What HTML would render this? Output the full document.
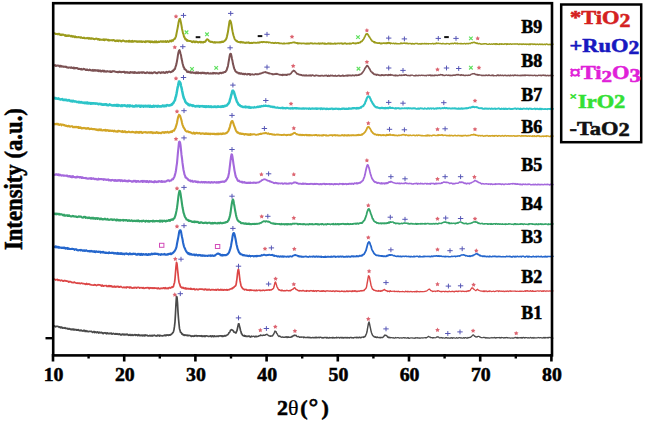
<!DOCTYPE html>
<html><head><meta charset="utf-8"><style>
html,body{margin:0;padding:0;background:#fff;}
body{width:645px;height:424px;overflow:hidden;position:relative;}
svg{position:absolute;left:0;top:0;display:block;}
.t{font-family:"Liberation Serif",serif;font-weight:bold;stroke:currentColor;stroke-width:0.55px;}
</style></head><body>
<svg width="645" height="424" viewBox="0 0 645 424">
<rect width="645" height="424" fill="#fff"/>
<path d="M54.5 33.19 L55.0 33.53 L55.5 33.97 L56.0 33.98 L56.5 34.10 L57.0 33.86 L57.5 34.35 L58.0 34.14 L58.5 33.73 L59.0 34.23 L59.5 33.86 L60.0 34.92 L60.5 35.02 L61.0 34.43 L61.5 34.48 L62.0 35.07 L62.5 34.53 L63.0 34.58 L63.5 34.67 L64.0 34.92 L64.5 35.31 L65.0 35.76 L65.5 35.01 L66.0 35.90 L66.5 35.54 L67.0 35.99 L67.5 35.98 L68.0 35.33 L68.5 35.94 L69.0 35.44 L69.5 35.38 L70.0 35.88 L70.5 36.37 L71.0 36.21 L71.5 35.87 L72.0 36.66 L72.5 36.81 L73.0 36.13 L73.5 36.43 L74.0 36.71 L74.5 37.07 L75.0 36.28 L75.5 36.82 L76.0 37.34 L76.5 37.01 L77.0 37.19 L77.5 37.32 L78.0 37.09 L78.5 36.92 L79.0 37.31 L79.5 37.30 L80.0 37.16 L80.5 37.78 L81.0 37.30 L81.5 37.50 L82.0 37.86 L82.5 37.98 L83.0 38.12 L83.5 37.92 L84.0 37.54 L84.5 38.25 L85.0 38.37 L85.5 38.22 L86.0 38.33 L86.5 38.11 L87.0 38.14 L87.5 38.29 L88.0 37.87 L88.5 38.50 L89.0 38.76 L89.5 38.04 L90.0 38.74 L90.5 38.74 L91.0 38.15 L91.5 38.13 L92.0 38.78 L92.5 38.42 L93.0 38.57 L93.5 38.96 L94.0 39.04 L94.5 39.20 L95.0 39.05 L95.5 38.84 L96.0 38.53 L96.5 38.69 L97.0 38.83 L97.5 39.24 L98.0 39.50 L98.5 38.98 L99.0 39.23 L99.5 39.87 L100.0 39.33 L100.5 39.72 L101.0 39.65 L101.5 39.74 L102.0 39.58 L102.5 39.70 L103.0 39.91 L103.5 39.36 L104.0 40.10 L104.5 40.22 L105.0 39.36 L105.5 39.56 L106.0 39.66 L106.5 39.52 L107.0 39.61 L107.5 40.20 L108.0 39.67 L108.5 39.64 L109.0 40.65 L109.5 40.08 L110.0 40.27 L110.5 40.23 L111.0 40.13 L111.5 40.28 L112.0 40.03 L112.5 40.49 L113.0 40.16 L113.5 40.07 L114.0 40.17 L114.5 40.43 L115.0 41.03 L115.5 40.70 L116.0 41.15 L116.5 40.54 L117.0 40.42 L117.5 40.94 L118.0 40.40 L118.5 41.31 L119.0 40.67 L119.5 40.57 L120.0 40.60 L120.5 40.66 L121.0 41.38 L121.5 41.47 L122.0 41.02 L122.5 40.68 L123.0 40.46 L123.5 40.56 L124.0 40.83 L124.5 41.23 L125.0 41.24 L125.5 41.51 L126.0 41.50 L126.5 41.00 L127.0 41.38 L127.5 41.15 L128.0 41.48 L128.5 40.90 L129.0 41.79 L129.5 40.77 L130.0 41.44 L130.5 41.17 L131.0 41.68 L131.5 40.97 L132.0 41.81 L132.5 40.86 L133.0 41.68 L133.5 41.66 L134.0 41.46 L134.5 41.11 L135.0 41.36 L135.5 41.44 L136.0 41.20 L136.5 41.16 L137.0 41.92 L137.5 41.61 L138.0 41.32 L138.5 41.72 L139.0 41.75 L139.5 41.21 L140.0 41.72 L140.5 41.73 L141.0 41.22 L141.5 41.44 L142.0 42.07 L142.5 41.77 L143.0 41.39 L143.5 41.59 L144.0 41.67 L144.5 41.95 L145.0 42.13 L145.5 41.28 L146.0 41.25 L146.5 41.69 L147.0 41.23 L147.5 41.39 L148.0 41.34 L148.5 41.33 L149.0 41.93 L149.5 41.35 L150.0 41.87 L150.5 42.32 L151.0 41.41 L151.5 42.10 L152.0 41.91 L152.5 41.45 L153.0 42.31 L153.5 42.08 L154.0 41.69 L154.5 42.25 L155.0 41.39 L155.5 42.19 L156.0 42.20 L156.5 41.40 L157.0 42.28 L157.5 42.13 L158.0 42.27 L158.5 41.57 L159.0 42.07 L159.5 42.11 L160.0 41.63 L160.5 41.27 L161.0 41.24 L161.5 41.77 L162.0 41.81 L162.5 41.33 L163.0 41.87 L163.5 41.22 L164.0 41.67 L164.5 41.68 L165.0 41.32 L165.5 41.13 L166.0 42.04 L166.5 41.95 L167.0 41.62 L167.5 40.97 L168.0 41.47 L168.5 41.90 L169.0 41.62 L169.5 41.46 L170.0 40.67 L170.5 41.18 L171.0 40.70 L171.5 41.40 L172.0 40.18 L172.5 40.23 L173.0 40.73 L173.5 39.59 L174.0 39.38 L174.5 38.83 L175.0 38.70 L175.5 37.45 L176.0 36.29 L176.5 33.62 L177.0 31.17 L177.5 28.66 L178.0 26.03 L178.5 22.78 L179.0 20.63 L179.5 19.18 L180.0 18.87 L180.5 20.68 L181.0 22.88 L181.5 25.61 L182.0 28.70 L182.5 30.90 L183.0 33.38 L183.5 34.36 L184.0 36.80 L184.5 37.13 L185.0 38.66 L185.5 39.46 L186.0 39.10 L186.5 40.05 L187.0 40.84 L187.5 40.03 L188.0 40.77 L188.5 40.86 L189.0 40.95 L189.5 40.87 L190.0 40.96 L190.5 41.15 L191.0 41.18 L191.5 41.34 L192.0 42.07 L192.5 42.19 L193.0 41.48 L193.5 41.28 L194.0 41.58 L194.5 42.27 L195.0 41.56 L195.5 42.13 L196.0 41.53 L196.5 41.85 L197.0 41.67 L197.5 42.19 L198.0 41.94 L198.5 42.40 L199.0 42.13 L199.5 42.02 L200.0 41.76 L200.5 42.42 L201.0 41.78 L201.5 42.15 L202.0 42.54 L202.5 42.37 L203.0 42.00 L203.5 42.43 L204.0 41.82 L204.5 41.96 L205.0 41.75 L205.5 41.50 L206.0 40.60 L206.5 39.96 L207.0 39.21 L207.5 39.48 L208.0 39.69 L208.5 39.99 L209.0 40.97 L209.5 41.36 L210.0 41.44 L210.5 41.88 L211.0 41.72 L211.5 41.90 L212.0 41.86 L212.5 41.90 L213.0 42.36 L213.5 42.55 L214.0 42.56 L214.5 42.08 L215.0 42.66 L215.5 42.17 L216.0 42.45 L216.5 42.37 L217.0 42.26 L217.5 42.41 L218.0 42.55 L218.5 42.37 L219.0 42.19 L219.5 42.44 L220.0 42.30 L220.5 41.95 L221.0 42.37 L221.5 41.83 L222.0 41.44 L222.5 42.07 L223.0 41.92 L223.5 41.42 L224.0 41.37 L224.5 41.04 L225.0 40.16 L225.5 40.15 L226.0 39.20 L226.5 38.31 L227.0 36.30 L227.5 33.96 L228.0 31.60 L228.5 28.17 L229.0 25.00 L229.5 21.41 L230.0 20.47 L230.5 21.11 L231.0 22.39 L231.5 24.99 L232.0 28.24 L232.5 31.17 L233.0 33.60 L233.5 35.55 L234.0 37.02 L234.5 38.56 L235.0 39.71 L235.5 40.02 L236.0 40.44 L236.5 41.29 L237.0 40.94 L237.5 41.48 L238.0 41.89 L238.5 42.00 L239.0 42.10 L239.5 42.15 L240.0 42.06 L240.5 42.56 L241.0 41.86 L241.5 42.26 L242.0 42.34 L242.5 42.61 L243.0 42.31 L243.5 42.28 L244.0 42.52 L244.5 42.71 L245.0 42.65 L245.5 42.96 L246.0 42.66 L246.5 42.47 L247.0 42.84 L247.5 42.66 L248.0 42.39 L248.5 42.70 L249.0 42.49 L249.5 42.92 L250.0 43.15 L250.5 43.02" stroke="#9b9b1c" stroke-width="2.00" fill="none" stroke-linejoin="round" stroke-linecap="round"/><path d="M249.5 42.92 L250.0 43.15 L250.5 43.02 L251.0 43.21 L251.5 42.56 L252.0 43.12 L252.5 43.06 L253.0 42.64 L253.5 42.83 L254.0 42.58 L254.5 42.68 L255.0 42.84 L255.5 42.72 L256.0 42.70 L256.5 42.94 L257.0 42.88 L257.5 42.40 L258.0 42.73 L258.5 42.85 L259.0 42.21 L259.5 42.73 L260.0 42.09 L260.5 42.36 L261.0 42.25 L261.5 41.90 L262.0 41.88 L262.5 42.29 L263.0 41.91 L263.5 42.06 L264.0 41.74 L264.5 42.08 L265.0 42.33 L265.5 42.20 L266.0 41.91 L266.5 42.42 L267.0 41.98 L267.5 41.98 L268.0 42.16 L268.5 42.67 L269.0 42.26 L269.5 42.25 L270.0 42.51 L270.5 42.65 L271.0 42.81 L271.5 42.83 L272.0 42.85 L272.5 42.70 L273.0 42.77 L273.5 43.24 L274.0 42.89 L274.5 43.14 L275.0 42.86 L275.5 42.61 L276.0 42.94 L276.5 43.07 L277.0 42.99 L277.5 42.86 L278.0 42.84 L278.5 42.77 L279.0 43.31 L279.5 43.18 L280.0 43.42 L280.5 43.47 L281.0 43.39 L281.5 43.43 L282.0 43.53 L282.5 43.54 L283.0 43.48 L283.5 43.54 L284.0 43.11 L284.5 43.63 L285.0 43.55 L285.5 43.49 L286.0 43.52 L286.5 43.43 L287.0 43.29 L287.5 43.24 L288.0 43.56 L288.5 43.03 L289.0 43.30 L289.5 43.49 L290.0 42.92 L290.5 42.77 L291.0 42.83 L291.5 42.86 L292.0 42.82 L292.5 42.52 L293.0 42.46 L293.5 42.35 L294.0 42.61 L294.5 42.39 L295.0 42.62 L295.5 42.56 L296.0 43.01 L296.5 43.08 L297.0 42.84 L297.5 43.52 L298.0 43.00 L298.5 43.54 L299.0 43.10 L299.5 43.34 L300.0 43.39 L300.5 43.40 L301.0 43.23 L301.5 43.60 L302.0 43.48 L302.5 43.44 L303.0 43.39 L303.5 43.24 L304.0 43.34 L304.5 43.61 L305.0 43.60 L305.5 43.83 L306.0 43.63 L306.5 43.84 L307.0 43.32 L307.5 43.28 L308.0 43.86 L308.5 43.41 L309.0 43.54 L309.5 43.77 L310.0 43.18 L310.5 43.18 L311.0 43.47 L311.5 43.26 L312.0 43.15 L312.5 43.67 L313.0 43.55 L313.5 43.48 L314.0 43.63 L314.5 43.36 L315.0 43.44 L315.5 43.40 L316.0 43.65 L316.5 43.50 L317.0 43.60 L317.5 43.58 L318.0 43.60 L318.5 43.18 L319.0 43.78 L319.5 43.88 L320.0 43.21 L320.5 43.75 L321.0 43.62 L321.5 43.76 L322.0 43.18 L322.5 43.20 L323.0 43.61 L323.5 43.62 L324.0 43.27 L324.5 43.81 L325.0 43.27 L325.5 43.90 L326.0 43.83 L326.5 43.77 L327.0 43.88 L327.5 43.43 L328.0 43.69 L328.5 43.22 L329.0 43.81 L329.5 43.36 L330.0 43.25 L330.5 43.82 L331.0 43.26 L331.5 43.73 L332.0 43.98 L332.5 43.64 L333.0 43.65 L333.5 43.82 L334.0 43.80 L334.5 43.61 L335.0 43.25 L335.5 43.99 L336.0 43.79 L336.5 43.59 L337.0 43.74 L337.5 43.40 L338.0 43.39 L338.5 43.23 L339.0 43.51 L339.5 43.65 L340.0 43.27 L340.5 43.34 L341.0 43.50 L341.5 43.19 L342.0 43.83 L342.5 43.31 L343.0 43.90 L343.5 43.63 L344.0 43.42 L344.5 43.22 L345.0 43.66 L345.5 43.20 L346.0 43.41 L346.5 43.94 L347.0 43.80 L347.5 43.70 L348.0 43.59 L348.5 43.61 L349.0 43.70 L349.5 43.79 L350.0 43.16 L350.5 43.78 L351.0 43.84 L351.5 43.51 L352.0 43.29 L352.5 43.05 L353.0 43.26 L353.5 42.99 L354.0 43.48 L354.5 43.39 L355.0 43.46 L355.5 43.54 L356.0 43.05 L356.5 43.35 L357.0 43.29 L357.5 43.08 L358.0 42.61 L358.5 43.16 L359.0 42.79 L359.5 42.58 L360.0 42.71 L360.5 41.89 L361.0 41.53 L361.5 41.66 L362.0 41.24 L362.5 40.52 L363.0 39.87 L363.5 39.25 L364.0 38.40 L364.5 37.28 L365.0 36.36 L365.5 35.25 L366.0 34.22 L366.5 34.28 L367.0 33.63 L367.5 34.00 L368.0 34.84 L368.5 35.39 L369.0 36.62 L369.5 36.99 L370.0 37.97 L370.5 38.51 L371.0 39.74 L371.5 39.98 L372.0 40.81 L372.5 41.30 L373.0 41.46 L373.5 41.52 L374.0 42.47 L374.5 41.95 L375.0 42.76 L375.5 42.37 L376.0 42.71 L376.5 42.82 L377.0 42.88 L377.5 43.08 L378.0 43.21 L378.5 43.26 L379.0 42.81 L379.5 43.09 L380.0 42.98 L380.5 43.62 L381.0 43.30 L381.5 43.67 L382.0 43.06 L382.5 43.44 L383.0 43.30 L383.5 43.14 L384.0 43.00 L384.5 43.30 L385.0 43.49 L385.5 43.13 L386.0 43.10 L386.5 43.40 L387.0 42.81 L387.5 42.86 L388.0 43.28 L388.5 42.65 L389.0 42.66 L389.5 43.20 L390.0 43.11 L390.5 43.51" stroke="#9b9b1c" stroke-width="1.70" fill="none" stroke-linejoin="round" stroke-linecap="round"/><path d="M389.5 43.20 L390.0 43.11 L390.5 43.51 L391.0 43.30 L391.5 43.12 L392.0 43.48 L392.5 43.35 L393.0 43.54 L393.5 43.23 L394.0 43.15 L394.5 43.85 L395.0 43.81 L395.5 43.28 L396.0 43.25 L396.5 43.84 L397.0 43.75 L397.5 43.54 L398.0 43.86 L398.5 43.83 L399.0 43.82 L399.5 43.88 L400.0 43.77 L400.5 43.08 L401.0 43.55 L401.5 43.05 L402.0 43.63 L402.5 43.50 L403.0 43.26 L403.5 43.08 L404.0 43.27 L404.5 42.97 L405.0 43.33 L405.5 43.60 L406.0 42.93 L406.5 43.27 L407.0 43.67 L407.5 43.22 L408.0 43.41 L408.5 43.82 L409.0 43.66 L409.5 43.44 L410.0 43.57 L410.5 43.56 L411.0 43.69 L411.5 44.09 L412.0 43.51 L412.5 43.57 L413.0 44.04 L413.5 43.72 L414.0 43.85 L414.5 44.03 L415.0 43.42 L415.5 43.49 L416.0 43.46 L416.5 43.50 L417.0 43.41 L417.5 43.55 L418.0 44.10 L418.5 44.08 L419.0 43.92 L419.5 43.78 L420.0 43.97 L420.5 44.14 L421.0 43.60 L421.5 43.96 L422.0 43.48 L422.5 43.68 L423.0 43.80 L423.5 43.88 L424.0 43.55 L424.5 43.71 L425.0 43.51 L425.5 43.67 L426.0 44.02 L426.5 43.57 L427.0 43.65 L427.5 43.86 L428.0 43.53 L428.5 44.08 L429.0 43.64 L429.5 43.61 L430.0 43.62 L430.5 43.73 L431.0 43.71 L431.5 43.67 L432.0 43.66 L432.5 43.47 L433.0 43.34 L433.5 43.95 L434.0 43.89 L434.5 43.77 L435.0 43.51 L435.5 43.84 L436.0 43.11 L436.5 42.99 L437.0 43.64 L437.5 43.30 L438.0 43.29 L438.5 43.28 L439.0 43.47 L439.5 43.46 L440.0 43.58 L440.5 43.45 L441.0 43.72 L441.5 43.67 L442.0 43.85 L442.5 43.84 L443.0 43.36 L443.5 43.65 L444.0 43.85 L444.5 43.91 L445.0 43.71 L445.5 43.84 L446.0 44.09 L446.5 43.56 L447.0 43.61 L447.5 43.64 L448.0 43.51 L448.5 43.87 L449.0 43.86 L449.5 44.17 L450.0 43.79 L450.5 43.54 L451.0 43.41 L451.5 43.78 L452.0 43.38 L452.5 43.33 L453.0 43.54 L453.5 43.76 L454.0 43.29 L454.5 43.21 L455.0 42.99 L455.5 43.68 L456.0 43.54 L456.5 43.33 L457.0 43.00 L457.5 43.74 L458.0 43.51 L458.5 43.65 L459.0 43.66 L459.5 43.63 L460.0 43.55 L460.5 43.87 L461.0 43.37 L461.5 43.54 L462.0 43.80 L462.5 43.73 L463.0 43.78 L463.5 43.84 L464.0 43.48 L464.5 43.53 L465.0 43.40 L465.5 43.92 L466.0 43.89 L466.5 43.38 L467.0 43.49 L467.5 43.57 L468.0 43.90 L468.5 43.80 L469.0 43.28 L469.5 43.41 L470.0 43.41 L470.5 43.45 L471.0 42.83 L471.5 42.70 L472.0 43.01 L472.5 42.82 L473.0 42.42 L473.5 42.33 L474.0 42.51 L474.5 42.24 L475.0 42.80 L475.5 43.05 L476.0 42.72 L476.5 43.38 L477.0 43.48 L477.5 42.96 L478.0 43.63 L478.5 43.73 L479.0 43.67 L479.5 43.44 L480.0 43.70 L480.5 44.12 L481.0 43.89 L481.5 44.20 L482.0 44.12 L482.5 43.96 L483.0 44.16 L483.5 43.90 L484.0 43.65 L484.5 43.99 L485.0 43.72 L485.5 43.81 L486.0 43.64 L486.5 44.00 L487.0 44.21 L487.5 44.40 L488.0 44.21 L488.5 44.18 L489.0 44.22 L489.5 43.81 L490.0 44.12 L490.5 44.36 L491.0 44.16 L491.5 43.95 L492.0 44.23 L492.5 44.35 L493.0 43.99 L493.5 43.83 L494.0 43.93 L494.5 44.24 L495.0 43.83 L495.5 43.84 L496.0 44.44 L496.5 43.71 L497.0 43.76 L497.5 44.32 L498.0 44.21 L498.5 44.39 L499.0 44.43 L499.5 43.83 L500.0 44.28 L500.5 43.91 L501.0 44.24 L501.5 43.74 L502.0 44.32 L502.5 43.87 L503.0 44.23 L503.5 44.08 L504.0 44.24 L504.5 44.04 L505.0 43.74 L505.5 43.96 L506.0 43.93 L506.5 44.52 L507.0 43.76 L507.5 44.35 L508.0 43.84 L508.5 44.00 L509.0 44.30 L509.5 44.19 L510.0 43.77 L510.5 43.97 L511.0 43.98 L511.5 44.26 L512.0 44.16 L512.5 44.12 L513.0 43.76 L513.5 44.11 L514.0 44.13 L514.5 43.87 L515.0 44.21 L515.5 43.88 L516.0 44.07 L516.5 43.87 L517.0 44.06 L517.5 43.84 L518.0 44.23 L518.5 44.25 L519.0 44.53 L519.5 44.03 L520.0 43.87 L520.5 44.11 L521.0 44.37 L521.5 43.98 L522.0 44.55 L522.5 44.00 L523.0 44.31 L523.5 43.88 L524.0 44.26 L524.5 44.41 L525.0 44.20 L525.5 44.03 L526.0 44.26 L526.5 44.60 L527.0 44.02 L527.5 44.40 L528.0 44.24 L528.5 44.60 L529.0 44.04 L529.5 44.50 L530.0 43.84 L530.5 44.58 L531.0 43.87 L531.5 44.10 L532.0 44.02 L532.5 44.06 L533.0 44.55 L533.5 44.02 L534.0 44.32 L534.5 44.34 L535.0 43.91 L535.5 44.48 L536.0 44.64 L536.5 44.29 L537.0 44.04 L537.5 44.12 L538.0 44.35 L538.5 44.66 L539.0 44.49 L539.5 44.13 L540.0 44.01 L540.5 44.49 L541.0 44.30 L541.5 44.17 L542.0 44.57 L542.5 44.17 L543.0 44.54 L543.5 44.54 L544.0 44.57 L544.5 44.14 L545.0 44.34 L545.5 44.66 L546.0 44.18 L546.5 44.03 L547.0 44.00 L547.5 44.47 L548.0 44.36 L548.5 44.55 L549.0 44.72 L549.5 44.44 L550.0 44.32 L550.5 44.69 L551.0 44.54 L551.5 44.04 L552.0 44.22 L552.5 44.49 L553.0 44.18" stroke="#9b9b1c" stroke-width="1.44" fill="none" stroke-linejoin="round" stroke-linecap="round"/>
<path d="M54.5 65.39 L55.0 64.96 L55.5 65.90 L56.0 65.94 L56.5 65.52 L57.0 65.82 L57.5 65.41 L58.0 65.50 L58.5 65.66 L59.0 66.18 L59.5 65.73 L60.0 66.65 L60.5 65.74 L61.0 65.95 L61.5 65.92 L62.0 66.74 L62.5 66.38 L63.0 66.57 L63.5 66.49 L64.0 66.91 L64.5 66.73 L65.0 66.59 L65.5 66.90 L66.0 66.84 L66.5 66.70 L67.0 67.56 L67.5 67.47 L68.0 67.53 L68.5 67.84 L69.0 67.37 L69.5 67.43 L70.0 67.54 L70.5 67.59 L71.0 67.95 L71.5 67.29 L72.0 67.86 L72.5 68.01 L73.0 67.87 L73.5 67.58 L74.0 68.39 L74.5 67.69 L75.0 68.37 L75.5 67.98 L76.0 67.91 L76.5 68.14 L77.0 68.07 L77.5 68.23 L78.0 68.88 L78.5 68.99 L79.0 68.65 L79.5 69.02 L80.0 68.89 L80.5 68.97 L81.0 69.45 L81.5 68.88 L82.0 69.56 L82.5 69.42 L83.0 69.46 L83.5 68.78 L84.0 68.92 L84.5 68.92 L85.0 69.32 L85.5 70.03 L86.0 70.01 L86.5 70.02 L87.0 69.28 L87.5 69.98 L88.0 70.10 L88.5 70.19 L89.0 70.23 L89.5 69.56 L90.0 69.65 L90.5 70.37 L91.0 70.36 L91.5 70.58 L92.0 70.13 L92.5 70.66 L93.0 69.88 L93.5 70.83 L94.0 70.79 L94.5 70.23 L95.0 69.98 L95.5 70.55 L96.0 70.75 L96.5 70.42 L97.0 70.14 L97.5 70.42 L98.0 71.06 L98.5 70.29 L99.0 71.26 L99.5 70.55 L100.0 70.53 L100.5 70.47 L101.0 71.46 L101.5 71.41 L102.0 70.81 L102.5 70.60 L103.0 71.25 L103.5 71.54 L104.0 70.61 L104.5 71.33 L105.0 71.61 L105.5 71.21 L106.0 71.36 L106.5 71.65 L107.0 71.06 L107.5 71.13 L108.0 71.59 L108.5 71.50 L109.0 71.52 L109.5 71.32 L110.0 72.02 L110.5 71.33 L111.0 71.79 L111.5 72.06 L112.0 71.54 L112.5 71.19 L113.0 71.40 L113.5 71.26 L114.0 71.37 L114.5 71.37 L115.0 71.64 L115.5 71.70 L116.0 71.81 L116.5 72.07 L117.0 72.11 L117.5 72.14 L118.0 71.81 L118.5 72.16 L119.0 72.06 L119.5 71.62 L120.0 72.10 L120.5 71.87 L121.0 72.29 L121.5 72.37 L122.0 71.85 L122.5 72.08 L123.0 72.12 L123.5 71.97 L124.0 71.71 L124.5 71.74 L125.0 72.79 L125.5 72.53 L126.0 72.22 L126.5 72.48 L127.0 72.06 L127.5 72.57 L128.0 72.85 L128.5 72.67 L129.0 72.34 L129.5 72.93 L130.0 72.88 L130.5 71.94 L131.0 72.34 L131.5 72.40 L132.0 72.22 L132.5 72.61 L133.0 72.10 L133.5 72.78 L134.0 72.91 L134.5 72.04 L135.0 72.75 L135.5 72.29 L136.0 72.71 L136.5 72.78 L137.0 73.10 L137.5 72.92 L138.0 72.42 L138.5 72.86 L139.0 72.23 L139.5 72.86 L140.0 72.54 L140.5 72.38 L141.0 72.36 L141.5 72.34 L142.0 72.98 L142.5 72.22 L143.0 72.38 L143.5 72.34 L144.0 72.30 L144.5 72.94 L145.0 72.79 L145.5 72.87 L146.0 73.14 L146.5 72.64 L147.0 72.19 L147.5 72.36 L148.0 72.73 L148.5 72.95 L149.0 73.17 L149.5 72.72 L150.0 72.41 L150.5 72.81 L151.0 73.19 L151.5 72.53 L152.0 73.18 L152.5 73.15 L153.0 72.79 L153.5 72.68 L154.0 72.29 L154.5 72.27 L155.0 72.19 L155.5 72.81 L156.0 72.92 L156.5 73.22 L157.0 72.78 L157.5 73.21 L158.0 72.55 L158.5 72.24 L159.0 72.15 L159.5 72.39 L160.0 72.65 L160.5 73.14 L161.0 72.37 L161.5 72.28 L162.0 72.80 L162.5 72.42 L163.0 72.58 L163.5 72.12 L164.0 72.86 L164.5 72.91 L165.0 72.70 L165.5 72.87 L166.0 72.17 L166.5 71.80 L167.0 72.06 L167.5 72.66 L168.0 72.14 L168.5 71.78 L169.0 71.66 L169.5 71.59 L170.0 71.81 L170.5 72.25 L171.0 72.09 L171.5 71.82 L172.0 71.65 L172.5 70.82 L173.0 71.20 L173.5 70.23 L174.0 70.08 L174.5 68.88 L175.0 68.90 L175.5 66.81 L176.0 65.66 L176.5 63.61 L177.0 61.00 L177.5 58.07 L178.0 54.60 L178.5 52.27 L179.0 50.65 L179.5 50.09 L180.0 51.60 L180.5 53.51 L181.0 55.19 L181.5 58.53 L182.0 60.42 L182.5 63.29 L183.0 64.89 L183.5 66.99 L184.0 67.36 L184.5 69.34 L185.0 69.10 L185.5 69.70 L186.0 70.08 L186.5 70.56 L187.0 71.78 L187.5 71.83 L188.0 72.10 L188.5 71.45 L189.0 72.13 L189.5 72.36 L190.0 72.39 L190.5 71.97 L191.0 72.82 L191.5 72.62 L192.0 72.64 L192.5 72.26 L193.0 72.43 L193.5 72.88 L194.0 72.65 L194.5 72.66 L195.0 73.18 L195.5 72.66 L196.0 73.18 L196.5 72.31 L197.0 72.87 L197.5 73.10 L198.0 72.35 L198.5 73.13 L199.0 72.70 L199.5 73.09 L200.0 73.07 L200.5 72.70 L201.0 73.37 L201.5 72.82 L202.0 72.75 L202.5 73.01 L203.0 72.72 L203.5 72.77 L204.0 73.31 L204.5 72.79 L205.0 73.16 L205.5 73.44 L206.0 73.11 L206.5 73.41 L207.0 73.43 L207.5 72.90 L208.0 72.84 L208.5 73.42 L209.0 73.49 L209.5 73.48 L210.0 73.38 L210.5 73.23 L211.0 73.60 L211.5 73.43 L212.0 73.46 L212.5 73.59 L213.0 72.91 L213.5 73.46 L214.0 73.34 L214.5 72.89 L215.0 73.09 L215.5 73.46 L216.0 73.31 L216.5 73.33 L217.0 73.10 L217.5 73.32 L218.0 73.56 L218.5 73.63 L219.0 73.27 L219.5 73.39 L220.0 72.84 L220.5 72.85 L221.0 73.14 L221.5 73.30 L222.0 72.67 L222.5 72.61 L223.0 72.80 L223.5 72.52 L224.0 72.23 L224.5 72.05 L225.0 71.99 L225.5 71.90 L226.0 70.86 L226.5 70.58 L227.0 68.87 L227.5 67.44 L228.0 65.70 L228.5 62.56 L229.0 59.80 L229.5 56.58 L230.0 54.19 L230.5 53.76 L231.0 53.90 L231.5 56.24 L232.0 58.92 L232.5 61.07 L233.0 64.06 L233.5 65.80 L234.0 67.94 L234.5 69.20 L235.0 70.10 L235.5 71.34 L236.0 71.79 L236.5 71.94 L237.0 72.48 L237.5 72.52 L238.0 72.72 L238.5 73.41 L239.0 73.59 L239.5 73.05 L240.0 73.77 L240.5 73.70 L241.0 73.22 L241.5 73.37 L242.0 73.70 L242.5 74.12 L243.0 74.17 L243.5 73.72 L244.0 73.92 L244.5 74.35 L245.0 73.82 L245.5 73.77 L246.0 74.05 L246.5 74.29 L247.0 74.48 L247.5 74.51 L248.0 73.84 L248.5 74.00 L249.0 73.98 L249.5 74.38 L250.0 74.24 L250.5 74.67" stroke="#7c5254" stroke-width="2.00" fill="none" stroke-linejoin="round" stroke-linecap="round"/><path d="M249.5 74.38 L250.0 74.24 L250.5 74.67 L251.0 74.43 L251.5 74.44 L252.0 74.50 L252.5 74.11 L253.0 74.67 L253.5 74.64 L254.0 74.60 L254.5 74.56 L255.0 74.06 L255.5 73.94 L256.0 74.17 L256.5 74.42 L257.0 73.96 L257.5 74.44 L258.0 74.36 L258.5 74.16 L259.0 73.89 L259.5 73.51 L260.0 73.91 L260.5 73.26 L261.0 73.35 L261.5 73.39 L262.0 73.11 L262.5 72.60 L263.0 72.93 L263.5 72.32 L264.0 72.27 L264.5 72.21 L265.0 72.39 L265.5 71.90 L266.0 72.45 L266.5 72.44 L267.0 72.83 L267.5 72.64 L268.0 72.97 L268.5 73.46 L269.0 72.90 L269.5 73.65 L270.0 73.54 L270.5 73.55 L271.0 73.66 L271.5 73.73 L272.0 74.32 L272.5 73.88 L273.0 74.54 L273.5 74.20 L274.0 73.99 L274.5 74.31 L275.0 74.04 L275.5 74.18 L276.0 73.56 L276.5 74.08 L277.0 73.70 L277.5 73.99 L278.0 74.33 L278.5 74.37 L279.0 74.44 L279.5 74.74 L280.0 74.93 L280.5 74.70 L281.0 74.81 L281.5 75.05 L282.0 74.62 L282.5 75.25 L283.0 74.48 L283.5 74.76 L284.0 75.13 L284.5 74.66 L285.0 74.73 L285.5 74.60 L286.0 75.23 L286.5 75.14 L287.0 74.48 L287.5 74.81 L288.0 74.46 L288.5 74.28 L289.0 74.35 L289.5 74.58 L290.0 74.23 L290.5 73.73 L291.0 73.55 L291.5 72.61 L292.0 72.17 L292.5 71.27 L293.0 71.21 L293.5 70.49 L294.0 70.79 L294.5 70.83 L295.0 71.43 L295.5 72.17 L296.0 72.52 L296.5 73.28 L297.0 73.91 L297.5 73.71 L298.0 74.09 L298.5 74.16 L299.0 74.70 L299.5 74.51 L300.0 74.93 L300.5 74.72 L301.0 75.07 L301.5 74.92 L302.0 75.33 L302.5 75.42 L303.0 75.56 L303.5 75.20 L304.0 75.56 L304.5 75.56 L305.0 75.16 L305.5 75.70 L306.0 75.70 L306.5 75.07 L307.0 75.56 L307.5 75.53 L308.0 75.49 L308.5 75.58 L309.0 75.24 L309.5 75.70 L310.0 75.62 L310.5 75.20 L311.0 75.84 L311.5 75.67 L312.0 75.13 L312.5 75.13 L313.0 75.25 L313.5 75.65 L314.0 75.71 L314.5 75.88 L315.0 75.86 L315.5 75.32 L316.0 75.32 L316.5 75.24 L317.0 75.50 L317.5 75.53 L318.0 75.51 L318.5 75.87 L319.0 75.71 L319.5 75.87 L320.0 75.93 L320.5 75.86 L321.0 75.66 L321.5 75.59 L322.0 75.70 L322.5 75.64 L323.0 75.82 L323.5 75.97 L324.0 75.84 L324.5 75.51 L325.0 75.76 L325.5 75.68 L326.0 75.43 L326.5 75.42 L327.0 75.70 L327.5 76.10 L328.0 75.92 L328.5 75.41 L329.0 76.10 L329.5 75.96 L330.0 75.87 L330.5 75.39 L331.0 75.63 L331.5 75.64 L332.0 75.76 L332.5 75.47 L333.0 75.87 L333.5 75.85 L334.0 75.87 L334.5 75.75 L335.0 75.80 L335.5 75.44 L336.0 76.01 L336.5 76.04 L337.0 76.02 L337.5 75.95 L338.0 75.53 L338.5 75.56 L339.0 75.37 L339.5 75.95 L340.0 76.00 L340.5 76.06 L341.0 75.79 L341.5 75.94 L342.0 75.97 L342.5 75.39 L343.0 75.34 L343.5 75.98 L344.0 76.05 L344.5 75.84 L345.0 75.75 L345.5 75.57 L346.0 75.93 L346.5 75.46 L347.0 75.27 L347.5 75.86 L348.0 75.25 L348.5 75.77 L349.0 75.70 L349.5 75.26 L350.0 75.51 L350.5 75.36 L351.0 75.77 L351.5 75.73 L352.0 75.35 L352.5 75.19 L353.0 75.32 L353.5 75.38 L354.0 75.48 L354.5 75.73 L355.0 75.19 L355.5 75.02 L356.0 75.36 L356.5 75.15 L357.0 75.35 L357.5 75.22 L358.0 75.05 L358.5 75.18 L359.0 74.57 L359.5 74.91 L360.0 74.26 L360.5 74.28 L361.0 74.06 L361.5 73.71 L362.0 72.93 L362.5 72.67 L363.0 71.88 L363.5 71.12 L364.0 70.37 L364.5 69.40 L365.0 68.23 L365.5 67.62 L366.0 66.96 L366.5 66.38 L367.0 65.56 L367.5 65.75 L368.0 66.32 L368.5 67.13 L369.0 67.99 L369.5 68.76 L370.0 69.53 L370.5 70.75 L371.0 71.46 L371.5 72.01 L372.0 72.15 L372.5 73.07 L373.0 72.91 L373.5 73.99 L374.0 74.09 L374.5 74.51 L375.0 74.30 L375.5 74.69 L376.0 74.45 L376.5 75.10 L377.0 74.59 L377.5 74.53 L378.0 74.81 L378.5 75.17 L379.0 75.11 L379.5 75.36 L380.0 75.30 L380.5 75.41 L381.0 75.56 L381.5 74.88 L382.0 74.93 L382.5 75.09 L383.0 74.98 L383.5 75.33 L384.0 75.47 L384.5 75.03 L385.0 75.28 L385.5 75.07 L386.0 74.86 L386.5 75.02 L387.0 74.98 L387.5 75.27 L388.0 75.43 L388.5 74.64 L389.0 74.92 L389.5 74.85 L390.0 74.97 L390.5 74.60" stroke="#7c5254" stroke-width="1.70" fill="none" stroke-linejoin="round" stroke-linecap="round"/><path d="M389.5 74.85 L390.0 74.97 L390.5 74.60 L391.0 75.29 L391.5 74.80 L392.0 75.11 L392.5 75.03 L393.0 75.22 L393.5 75.53 L394.0 75.36 L394.5 75.18 L395.0 75.70 L395.5 75.10 L396.0 75.75 L396.5 75.53 L397.0 75.20 L397.5 75.79 L398.0 75.69 L398.5 75.40 L399.0 75.63 L399.5 75.03 L400.0 75.15 L400.5 75.27 L401.0 75.60 L401.5 75.08 L402.0 75.51 L402.5 75.11 L403.0 75.15 L403.5 75.16 L404.0 74.62 L404.5 75.26 L405.0 75.04 L405.5 74.72 L406.0 74.80 L406.5 75.38 L407.0 75.25 L407.5 75.60 L408.0 75.59 L408.5 75.38 L409.0 75.31 L409.5 75.61 L410.0 75.80 L410.5 75.28 L411.0 75.46 L411.5 75.15 L412.0 75.10 L412.5 75.11 L413.0 75.37 L413.5 75.57 L414.0 75.77 L414.5 75.68 L415.0 75.85 L415.5 75.29 L416.0 75.77 L416.5 75.34 L417.0 75.38 L417.5 75.52 L418.0 75.88 L418.5 75.46 L419.0 75.13 L419.5 75.38 L420.0 75.54 L420.5 75.63 L421.0 75.20 L421.5 75.31 L422.0 75.21 L422.5 75.49 L423.0 75.39 L423.5 75.33 L424.0 75.48 L424.5 75.67 L425.0 75.56 L425.5 75.66 L426.0 75.39 L426.5 75.81 L427.0 75.16 L427.5 75.12 L428.0 75.14 L428.5 75.44 L429.0 75.31 L429.5 75.21 L430.0 75.05 L430.5 75.67 L431.0 75.09 L431.5 75.54 L432.0 75.80 L432.5 75.22 L433.0 75.48 L433.5 75.70 L434.0 75.33 L434.5 75.69 L435.0 74.96 L435.5 75.35 L436.0 75.48 L436.5 75.20 L437.0 75.42 L437.5 75.48 L438.0 75.30 L438.5 74.96 L439.0 75.07 L439.5 75.18 L440.0 74.97 L440.5 74.52 L441.0 74.67 L441.5 75.03 L442.0 74.68 L442.5 74.77 L443.0 75.47 L443.5 75.14 L444.0 75.57 L444.5 75.49 L445.0 75.48 L445.5 75.21 L446.0 75.09 L446.5 74.97 L447.0 75.11 L447.5 75.34 L448.0 75.44 L448.5 75.08 L449.0 75.33 L449.5 75.26 L450.0 75.66 L450.5 75.19 L451.0 75.62 L451.5 75.45 L452.0 75.67 L452.5 75.13 L453.0 75.10 L453.5 75.24 L454.0 75.02 L454.5 75.24 L455.0 75.47 L455.5 75.08 L456.0 74.74 L456.5 74.57 L457.0 74.98 L457.5 74.80 L458.0 74.43 L458.5 74.73 L459.0 75.10 L459.5 75.00 L460.0 74.81 L460.5 75.36 L461.0 75.42 L461.5 74.71 L462.0 74.91 L462.5 75.25 L463.0 75.06 L463.5 74.99 L464.0 75.48 L464.5 75.57 L465.0 75.25 L465.5 75.63 L466.0 75.32 L466.5 75.36 L467.0 75.25 L467.5 75.46 L468.0 75.51 L468.5 75.15 L469.0 75.07 L469.5 75.24 L470.0 75.18 L470.5 74.90 L471.0 74.34 L471.5 74.14 L472.0 74.14 L472.5 73.70 L473.0 73.81 L473.5 73.75 L474.0 73.58 L474.5 73.68 L475.0 74.21 L475.5 74.57 L476.0 74.20 L476.5 74.76 L477.0 74.65 L477.5 74.45 L478.0 75.29 L478.5 74.72 L479.0 75.09 L479.5 74.77 L480.0 75.03 L480.5 75.12 L481.0 75.17 L481.5 75.30 L482.0 75.67 L482.5 75.40 L483.0 75.29 L483.5 75.60 L484.0 75.31 L484.5 75.51 L485.0 75.31 L485.5 75.56 L486.0 75.04 L486.5 75.11 L487.0 75.53 L487.5 75.57 L488.0 75.27 L488.5 75.01 L489.0 75.47 L489.5 75.07 L490.0 75.30 L490.5 75.63 L491.0 75.63 L491.5 75.65 L492.0 75.08 L492.5 75.58 L493.0 75.02 L493.5 75.78 L494.0 75.59 L494.5 75.61 L495.0 75.68 L495.5 75.65 L496.0 75.61 L496.5 75.74 L497.0 75.05 L497.5 75.06 L498.0 75.56 L498.5 75.09 L499.0 75.64 L499.5 75.33 L500.0 75.60 L500.5 75.08 L501.0 75.44 L501.5 75.57 L502.0 75.59 L502.5 75.14 L503.0 75.19 L503.5 75.68 L504.0 75.63 L504.5 75.40 L505.0 75.01 L505.5 75.57 L506.0 75.60 L506.5 75.51 L507.0 75.77 L507.5 75.50 L508.0 75.65 L508.5 75.19 L509.0 75.22 L509.5 75.78 L510.0 75.79 L510.5 75.08 L511.0 75.49 L511.5 75.54 L512.0 75.48 L512.5 75.30 L513.0 75.27 L513.5 75.73 L514.0 75.10 L514.5 75.06 L515.0 75.59 L515.5 75.00 L516.0 75.29 L516.5 75.43 L517.0 75.53 L517.5 75.19 L518.0 75.49 L518.5 75.51 L519.0 75.64 L519.5 75.36 L520.0 75.73 L520.5 75.34 L521.0 75.71 L521.5 75.30 L522.0 75.56 L522.5 75.21 L523.0 75.48 L523.5 75.58 L524.0 75.03 L524.5 75.60 L525.0 75.04 L525.5 75.61 L526.0 75.09 L526.5 75.17 L527.0 75.23 L527.5 75.18 L528.0 75.46 L528.5 75.25 L529.0 75.63 L529.5 75.27 L530.0 75.59 L530.5 75.23 L531.0 75.40 L531.5 75.45 L532.0 75.26 L532.5 75.61 L533.0 75.49 L533.5 75.43 L534.0 75.52 L534.5 75.18 L535.0 75.26 L535.5 75.70 L536.0 75.56 L536.5 75.38 L537.0 75.81 L537.5 75.77 L538.0 75.58 L538.5 75.12 L539.0 75.33 L539.5 75.34 L540.0 75.48 L540.5 75.27 L541.0 75.41 L541.5 75.75 L542.0 75.13 L542.5 75.11 L543.0 75.47 L543.5 75.06 L544.0 75.34 L544.5 75.25 L545.0 75.67 L545.5 75.21 L546.0 75.48 L546.5 75.76 L547.0 75.61 L547.5 75.38 L548.0 75.23 L548.5 75.83 L549.0 75.69 L549.5 75.63 L550.0 75.29 L550.5 75.28 L551.0 75.79 L551.5 75.76 L552.0 75.76 L552.5 75.34 L553.0 75.68" stroke="#7c5254" stroke-width="1.44" fill="none" stroke-linejoin="round" stroke-linecap="round"/>
<path d="M54.5 97.84 L55.0 98.35 L55.5 97.95 L56.0 98.64 L56.5 98.62 L57.0 98.46 L57.5 98.80 L58.0 98.84 L58.5 98.35 L59.0 98.97 L59.5 99.15 L60.0 99.13 L60.5 99.61 L61.0 99.54 L61.5 99.23 L62.0 99.15 L62.5 99.12 L63.0 99.95 L63.5 99.90 L64.0 99.89 L64.5 99.79 L65.0 99.93 L65.5 99.71 L66.0 100.12 L66.5 99.78 L67.0 100.38 L67.5 100.47 L68.0 100.59 L68.5 100.20 L69.0 100.10 L69.5 100.44 L70.0 100.91 L70.5 100.78 L71.0 101.12 L71.5 100.84 L72.0 100.88 L72.5 101.51 L73.0 100.77 L73.5 100.88 L74.0 101.37 L74.5 101.49 L75.0 101.34 L75.5 101.54 L76.0 101.48 L76.5 101.80 L77.0 102.11 L77.5 102.10 L78.0 101.97 L78.5 101.84 L79.0 102.43 L79.5 101.95 L80.0 102.21 L80.5 102.54 L81.0 102.40 L81.5 102.14 L82.0 102.58 L82.5 102.49 L83.0 102.89 L83.5 102.63 L84.0 102.59 L84.5 103.14 L85.0 102.70 L85.5 102.62 L86.0 103.27 L86.5 103.33 L87.0 102.54 L87.5 102.49 L88.0 103.40 L88.5 103.49 L89.0 102.99 L89.5 102.90 L90.0 103.43 L90.5 103.76 L91.0 103.01 L91.5 103.32 L92.0 103.61 L92.5 103.17 L93.0 103.43 L93.5 103.18 L94.0 103.60 L94.5 103.37 L95.0 103.26 L95.5 103.64 L96.0 103.42 L96.5 103.44 L97.0 103.52 L97.5 103.85 L98.0 103.79 L98.5 104.28 L99.0 103.98 L99.5 103.84 L100.0 103.82 L100.5 103.98 L101.0 104.51 L101.5 103.96 L102.0 104.29 L102.5 104.70 L103.0 104.77 L103.5 104.40 L104.0 104.86 L104.5 104.67 L105.0 104.26 L105.5 104.14 L106.0 104.27 L106.5 104.98 L107.0 104.58 L107.5 105.11 L108.0 105.29 L108.5 105.27 L109.0 104.81 L109.5 104.33 L110.0 104.66 L110.5 104.63 L111.0 105.13 L111.5 105.22 L112.0 105.50 L112.5 105.29 L113.0 105.60 L113.5 105.28 L114.0 105.13 L114.5 105.55 L115.0 104.96 L115.5 105.55 L116.0 105.52 L116.5 105.70 L117.0 104.84 L117.5 105.01 L118.0 105.87 L118.5 105.01 L119.0 105.37 L119.5 105.56 L120.0 105.46 L120.5 105.92 L121.0 106.03 L121.5 105.37 L122.0 105.17 L122.5 106.05 L123.0 105.56 L123.5 105.36 L124.0 105.26 L124.5 105.14 L125.0 105.79 L125.5 105.48 L126.0 105.80 L126.5 106.22 L127.0 105.76 L127.5 106.29 L128.0 105.34 L128.5 106.12 L129.0 106.13 L129.5 106.37 L130.0 105.37 L130.5 105.91 L131.0 105.98 L131.5 106.04 L132.0 105.91 L132.5 105.71 L133.0 106.42 L133.5 106.40 L134.0 106.22 L134.5 106.52 L135.0 106.09 L135.5 105.58 L136.0 106.26 L136.5 105.63 L137.0 106.35 L137.5 106.25 L138.0 105.77 L138.5 105.72 L139.0 105.64 L139.5 105.77 L140.0 106.66 L140.5 105.84 L141.0 106.57 L141.5 105.75 L142.0 105.99 L142.5 106.14 L143.0 106.02 L143.5 106.69 L144.0 105.90 L144.5 106.18 L145.0 105.88 L145.5 105.77 L146.0 106.42 L146.5 106.03 L147.0 106.20 L147.5 106.43 L148.0 105.77 L148.5 105.73 L149.0 106.43 L149.5 106.77 L150.0 105.69 L150.5 106.17 L151.0 106.77 L151.5 106.59 L152.0 106.76 L152.5 106.25 L153.0 106.73 L153.5 105.72 L154.0 106.17 L154.5 106.58 L155.0 106.07 L155.5 106.12 L156.0 106.12 L156.5 106.04 L157.0 106.51 L157.5 106.67 L158.0 105.84 L158.5 105.93 L159.0 106.45 L159.5 106.37 L160.0 106.43 L160.5 106.26 L161.0 106.50 L161.5 106.40 L162.0 106.15 L162.5 105.74 L163.0 105.49 L163.5 106.31 L164.0 106.27 L164.5 106.27 L165.0 105.54 L165.5 106.02 L166.0 106.18 L166.5 105.33 L167.0 105.06 L167.5 105.16 L168.0 105.13 L168.5 105.55 L169.0 105.60 L169.5 105.48 L170.0 105.20 L170.5 105.37 L171.0 105.18 L171.5 104.37 L172.0 104.63 L172.5 104.05 L173.0 103.07 L173.5 102.85 L174.0 101.62 L174.5 100.87 L175.0 100.05 L175.5 97.58 L176.0 96.23 L176.5 93.85 L177.0 91.12 L177.5 88.13 L178.0 85.93 L178.5 83.38 L179.0 81.58 L179.5 81.53 L180.0 82.48 L180.5 83.26 L181.0 86.03 L181.5 87.54 L182.0 90.33 L182.5 92.49 L183.0 95.12 L183.5 97.03 L184.0 98.48 L184.5 99.37 L185.0 100.55 L185.5 102.05 L186.0 102.46 L186.5 103.22 L187.0 103.81 L187.5 103.62 L188.0 104.15 L188.5 105.04 L189.0 104.57 L189.5 105.32 L190.0 104.72 L190.5 104.70 L191.0 105.36 L191.5 105.22 L192.0 105.66 L192.5 105.93 L193.0 105.21 L193.5 105.78 L194.0 105.71 L194.5 106.35 L195.0 106.34 L195.5 106.43 L196.0 106.32 L196.5 105.93 L197.0 106.26 L197.5 106.22 L198.0 106.06 L198.5 106.00 L199.0 106.43 L199.5 106.73 L200.0 106.11 L200.5 106.22 L201.0 106.09 L201.5 106.28 L202.0 106.31 L202.5 106.10 L203.0 106.56 L203.5 106.33 L204.0 106.72 L204.5 106.28 L205.0 106.69 L205.5 106.90 L206.0 106.26 L206.5 106.44 L207.0 106.93 L207.5 106.48 L208.0 106.43 L208.5 106.30 L209.0 106.85 L209.5 106.46 L210.0 106.91 L210.5 106.66 L211.0 106.37 L211.5 107.03 L212.0 106.96 L212.5 106.85 L213.0 106.74 L213.5 106.86 L214.0 107.02 L214.5 106.43 L215.0 106.46 L215.5 106.88 L216.0 106.61 L216.5 107.06 L217.0 106.93 L217.5 106.68 L218.0 106.38 L218.5 106.74 L219.0 106.72 L219.5 106.68 L220.0 106.82 L220.5 106.56 L221.0 106.87 L221.5 106.60 L222.0 106.22 L222.5 106.70 L223.0 106.13 L223.5 106.65 L224.0 106.60 L224.5 105.92 L225.0 105.82 L225.5 106.08 L226.0 105.71 L226.5 105.41 L227.0 105.40 L227.5 104.65 L228.0 103.93 L228.5 103.53 L229.0 102.83 L229.5 101.67 L230.0 99.49 L230.5 98.24 L231.0 95.94 L231.5 94.45 L232.0 92.20 L232.5 90.76 L233.0 90.63 L233.5 91.30 L234.0 92.17 L234.5 94.19 L235.0 95.55 L235.5 97.60 L236.0 98.79 L236.5 100.43 L237.0 101.80 L237.5 102.48 L238.0 103.39 L238.5 104.52 L239.0 104.71 L239.5 105.10 L240.0 105.65 L240.5 105.98 L241.0 106.33 L241.5 106.27 L242.0 106.64 L242.5 106.79 L243.0 106.93 L243.5 107.01 L244.0 106.91 L244.5 106.98 L245.0 106.80 L245.5 106.63 L246.0 107.33 L246.5 106.97 L247.0 106.95 L247.5 107.16 L248.0 107.35 L248.5 107.44 L249.0 106.90 L249.5 107.46 L250.0 107.60 L250.5 107.65" stroke="#2cc4c8" stroke-width="2.50" fill="none" stroke-linejoin="round" stroke-linecap="round"/><path d="M249.5 107.46 L250.0 107.60 L250.5 107.65 L251.0 107.63 L251.5 107.34 L252.0 107.60 L252.5 107.36 L253.0 107.56 L253.5 107.67 L254.0 107.16 L254.5 106.94 L255.0 107.42 L255.5 107.54 L256.0 107.48 L256.5 107.09 L257.0 107.02 L257.5 106.71 L258.0 107.22 L258.5 106.69 L259.0 106.49 L259.5 106.38 L260.0 106.95 L260.5 106.43 L261.0 106.63 L261.5 105.94 L262.0 106.15 L262.5 106.25 L263.0 106.17 L263.5 105.61 L264.0 105.77 L264.5 105.98 L265.0 106.03 L265.5 105.37 L266.0 105.78 L266.5 106.06 L267.0 105.91 L267.5 106.11 L268.0 105.81 L268.5 106.07 L269.0 105.79 L269.5 106.53 L270.0 106.46 L270.5 106.26 L271.0 106.98 L271.5 106.51 L272.0 106.47 L272.5 107.13 L273.0 106.71 L273.5 107.26 L274.0 106.93 L274.5 106.92 L275.0 107.56 L275.5 107.53 L276.0 107.63 L276.5 107.73 L277.0 107.79 L277.5 107.41 L278.0 107.65 L278.5 107.83 L279.0 108.09 L279.5 107.94 L280.0 107.85 L280.5 108.14 L281.0 108.19 L281.5 107.74 L282.0 107.71 L282.5 107.59 L283.0 108.30 L283.5 107.79 L284.0 108.10 L284.5 108.08 L285.0 108.20 L285.5 108.44 L286.0 108.23 L286.5 107.86 L287.0 108.08 L287.5 107.89 L288.0 108.06 L288.5 108.36 L289.0 108.30 L289.5 108.30 L290.0 108.50 L290.5 108.62 L291.0 108.03 L291.5 108.40 L292.0 108.37 L292.5 107.88 L293.0 108.66 L293.5 108.20 L294.0 108.43 L294.5 108.08 L295.0 108.25 L295.5 108.01 L296.0 108.70 L296.5 107.97 L297.0 108.01 L297.5 108.54 L298.0 108.43 L298.5 108.23 L299.0 108.74 L299.5 108.55 L300.0 108.36 L300.5 108.58 L301.0 108.77 L301.5 108.72 L302.0 108.32 L302.5 108.66 L303.0 108.23 L303.5 108.37 L304.0 108.86 L304.5 108.66 L305.0 108.40 L305.5 108.52 L306.0 108.45 L306.5 108.67 L307.0 108.53 L307.5 108.48 L308.0 108.46 L308.5 108.84 L309.0 108.79 L309.5 108.34 L310.0 108.48 L310.5 108.89 L311.0 108.76 L311.5 108.66 L312.0 108.69 L312.5 108.36 L313.0 108.66 L313.5 108.81 L314.0 108.57 L314.5 108.55 L315.0 108.57 L315.5 108.72 L316.0 108.42 L316.5 108.91 L317.0 108.31 L317.5 108.88 L318.0 108.69 L318.5 108.48 L319.0 108.49 L319.5 108.51 L320.0 108.43 L320.5 109.10 L321.0 108.53 L321.5 108.39 L322.0 108.85 L322.5 109.11 L323.0 108.57 L323.5 108.53 L324.0 108.82 L324.5 108.62 L325.0 108.73 L325.5 108.83 L326.0 109.17 L326.5 108.68 L327.0 108.68 L327.5 108.96 L328.0 108.86 L328.5 109.11 L329.0 108.76 L329.5 108.93 L330.0 108.83 L330.5 108.90 L331.0 108.81 L331.5 108.55 L332.0 108.51 L332.5 108.73 L333.0 109.21 L333.5 108.81 L334.0 108.80 L334.5 108.76 L335.0 109.02 L335.5 108.68 L336.0 108.70 L336.5 108.65 L337.0 108.84 L337.5 108.76 L338.0 108.86 L338.5 109.12 L339.0 108.64 L339.5 108.86 L340.0 109.15 L340.5 108.95 L341.0 109.02 L341.5 108.99 L342.0 108.49 L342.5 108.84 L343.0 108.60 L343.5 108.60 L344.0 108.41 L344.5 108.93 L345.0 109.04 L345.5 108.98 L346.0 108.63 L346.5 109.01 L347.0 108.91 L347.5 108.75 L348.0 108.89 L348.5 108.86 L349.0 108.23 L349.5 108.71 L350.0 108.72 L350.5 108.47 L351.0 108.81 L351.5 108.74 L352.0 108.21 L352.5 108.42 L353.0 108.10 L353.5 108.37 L354.0 108.13 L354.5 108.02 L355.0 108.22 L355.5 108.53 L356.0 108.05 L356.5 108.65 L357.0 107.98 L357.5 108.44 L358.0 107.93 L358.5 108.34 L359.0 107.97 L359.5 108.14 L360.0 107.71 L360.5 107.43 L361.0 107.74 L361.5 106.82 L362.0 106.63 L362.5 106.28 L363.0 106.16 L363.5 105.75 L364.0 104.65 L364.5 104.08 L365.0 103.32 L365.5 101.52 L366.0 100.91 L366.5 99.14 L367.0 97.84 L367.5 97.20 L368.0 96.46 L368.5 96.30 L369.0 96.76 L369.5 96.87 L370.0 98.20 L370.5 98.84 L371.0 100.55 L371.5 101.23 L372.0 102.02 L372.5 103.19 L373.0 103.92 L373.5 104.36 L374.0 105.52 L374.5 105.77 L375.0 106.53 L375.5 106.82 L376.0 107.16 L376.5 107.50 L377.0 107.16 L377.5 107.53 L378.0 107.67 L378.5 107.81 L379.0 108.00 L379.5 108.09 L380.0 108.06 L380.5 108.08 L381.0 108.08 L381.5 107.79 L382.0 107.93 L382.5 107.84 L383.0 108.24 L383.5 108.26 L384.0 107.97 L384.5 108.10 L385.0 108.48 L385.5 107.90 L386.0 108.18 L386.5 108.14 L387.0 108.06 L387.5 107.87 L388.0 108.36 L388.5 108.00 L389.0 107.91 L389.5 107.54 L390.0 107.50 L390.5 107.87" stroke="#2cc4c8" stroke-width="2.12" fill="none" stroke-linejoin="round" stroke-linecap="round"/><path d="M389.5 107.54 L390.0 107.50 L390.5 107.87 L391.0 107.74 L391.5 108.12 L392.0 108.19 L392.5 107.73 L393.0 108.04 L393.5 108.04 L394.0 108.35 L394.5 108.33 L395.0 108.60 L395.5 107.97 L396.0 108.35 L396.5 108.56 L397.0 108.12 L397.5 108.03 L398.0 108.35 L398.5 108.17 L399.0 108.01 L399.5 108.63 L400.0 108.51 L400.5 108.41 L401.0 108.53 L401.5 108.37 L402.0 108.07 L402.5 108.28 L403.0 108.36 L403.5 108.34 L404.0 108.27 L404.5 108.22 L405.0 108.39 L405.5 108.41 L406.0 108.21 L406.5 108.10 L407.0 108.37 L407.5 108.64 L408.0 107.99 L408.5 108.30 L409.0 108.10 L409.5 108.10 L410.0 108.50 L410.5 108.22 L411.0 108.17 L411.5 108.57 L412.0 108.56 L412.5 108.52 L413.0 108.15 L413.5 108.25 L414.0 108.58 L414.5 108.20 L415.0 108.24 L415.5 108.43 L416.0 108.91 L416.5 108.77 L417.0 108.87 L417.5 108.79 L418.0 108.25 L418.5 108.74 L419.0 108.70 L419.5 108.91 L420.0 108.22 L420.5 108.31 L421.0 108.27 L421.5 108.51 L422.0 108.44 L422.5 108.38 L423.0 108.79 L423.5 108.91 L424.0 108.91 L424.5 108.23 L425.0 108.30 L425.5 108.52 L426.0 108.78 L426.5 108.78 L427.0 108.84 L427.5 108.27 L428.0 108.61 L428.5 108.21 L429.0 108.72 L429.5 108.83 L430.0 108.42 L430.5 108.47 L431.0 108.22 L431.5 108.87 L432.0 108.43 L432.5 108.38 L433.0 108.46 L433.5 108.28 L434.0 108.94 L434.5 108.89 L435.0 108.57 L435.5 108.44 L436.0 108.50 L436.5 108.85 L437.0 108.11 L437.5 108.24 L438.0 108.58 L438.5 108.26 L439.0 108.38 L439.5 108.02 L440.0 108.25 L440.5 108.61 L441.0 108.38 L441.5 108.25 L442.0 108.41 L442.5 107.83 L443.0 108.23 L443.5 108.41 L444.0 107.93 L444.5 107.65 L445.0 108.14 L445.5 108.41 L446.0 107.80 L446.5 107.97 L447.0 108.35 L447.5 108.25 L448.0 108.66 L448.5 108.34 L449.0 108.23 L449.5 108.25 L450.0 108.39 L450.5 108.65 L451.0 108.66 L451.5 108.42 L452.0 108.39 L452.5 108.60 L453.0 108.27 L453.5 108.52 L454.0 108.42 L454.5 108.16 L455.0 108.70 L455.5 108.23 L456.0 108.40 L456.5 108.65 L457.0 108.86 L457.5 108.68 L458.0 108.93 L458.5 108.18 L459.0 108.81 L459.5 108.75 L460.0 108.72 L460.5 108.92 L461.0 108.20 L461.5 108.21 L462.0 108.90 L462.5 108.83 L463.0 108.20 L463.5 108.46 L464.0 108.77 L464.5 108.52 L465.0 108.05 L465.5 108.16 L466.0 108.61 L466.5 108.02 L467.0 108.06 L467.5 108.42 L468.0 107.83 L468.5 108.06 L469.0 107.62 L469.5 107.50 L470.0 107.68 L470.5 107.73 L471.0 107.28 L471.5 107.03 L472.0 107.28 L472.5 107.19 L473.0 106.55 L473.5 107.05 L474.0 106.94 L474.5 107.35 L475.0 107.12 L475.5 107.22 L476.0 106.89 L476.5 107.33 L477.0 107.10 L477.5 107.32 L478.0 107.70 L478.5 108.09 L479.0 108.28 L479.5 108.27 L480.0 108.08 L480.5 108.12 L481.0 108.39 L481.5 108.18 L482.0 107.96 L482.5 108.59 L483.0 108.79 L483.5 108.78 L484.0 108.61 L484.5 108.76 L485.0 108.30 L485.5 108.35 L486.0 108.87 L486.5 108.61 L487.0 108.39 L487.5 108.74 L488.0 108.81 L488.5 108.95 L489.0 108.35 L489.5 108.50 L490.0 108.67 L490.5 108.94 L491.0 109.07 L491.5 108.36 L492.0 108.55 L492.5 108.63 L493.0 109.04 L493.5 108.83 L494.0 108.55 L494.5 108.77 L495.0 108.47 L495.5 109.01 L496.0 108.66 L496.5 108.78 L497.0 108.97 L497.5 108.74 L498.0 108.39 L498.5 108.62 L499.0 108.35 L499.5 108.69 L500.0 109.13 L500.5 108.96 L501.0 109.13 L501.5 108.47 L502.0 108.90 L502.5 108.98 L503.0 108.72 L503.5 109.02 L504.0 108.44 L504.5 109.09 L505.0 109.14 L505.5 108.53 L506.0 108.43 L506.5 109.07 L507.0 108.84 L507.5 109.17 L508.0 108.82 L508.5 108.57 L509.0 108.60 L509.5 108.92 L510.0 108.66 L510.5 109.17 L511.0 109.01 L511.5 108.86 L512.0 109.09 L512.5 109.04 L513.0 108.71 L513.5 108.89 L514.0 108.74 L514.5 108.44 L515.0 108.50 L515.5 108.62 L516.0 108.43 L516.5 109.10 L517.0 108.81 L517.5 108.61 L518.0 108.49 L518.5 108.96 L519.0 108.75 L519.5 109.11 L520.0 108.92 L520.5 108.50 L521.0 109.20 L521.5 109.13 L522.0 108.71 L522.5 109.06 L523.0 108.93 L523.5 108.51 L524.0 108.62 L524.5 108.69 L525.0 108.88 L525.5 108.84 L526.0 108.89 L526.5 108.46 L527.0 108.73 L527.5 108.54 L528.0 108.75 L528.5 109.24 L529.0 108.52 L529.5 108.45 L530.0 108.77 L530.5 108.75 L531.0 108.52 L531.5 109.14 L532.0 109.10 L532.5 109.12 L533.0 108.98 L533.5 108.88 L534.0 108.92 L534.5 108.62 L535.0 108.50 L535.5 109.25 L536.0 109.21 L536.5 108.71 L537.0 108.92 L537.5 108.59 L538.0 109.16 L538.5 109.23 L539.0 109.29 L539.5 108.59 L540.0 109.30 L540.5 108.60 L541.0 109.13 L541.5 109.30 L542.0 108.68 L542.5 109.01 L543.0 109.18 L543.5 109.18 L544.0 109.20 L544.5 109.08 L545.0 108.96 L545.5 108.99 L546.0 109.17 L546.5 109.16 L547.0 109.10 L547.5 109.27 L548.0 108.79 L548.5 108.85 L549.0 108.90 L549.5 108.80 L550.0 109.16 L550.5 108.61 L551.0 109.35 L551.5 108.73 L552.0 109.13 L552.5 109.20 L553.0 108.83" stroke="#2cc4c8" stroke-width="1.80" fill="none" stroke-linejoin="round" stroke-linecap="round"/>
<path d="M54.5 124.31 L55.0 123.73 L55.5 124.11 L56.0 124.22 L56.5 123.74 L57.0 123.68 L57.5 124.34 L58.0 123.90 L58.5 124.28 L59.0 124.92 L59.5 124.99 L60.0 124.25 L60.5 124.29 L61.0 124.53 L61.5 125.28 L62.0 124.48 L62.5 124.78 L63.0 124.73 L63.5 124.84 L64.0 125.35 L64.5 125.06 L65.0 125.39 L65.5 125.83 L66.0 125.89 L66.5 125.63 L67.0 126.12 L67.5 125.96 L68.0 126.32 L68.5 125.76 L69.0 125.96 L69.5 126.27 L70.0 126.75 L70.5 126.46 L71.0 126.38 L71.5 126.20 L72.0 126.31 L72.5 126.31 L73.0 127.23 L73.5 127.19 L74.0 127.26 L74.5 126.93 L75.0 127.20 L75.5 126.81 L76.0 127.08 L76.5 126.78 L77.0 127.15 L77.5 127.03 L78.0 126.93 L78.5 127.90 L79.0 127.06 L79.5 127.91 L80.0 127.85 L80.5 127.24 L81.0 127.74 L81.5 128.36 L82.0 128.41 L82.5 128.01 L83.0 128.29 L83.5 128.28 L84.0 127.89 L84.5 128.23 L85.0 128.34 L85.5 128.17 L86.0 128.70 L86.5 128.34 L87.0 128.73 L87.5 128.04 L88.0 128.51 L88.5 128.12 L89.0 128.84 L89.5 129.14 L90.0 128.83 L90.5 128.91 L91.0 129.03 L91.5 128.66 L92.0 128.89 L92.5 129.15 L93.0 129.28 L93.5 129.05 L94.0 129.21 L94.5 129.10 L95.0 129.40 L95.5 129.58 L96.0 129.25 L96.5 129.70 L97.0 129.93 L97.5 129.64 L98.0 130.17 L98.5 129.49 L99.0 130.21 L99.5 129.44 L100.0 129.69 L100.5 130.24 L101.0 129.42 L101.5 130.11 L102.0 130.44 L102.5 130.57 L103.0 130.32 L103.5 130.00 L104.0 130.03 L104.5 130.40 L105.0 129.82 L105.5 129.82 L106.0 130.81 L106.5 130.57 L107.0 130.10 L107.5 130.43 L108.0 130.32 L108.5 131.00 L109.0 130.40 L109.5 130.92 L110.0 130.98 L110.5 130.55 L111.0 130.52 L111.5 130.85 L112.0 130.75 L112.5 131.01 L113.0 130.75 L113.5 131.30 L114.0 130.92 L114.5 130.65 L115.0 131.38 L115.5 131.55 L116.0 131.35 L116.5 131.23 L117.0 131.63 L117.5 131.73 L118.0 130.74 L118.5 131.30 L119.0 130.82 L119.5 131.19 L120.0 131.12 L120.5 131.40 L121.0 131.66 L121.5 131.89 L122.0 131.26 L122.5 131.02 L123.0 132.13 L123.5 131.92 L124.0 131.70 L124.5 131.24 L125.0 131.20 L125.5 132.20 L126.0 131.78 L126.5 132.17 L127.0 132.11 L127.5 132.10 L128.0 132.18 L128.5 131.60 L129.0 131.62 L129.5 131.85 L130.0 132.24 L130.5 132.29 L131.0 132.27 L131.5 132.10 L132.0 132.01 L132.5 131.72 L133.0 132.26 L133.5 132.26 L134.0 132.13 L134.5 132.38 L135.0 132.68 L135.5 132.66 L136.0 131.76 L136.5 131.97 L137.0 132.35 L137.5 132.45 L138.0 132.02 L138.5 132.75 L139.0 132.25 L139.5 132.60 L140.0 131.83 L140.5 132.10 L141.0 131.83 L141.5 132.69 L142.0 132.41 L142.5 132.90 L143.0 132.53 L143.5 132.23 L144.0 132.28 L144.5 132.31 L145.0 132.13 L145.5 132.05 L146.0 132.65 L146.5 132.29 L147.0 132.46 L147.5 132.75 L148.0 132.28 L148.5 132.47 L149.0 132.35 L149.5 132.36 L150.0 132.75 L150.5 132.13 L151.0 132.47 L151.5 132.16 L152.0 132.78 L152.5 132.38 L153.0 133.12 L153.5 132.59 L154.0 132.79 L154.5 132.65 L155.0 132.98 L155.5 132.85 L156.0 132.78 L156.5 132.12 L157.0 132.24 L157.5 132.91 L158.0 132.54 L158.5 133.15 L159.0 132.78 L159.5 132.98 L160.0 132.89 L160.5 133.13 L161.0 132.79 L161.5 133.09 L162.0 132.51 L162.5 132.33 L163.0 132.15 L163.5 132.29 L164.0 132.98 L164.5 132.70 L165.0 132.01 L165.5 131.96 L166.0 132.41 L166.5 132.48 L167.0 132.24 L167.5 131.83 L168.0 132.05 L168.5 132.67 L169.0 132.45 L169.5 132.48 L170.0 131.80 L170.5 132.15 L171.0 131.53 L171.5 131.51 L172.0 132.07 L172.5 131.05 L173.0 130.86 L173.5 130.41 L174.0 130.64 L174.5 129.78 L175.0 128.81 L175.5 127.97 L176.0 126.12 L176.5 124.88 L177.0 122.72 L177.5 119.98 L178.0 117.69 L178.5 116.12 L179.0 114.85 L179.5 115.10 L180.0 115.69 L180.5 117.17 L181.0 118.79 L181.5 120.35 L182.0 122.77 L182.5 124.79 L183.0 125.96 L183.5 127.38 L184.0 127.97 L184.5 128.76 L185.0 129.85 L185.5 130.59 L186.0 131.20 L186.5 131.28 L187.0 131.65 L187.5 131.38 L188.0 131.53 L188.5 131.77 L189.0 132.12 L189.5 132.15 L190.0 132.14 L190.5 132.45 L191.0 132.53 L191.5 133.14 L192.0 133.33 L192.5 133.45 L193.0 133.23 L193.5 132.48 L194.0 132.78 L194.5 133.66 L195.0 133.37 L195.5 133.59 L196.0 132.90 L196.5 132.98 L197.0 132.86 L197.5 133.36 L198.0 133.22 L198.5 133.36 L199.0 133.02 L199.5 132.92 L200.0 133.38 L200.5 133.84 L201.0 133.64 L201.5 133.60 L202.0 133.21 L202.5 133.53 L203.0 133.50 L203.5 133.73 L204.0 133.57 L204.5 133.90 L205.0 133.50 L205.5 133.88 L206.0 133.32 L206.5 133.45 L207.0 133.99 L207.5 134.05 L208.0 133.62 L208.5 133.55 L209.0 134.18 L209.5 133.89 L210.0 133.51 L210.5 134.23 L211.0 133.90 L211.5 133.70 L212.0 133.87 L212.5 133.77 L213.0 133.94 L213.5 133.81 L214.0 133.78 L214.5 134.07 L215.0 133.73 L215.5 134.15 L216.0 134.09 L216.5 134.24 L217.0 133.61 L217.5 134.17 L218.0 134.05 L218.5 133.62 L219.0 134.19 L219.5 133.85 L220.0 133.58 L220.5 133.59 L221.0 134.20 L221.5 134.01 L222.0 133.53 L222.5 134.01 L223.0 133.29 L223.5 133.76 L224.0 133.64 L224.5 133.75 L225.0 133.67 L225.5 133.40 L226.0 133.31 L226.5 132.76 L227.0 132.80 L227.5 131.94 L228.0 131.54 L228.5 130.69 L229.0 129.30 L229.5 128.24 L230.0 126.51 L230.5 124.27 L231.0 122.87 L231.5 121.47 L232.0 121.07 L232.5 120.99 L233.0 122.53 L233.5 123.69 L234.0 125.51 L234.5 126.63 L235.0 127.84 L235.5 129.39 L236.0 130.53 L236.5 131.44 L237.0 131.89 L237.5 132.66 L238.0 132.46 L238.5 132.72 L239.0 133.17 L239.5 133.55 L240.0 133.78 L240.5 133.34 L241.0 133.86 L241.5 133.75 L242.0 133.96 L242.5 133.68 L243.0 133.79 L243.5 134.22 L244.0 134.03 L244.5 134.58 L245.0 134.24 L245.5 134.15 L246.0 134.05 L246.5 134.35 L247.0 134.37 L247.5 134.19 L248.0 134.78 L248.5 134.43 L249.0 134.66 L249.5 134.61 L250.0 134.75 L250.5 134.17" stroke="#d2a526" stroke-width="2.10" fill="none" stroke-linejoin="round" stroke-linecap="round"/><path d="M249.5 134.61 L250.0 134.75 L250.5 134.17 L251.0 134.87 L251.5 134.58 L252.0 134.24 L252.5 134.59 L253.0 134.16 L253.5 134.45 L254.0 134.19 L254.5 134.14 L255.0 134.46 L255.5 134.75 L256.0 134.67 L256.5 134.79 L257.0 134.64 L257.5 134.47 L258.0 134.41 L258.5 134.64 L259.0 133.91 L259.5 134.15 L260.0 134.08 L260.5 133.56 L261.0 134.13 L261.5 133.86 L262.0 133.46 L262.5 133.69 L263.0 133.31 L263.5 133.40 L264.0 133.17 L264.5 133.37 L265.0 133.07 L265.5 132.75 L266.0 133.34 L266.5 132.99 L267.0 133.36 L267.5 133.76 L268.0 133.71 L268.5 133.31 L269.0 134.04 L269.5 134.26 L270.0 133.96 L270.5 133.90 L271.0 134.16 L271.5 134.30 L272.0 133.98 L272.5 134.69 L273.0 134.59 L273.5 134.45 L274.0 134.83 L274.5 134.36 L275.0 134.96 L275.5 134.97 L276.0 134.69 L276.5 134.42 L277.0 134.71 L277.5 134.46 L278.0 134.83 L278.5 134.52 L279.0 134.83 L279.5 134.76 L280.0 134.70 L280.5 134.92 L281.0 134.89 L281.5 135.17 L282.0 134.83 L282.5 134.94 L283.0 135.07 L283.5 134.62 L284.0 134.93 L284.5 134.64 L285.0 134.90 L285.5 134.91 L286.0 135.23 L286.5 135.27 L287.0 134.74 L287.5 135.18 L288.0 134.78 L288.5 134.67 L289.0 134.93 L289.5 134.67 L290.0 135.14 L290.5 135.04 L291.0 134.25 L291.5 134.86 L292.0 134.56 L292.5 133.67 L293.0 133.75 L293.5 133.31 L294.0 132.75 L294.5 133.16 L295.0 132.77 L295.5 133.31 L296.0 133.76 L296.5 134.29 L297.0 134.22 L297.5 134.33 L298.0 134.62 L298.5 134.79 L299.0 134.76 L299.5 134.57 L300.0 135.21 L300.5 134.74 L301.0 134.75 L301.5 134.79 L302.0 135.41 L302.5 134.71 L303.0 135.17 L303.5 135.14 L304.0 134.87 L304.5 135.33 L305.0 134.85 L305.5 134.81 L306.0 134.75 L306.5 135.26 L307.0 134.79 L307.5 135.24 L308.0 135.28 L308.5 134.85 L309.0 135.54 L309.5 134.88 L310.0 135.04 L310.5 135.43 L311.0 135.01 L311.5 135.42 L312.0 135.36 L312.5 135.41 L313.0 135.11 L313.5 135.04 L314.0 135.20 L314.5 135.33 L315.0 134.85 L315.5 134.91 L316.0 135.06 L316.5 134.89 L317.0 135.45 L317.5 135.63 L318.0 135.27 L318.5 135.13 L319.0 135.21 L319.5 135.57 L320.0 135.45 L320.5 135.33 L321.0 135.39 L321.5 135.62 L322.0 135.39 L322.5 135.06 L323.0 135.61 L323.5 134.94 L324.0 135.02 L324.5 135.06 L325.0 135.22 L325.5 135.38 L326.0 135.58 L326.5 135.13 L327.0 135.63 L327.5 135.73 L328.0 135.63 L328.5 135.59 L329.0 135.40 L329.5 135.31 L330.0 135.07 L330.5 135.26 L331.0 135.13 L331.5 135.24 L332.0 135.01 L332.5 135.72 L333.0 135.29 L333.5 135.02 L334.0 135.05 L334.5 135.31 L335.0 135.01 L335.5 135.49 L336.0 135.20 L336.5 135.46 L337.0 135.22 L337.5 135.26 L338.0 135.66 L338.5 135.32 L339.0 135.68 L339.5 135.49 L340.0 135.55 L340.5 135.53 L341.0 135.39 L341.5 135.20 L342.0 135.49 L342.5 134.97 L343.0 135.14 L343.5 135.58 L344.0 135.61 L344.5 134.95 L345.0 135.56 L345.5 135.29 L346.0 135.10 L346.5 135.66 L347.0 135.38 L347.5 135.12 L348.0 135.65 L348.5 134.97 L349.0 135.47 L349.5 135.49 L350.0 135.49 L350.5 135.27 L351.0 135.13 L351.5 135.06 L352.0 135.48 L352.5 135.27 L353.0 134.88 L353.5 135.40 L354.0 135.42 L354.5 135.46 L355.0 135.19 L355.5 135.34 L356.0 135.26 L356.5 135.39 L357.0 134.95 L357.5 134.89 L358.0 135.36 L358.5 134.86 L359.0 134.63 L359.5 135.11 L360.0 135.14 L360.5 135.14 L361.0 135.16 L361.5 134.33 L362.0 134.90 L362.5 134.20 L363.0 133.85 L363.5 133.67 L364.0 133.11 L364.5 132.53 L365.0 131.99 L365.5 131.52 L366.0 130.20 L366.5 129.75 L367.0 128.13 L367.5 127.43 L368.0 126.86 L368.5 126.75 L369.0 126.99 L369.5 128.02 L370.0 128.47 L370.5 129.38 L371.0 130.14 L371.5 131.60 L372.0 131.76 L372.5 132.56 L373.0 133.36 L373.5 133.26 L374.0 133.76 L374.5 134.40 L375.0 134.44 L375.5 134.20 L376.0 134.64 L376.5 134.99 L377.0 134.83 L377.5 134.68 L378.0 134.69 L378.5 135.29 L379.0 134.92 L379.5 134.80 L380.0 134.89 L380.5 135.17 L381.0 135.40 L381.5 135.26 L382.0 135.24 L382.5 135.05 L383.0 134.96 L383.5 135.32 L384.0 135.07 L384.5 135.02 L385.0 135.37 L385.5 135.50 L386.0 135.41 L386.5 134.80 L387.0 135.27 L387.5 135.04 L388.0 134.59 L388.5 135.12 L389.0 134.85 L389.5 134.75 L390.0 134.41 L390.5 134.82" stroke="#d2a526" stroke-width="1.78" fill="none" stroke-linejoin="round" stroke-linecap="round"/><path d="M389.5 134.75 L390.0 134.41 L390.5 134.82 L391.0 134.80 L391.5 135.13 L392.0 135.26 L392.5 134.71 L393.0 135.39 L393.5 135.03 L394.0 134.78 L394.5 135.41 L395.0 135.49 L395.5 135.50 L396.0 135.00 L396.5 135.49 L397.0 135.65 L397.5 135.67 L398.0 135.20 L398.5 135.58 L399.0 134.98 L399.5 135.58 L400.0 135.31 L400.5 135.34 L401.0 135.37 L401.5 134.91 L402.0 134.82 L402.5 134.62 L403.0 135.07 L403.5 134.48 L404.0 134.46 L404.5 134.98 L405.0 134.89 L405.5 135.35 L406.0 134.73 L406.5 135.11 L407.0 134.90 L407.5 135.44 L408.0 135.61 L408.5 135.66 L409.0 135.01 L409.5 135.53 L410.0 135.41 L410.5 135.07 L411.0 135.35 L411.5 135.59 L412.0 135.60 L412.5 135.39 L413.0 135.10 L413.5 135.35 L414.0 135.30 L414.5 135.33 L415.0 135.82 L415.5 135.55 L416.0 135.57 L416.5 135.07 L417.0 135.34 L417.5 135.69 L418.0 135.19 L418.5 135.09 L419.0 135.31 L419.5 135.19 L420.0 135.54 L420.5 135.34 L421.0 135.74 L421.5 135.71 L422.0 135.39 L422.5 135.82 L423.0 135.78 L423.5 135.84 L424.0 135.86 L424.5 135.81 L425.0 135.84 L425.5 135.46 L426.0 135.89 L426.5 135.31 L427.0 135.63 L427.5 135.11 L428.0 135.90 L428.5 135.65 L429.0 135.14 L429.5 135.87 L430.0 135.61 L430.5 135.42 L431.0 135.50 L431.5 135.87 L432.0 135.83 L432.5 135.19 L433.0 135.27 L433.5 135.21 L434.0 135.08 L434.5 135.15 L435.0 135.48 L435.5 135.50 L436.0 135.57 L436.5 135.57 L437.0 135.42 L437.5 135.54 L438.0 134.76 L438.5 135.46 L439.0 134.99 L439.5 135.21 L440.0 135.07 L440.5 135.22 L441.0 135.17 L441.5 134.80 L442.0 135.15 L442.5 134.82 L443.0 135.53 L443.5 135.48 L444.0 135.18 L444.5 135.24 L445.0 135.28 L445.5 135.14 L446.0 135.51 L446.5 135.66 L447.0 135.40 L447.5 135.48 L448.0 135.85 L448.5 135.72 L449.0 135.29 L449.5 135.36 L450.0 135.91 L450.5 135.71 L451.0 135.32 L451.5 135.59 L452.0 135.51 L452.5 135.71 L453.0 135.91 L453.5 135.87 L454.0 135.47 L454.5 135.43 L455.0 135.32 L455.5 135.46 L456.0 135.77 L456.5 135.78 L457.0 135.67 L457.5 135.85 L458.0 135.34 L458.5 135.39 L459.0 135.39 L459.5 135.83 L460.0 135.79 L460.5 135.56 L461.0 135.96 L461.5 135.49 L462.0 136.01 L462.5 135.99 L463.0 135.41 L463.5 135.81 L464.0 135.77 L464.5 135.47 L465.0 135.47 L465.5 135.35 L466.0 135.57 L466.5 135.86 L467.0 135.50 L467.5 135.84 L468.0 135.49 L468.5 135.71 L469.0 135.39 L469.5 135.56 L470.0 135.52 L470.5 135.31 L471.0 135.03 L471.5 134.76 L472.0 134.69 L472.5 134.91 L473.0 134.76 L473.5 134.35 L474.0 134.88 L474.5 134.45 L475.0 134.59 L475.5 135.29 L476.0 135.03 L476.5 135.13 L477.0 135.42 L477.5 135.38 L478.0 135.32 L478.5 135.89 L479.0 135.70 L479.5 135.61 L480.0 135.60 L480.5 135.74 L481.0 135.95 L481.5 135.62 L482.0 135.51 L482.5 135.42 L483.0 136.07 L483.5 136.15 L484.0 136.01 L484.5 135.85 L485.0 135.90 L485.5 135.90 L486.0 135.44 L486.5 135.65 L487.0 135.70 L487.5 135.56 L488.0 135.84 L488.5 136.16 L489.0 136.04 L489.5 135.70 L490.0 135.79 L490.5 136.15 L491.0 135.89 L491.5 135.67 L492.0 135.94 L492.5 135.58 L493.0 136.10 L493.5 135.76 L494.0 135.76 L494.5 136.11 L495.0 135.59 L495.5 135.85 L496.0 135.57 L496.5 135.77 L497.0 135.76 L497.5 136.26 L498.0 136.09 L498.5 135.65 L499.0 135.60 L499.5 135.63 L500.0 135.85 L500.5 136.02 L501.0 136.23 L501.5 135.89 L502.0 135.63 L502.5 135.57 L503.0 135.98 L503.5 136.07 L504.0 136.18 L504.5 135.64 L505.0 135.59 L505.5 135.61 L506.0 135.93 L506.5 136.17 L507.0 135.81 L507.5 135.73 L508.0 135.65 L508.5 135.93 L509.0 135.76 L509.5 136.07 L510.0 135.92 L510.5 136.07 L511.0 135.68 L511.5 136.01 L512.0 135.97 L512.5 136.10 L513.0 135.78 L513.5 135.69 L514.0 135.73 L514.5 136.08 L515.0 136.28 L515.5 136.01 L516.0 136.01 L516.5 135.99 L517.0 136.33 L517.5 135.85 L518.0 135.61 L518.5 135.88 L519.0 135.83 L519.5 135.76 L520.0 135.88 L520.5 136.17 L521.0 136.40 L521.5 135.61 L522.0 135.73 L522.5 135.80 L523.0 136.22 L523.5 135.86 L524.0 135.87 L524.5 136.07 L525.0 135.77 L525.5 136.04 L526.0 135.65 L526.5 135.86 L527.0 136.32 L527.5 136.05 L528.0 136.15 L528.5 135.87 L529.0 135.77 L529.5 136.31 L530.0 136.04 L530.5 135.92 L531.0 136.13 L531.5 136.29 L532.0 136.25 L532.5 135.86 L533.0 136.40 L533.5 136.00 L534.0 135.95 L534.5 135.77 L535.0 136.45 L535.5 136.13 L536.0 136.13 L536.5 136.43 L537.0 135.76 L537.5 135.93 L538.0 135.76 L538.5 136.10 L539.0 135.73 L539.5 136.46 L540.0 136.13 L540.5 136.38 L541.0 136.41 L541.5 136.47 L542.0 135.98 L542.5 136.25 L543.0 136.26 L543.5 136.49 L544.0 135.98 L544.5 136.27 L545.0 136.39 L545.5 136.19 L546.0 135.82 L546.5 136.40 L547.0 135.80 L547.5 136.11 L548.0 136.01 L548.5 136.13 L549.0 136.49 L549.5 136.55 L550.0 136.50 L550.5 136.46 L551.0 135.82 L551.5 136.27 L552.0 136.24 L552.5 136.33 L553.0 136.15" stroke="#d2a526" stroke-width="1.51" fill="none" stroke-linejoin="round" stroke-linecap="round"/>
<path d="M54.5 174.82 L55.0 174.72 L55.5 174.65 L56.0 174.16 L56.5 174.35 L57.0 174.85 L57.5 175.02 L58.0 174.22 L58.5 174.46 L59.0 175.33 L59.5 174.55 L60.0 175.21 L60.5 174.92 L61.0 175.34 L61.5 175.65 L62.0 175.41 L62.5 175.26 L63.0 175.26 L63.5 175.65 L64.0 175.73 L64.5 175.55 L65.0 175.68 L65.5 175.82 L66.0 175.58 L66.5 175.56 L67.0 176.05 L67.5 175.60 L68.0 176.21 L68.5 176.49 L69.0 176.59 L69.5 176.01 L70.0 176.25 L70.5 176.87 L71.0 176.30 L71.5 177.07 L72.0 176.26 L72.5 177.02 L73.0 176.20 L73.5 176.94 L74.0 177.15 L74.5 176.93 L75.0 177.08 L75.5 177.44 L76.0 177.59 L76.5 176.74 L77.0 177.18 L77.5 176.70 L78.0 177.13 L78.5 176.92 L79.0 176.99 L79.5 177.56 L80.0 177.01 L80.5 177.14 L81.0 177.03 L81.5 177.97 L82.0 177.39 L82.5 177.25 L83.0 177.91 L83.5 178.06 L84.0 178.01 L84.5 177.97 L85.0 178.00 L85.5 178.25 L86.0 177.85 L86.5 178.48 L87.0 178.37 L87.5 178.59 L88.0 178.67 L88.5 178.66 L89.0 178.35 L89.5 178.40 L90.0 178.68 L90.5 178.55 L91.0 178.00 L91.5 179.02 L92.0 178.28 L92.5 178.64 L93.0 178.65 L93.5 178.30 L94.0 178.88 L94.5 178.94 L95.0 179.23 L95.5 179.05 L96.0 178.76 L96.5 179.09 L97.0 179.57 L97.5 179.25 L98.0 179.52 L98.5 178.65 L99.0 179.44 L99.5 178.95 L100.0 178.94 L100.5 179.17 L101.0 179.04 L101.5 178.98 L102.0 179.15 L102.5 179.21 L103.0 179.27 L103.5 179.91 L104.0 179.17 L104.5 179.33 L105.0 179.21 L105.5 179.74 L106.0 179.47 L106.5 179.84 L107.0 179.55 L107.5 179.54 L108.0 179.90 L108.5 179.48 L109.0 180.40 L109.5 180.08 L110.0 179.93 L110.5 180.14 L111.0 180.61 L111.5 180.14 L112.0 180.06 L112.5 179.90 L113.0 180.11 L113.5 180.57 L114.0 180.43 L114.5 180.08 L115.0 180.80 L115.5 179.99 L116.0 180.26 L116.5 180.75 L117.0 180.93 L117.5 180.46 L118.0 179.99 L118.5 180.63 L119.0 180.51 L119.5 180.10 L120.0 180.47 L120.5 181.09 L121.0 180.18 L121.5 180.36 L122.0 180.37 L122.5 181.09 L123.0 180.58 L123.5 181.02 L124.0 181.03 L124.5 180.32 L125.0 180.81 L125.5 180.49 L126.0 181.26 L126.5 180.94 L127.0 180.83 L127.5 181.34 L128.0 181.37 L128.5 180.56 L129.0 180.61 L129.5 180.88 L130.0 180.89 L130.5 181.05 L131.0 181.05 L131.5 181.67 L132.0 181.36 L132.5 181.69 L133.0 181.33 L133.5 180.93 L134.0 181.31 L134.5 180.88 L135.0 181.36 L135.5 180.89 L136.0 181.78 L136.5 181.10 L137.0 181.77 L137.5 181.04 L138.0 181.04 L138.5 181.10 L139.0 181.75 L139.5 181.76 L140.0 181.69 L140.5 181.51 L141.0 181.05 L141.5 181.16 L142.0 180.95 L142.5 181.95 L143.0 181.08 L143.5 181.73 L144.0 180.96 L144.5 181.28 L145.0 181.64 L145.5 181.19 L146.0 181.07 L146.5 181.99 L147.0 181.32 L147.5 181.02 L148.0 181.80 L148.5 182.12 L149.0 181.64 L149.5 181.08 L150.0 181.51 L150.5 181.72 L151.0 181.32 L151.5 181.52 L152.0 181.88 L152.5 181.79 L153.0 181.98 L153.5 182.11 L154.0 181.64 L154.5 182.14 L155.0 181.19 L155.5 181.63 L156.0 181.80 L156.5 182.08 L157.0 181.57 L157.5 181.53 L158.0 182.02 L158.5 181.55 L159.0 181.09 L159.5 181.51 L160.0 181.30 L160.5 181.71 L161.0 181.87 L161.5 181.00 L162.0 181.28 L162.5 181.90 L163.0 181.78 L163.5 181.72 L164.0 181.25 L164.5 181.84 L165.0 181.68 L165.5 181.61 L166.0 181.25 L166.5 181.31 L167.0 180.68 L167.5 180.50 L168.0 180.40 L168.5 180.35 L169.0 180.74 L169.5 181.10 L170.0 180.55 L170.5 180.62 L171.0 180.40 L171.5 180.38 L172.0 179.37 L172.5 179.27 L173.0 179.31 L173.5 178.09 L174.0 177.73 L174.5 176.37 L175.0 174.64 L175.5 172.72 L176.0 170.25 L176.5 166.45 L177.0 163.10 L177.5 157.47 L178.0 151.83 L178.5 147.11 L179.0 142.19 L179.5 141.49 L180.0 142.27 L180.5 144.94 L181.0 149.54 L181.5 154.90 L182.0 158.48 L182.5 162.96 L183.0 166.48 L183.5 169.96 L184.0 171.97 L184.5 174.62 L185.0 175.58 L185.5 177.36 L186.0 177.32 L186.5 178.11 L187.0 178.41 L187.5 178.85 L188.0 179.34 L188.5 180.07 L189.0 180.27 L189.5 180.67 L190.0 180.31 L190.5 180.87 L191.0 181.43 L191.5 180.83 L192.0 180.84 L192.5 180.89 L193.0 181.84 L193.5 181.56 L194.0 181.48 L194.5 181.55 L195.0 181.16 L195.5 181.37 L196.0 181.95 L196.5 181.51 L197.0 181.84 L197.5 182.31 L198.0 181.56 L198.5 181.92 L199.0 182.27 L199.5 182.28 L200.0 182.31 L200.5 182.40 L201.0 182.17 L201.5 181.91 L202.0 182.16 L202.5 182.52 L203.0 181.96 L203.5 182.05 L204.0 182.00 L204.5 182.56 L205.0 181.95 L205.5 182.01 L206.0 182.40 L206.5 182.51 L207.0 182.27 L207.5 182.55 L208.0 182.53 L208.5 182.29 L209.0 182.04 L209.5 182.55 L210.0 182.50 L210.5 182.77 L211.0 182.57 L211.5 182.06 L212.0 182.17 L212.5 182.26 L213.0 182.59 L213.5 182.26 L214.0 182.19 L214.5 182.15 L215.0 182.21 L215.5 182.39 L216.0 182.55 L216.5 182.64 L217.0 182.03 L217.5 182.38 L218.0 182.69 L218.5 182.21 L219.0 181.96 L219.5 182.35 L220.0 182.45 L220.5 181.78 L221.0 181.76 L221.5 181.88 L222.0 181.86 L222.5 181.58 L223.0 181.46 L223.5 181.61 L224.0 181.90 L224.5 181.42 L225.0 180.98 L225.5 181.26 L226.0 180.37 L226.5 179.78 L227.0 179.10 L227.5 178.06 L228.0 177.40 L228.5 175.17 L229.0 172.92 L229.5 169.23 L230.0 164.84 L230.5 160.74 L231.0 156.81 L231.5 154.35 L232.0 154.43 L232.5 156.96 L233.0 160.34 L233.5 164.08 L234.0 167.11 L234.5 170.61 L235.0 172.99 L235.5 175.61 L236.0 177.32 L236.5 177.85 L237.0 178.92 L237.5 180.15 L238.0 180.75 L238.5 181.03 L239.0 180.70 L239.5 181.37 L240.0 181.71 L240.5 181.72 L241.0 181.84 L241.5 182.14 L242.0 181.68 L242.5 182.18 L243.0 182.58 L243.5 182.32 L244.0 182.23 L244.5 182.11 L245.0 182.76 L245.5 182.63 L246.0 182.90 L246.5 182.95 L247.0 182.76 L247.5 182.92 L248.0 182.92 L248.5 182.89 L249.0 182.64 L249.5 182.87 L250.0 182.97 L250.5 182.57" stroke="#a468dc" stroke-width="2.10" fill="none" stroke-linejoin="round" stroke-linecap="round"/><path d="M249.5 182.87 L250.0 182.97 L250.5 182.57 L251.0 183.00 L251.5 182.86 L252.0 182.69 L252.5 182.74 L253.0 183.13 L253.5 182.44 L254.0 182.42 L254.5 182.77 L255.0 182.44 L255.5 183.01 L256.0 183.03 L256.5 182.53 L257.0 182.46 L257.5 182.62 L258.0 182.69 L258.5 182.35 L259.0 182.37 L259.5 181.70 L260.0 181.54 L260.5 181.40 L261.0 181.10 L261.5 180.44 L262.0 180.04 L262.5 180.09 L263.0 179.69 L263.5 179.44 L264.0 179.20 L264.5 179.37 L265.0 179.29 L265.5 179.60 L266.0 179.66 L266.5 179.93 L267.0 180.39 L267.5 180.47 L268.0 180.84 L268.5 180.79 L269.0 180.83 L269.5 181.08 L270.0 181.73 L270.5 181.34 L271.0 181.69 L271.5 182.14 L272.0 182.09 L272.5 182.46 L273.0 182.41 L273.5 182.89 L274.0 183.19 L274.5 182.89 L275.0 183.26 L275.5 182.70 L276.0 182.83 L276.5 182.90 L277.0 183.45 L277.5 183.07 L278.0 183.34 L278.5 183.60 L279.0 183.38 L279.5 183.27 L280.0 183.40 L280.5 183.51 L281.0 183.47 L281.5 183.45 L282.0 183.14 L282.5 183.82 L283.0 183.63 L283.5 183.77 L284.0 183.71 L284.5 183.26 L285.0 183.45 L285.5 183.58 L286.0 183.25 L286.5 183.77 L287.0 183.51 L287.5 183.59 L288.0 183.86 L288.5 183.38 L289.0 183.40 L289.5 183.59 L290.0 183.19 L290.5 183.29 L291.0 183.21 L291.5 183.76 L292.0 183.40 L292.5 183.39 L293.0 183.08 L293.5 182.59 L294.0 182.39 L294.5 182.66 L295.0 182.35 L295.5 182.44 L296.0 182.48 L296.5 183.09 L297.0 182.76 L297.5 183.47 L298.0 183.47 L298.5 183.62 L299.0 183.91 L299.5 183.57 L300.0 183.66 L300.5 183.60 L301.0 183.83 L301.5 184.00 L302.0 183.95 L302.5 183.54 L303.0 184.02 L303.5 183.41 L304.0 183.91 L304.5 183.55 L305.0 183.67 L305.5 183.88 L306.0 183.55 L306.5 184.02 L307.0 183.99 L307.5 184.09 L308.0 183.86 L308.5 184.15 L309.0 184.08 L309.5 183.93 L310.0 184.03 L310.5 183.72 L311.0 184.00 L311.5 183.75 L312.0 183.65 L312.5 184.03 L313.0 184.29 L313.5 183.93 L314.0 183.69 L314.5 184.08 L315.0 183.73 L315.5 184.10 L316.0 184.18 L316.5 183.76 L317.0 183.84 L317.5 183.96 L318.0 184.14 L318.5 184.17 L319.0 184.39 L319.5 184.11 L320.0 184.38 L320.5 183.81 L321.0 183.85 L321.5 184.43 L322.0 184.29 L322.5 183.98 L323.0 183.72 L323.5 183.88 L324.0 184.01 L324.5 183.71 L325.0 184.18 L325.5 184.43 L326.0 183.98 L326.5 183.99 L327.0 183.94 L327.5 184.04 L328.0 184.21 L328.5 183.97 L329.0 183.77 L329.5 183.79 L330.0 184.48 L330.5 184.27 L331.0 183.84 L331.5 184.07 L332.0 184.33 L332.5 184.03 L333.0 184.25 L333.5 184.52 L334.0 184.00 L334.5 184.07 L335.0 183.82 L335.5 184.26 L336.0 184.08 L336.5 184.12 L337.0 183.93 L337.5 184.18 L338.0 184.16 L338.5 184.40 L339.0 184.28 L339.5 183.72 L340.0 183.75 L340.5 183.95 L341.0 183.79 L341.5 183.78 L342.0 183.77 L342.5 184.29 L343.0 183.69 L343.5 184.23 L344.0 183.97 L344.5 184.17 L345.0 183.94 L345.5 183.75 L346.0 183.87 L346.5 184.27 L347.0 184.15 L347.5 184.04 L348.0 183.83 L348.5 184.09 L349.0 183.60 L349.5 183.83 L350.0 183.73 L350.5 183.76 L351.0 184.06 L351.5 183.51 L352.0 183.59 L352.5 183.79 L353.0 183.55 L353.5 184.00 L354.0 183.60 L354.5 183.21 L355.0 183.39 L355.5 183.35 L356.0 183.40 L356.5 183.02 L357.0 183.70 L357.5 183.22 L358.0 183.36 L358.5 183.07 L359.0 182.96 L359.5 182.70 L360.0 183.02 L360.5 182.22 L361.0 182.26 L361.5 181.73 L362.0 181.32 L362.5 180.57 L363.0 180.48 L363.5 178.95 L364.0 177.97 L364.5 176.40 L365.0 174.61 L365.5 172.05 L366.0 169.76 L366.5 167.82 L367.0 165.87 L367.5 164.81 L368.0 165.16 L368.5 166.63 L369.0 167.75 L369.5 169.89 L370.0 171.99 L370.5 173.90 L371.0 175.47 L371.5 177.08 L372.0 178.51 L372.5 179.16 L373.0 179.89 L373.5 180.61 L374.0 181.41 L374.5 181.38 L375.0 182.23 L375.5 182.01 L376.0 182.13 L376.5 182.75 L377.0 182.56 L377.5 183.02 L378.0 182.67 L378.5 182.80 L379.0 183.03 L379.5 183.28 L380.0 183.20 L380.5 183.57 L381.0 183.59 L381.5 182.98 L382.0 183.57 L382.5 183.72 L383.0 183.17 L383.5 183.27 L384.0 183.39 L384.5 183.72 L385.0 183.12 L385.5 183.11 L386.0 183.51 L386.5 182.97 L387.0 183.37 L387.5 182.85 L388.0 183.10 L388.5 182.34 L389.0 182.13 L389.5 182.21 L390.0 182.02 L390.5 181.79" stroke="#a468dc" stroke-width="1.78" fill="none" stroke-linejoin="round" stroke-linecap="round"/><path d="M389.5 182.21 L390.0 182.02 L390.5 181.79 L391.0 181.40 L391.5 181.69 L392.0 182.00 L392.5 182.20 L393.0 182.60 L393.5 182.66 L394.0 182.79 L394.5 183.01 L395.0 183.12 L395.5 183.39 L396.0 183.19 L396.5 183.45 L397.0 183.42 L397.5 183.09 L398.0 183.41 L398.5 183.34 L399.0 183.40 L399.5 183.15 L400.0 183.80 L400.5 183.37 L401.0 183.52 L401.5 183.21 L402.0 183.40 L402.5 183.57 L403.0 183.41 L403.5 183.44 L404.0 183.30 L404.5 183.50 L405.0 183.18 L405.5 182.85 L406.0 182.84 L406.5 183.58 L407.0 183.36 L407.5 183.46 L408.0 183.59 L408.5 183.67 L409.0 183.40 L409.5 183.35 L410.0 183.62 L410.5 183.49 L411.0 183.66 L411.5 183.57 L412.0 184.05 L412.5 184.03 L413.0 183.83 L413.5 184.00 L414.0 183.77 L414.5 183.59 L415.0 183.56 L415.5 183.57 L416.0 183.75 L416.5 183.35 L417.0 183.37 L417.5 184.09 L418.0 183.44 L418.5 183.47 L419.0 183.85 L419.5 183.69 L420.0 183.90 L420.5 183.32 L421.0 183.32 L421.5 183.59 L422.0 183.93 L422.5 183.48 L423.0 183.66 L423.5 183.93 L424.0 183.88 L424.5 183.68 L425.0 183.38 L425.5 183.41 L426.0 183.43 L426.5 183.63 L427.0 184.08 L427.5 183.47 L428.0 183.86 L428.5 183.91 L429.0 183.64 L429.5 183.94 L430.0 183.42 L430.5 184.09 L431.0 183.37 L431.5 183.60 L432.0 183.35 L432.5 183.50 L433.0 183.35 L433.5 183.74 L434.0 183.53 L434.5 184.09 L435.0 183.71 L435.5 183.37 L436.0 183.99 L436.5 183.29 L437.0 183.69 L437.5 183.49 L438.0 183.40 L438.5 183.58 L439.0 183.20 L439.5 183.46 L440.0 183.44 L440.5 183.42 L441.0 183.40 L441.5 182.71 L442.0 183.16 L442.5 182.68 L443.0 182.55 L443.5 182.06 L444.0 182.16 L444.5 182.02 L445.0 182.36 L445.5 182.26 L446.0 182.53 L446.5 182.17 L447.0 182.26 L447.5 182.60 L448.0 182.43 L448.5 182.61 L449.0 182.97 L449.5 183.56 L450.0 183.52 L450.5 183.13 L451.0 183.03 L451.5 183.19 L452.0 183.20 L452.5 183.91 L453.0 183.42 L453.5 183.40 L454.0 183.91 L454.5 183.61 L455.0 183.65 L455.5 183.19 L456.0 183.15 L456.5 183.24 L457.0 183.21 L457.5 183.20 L458.0 183.18 L458.5 182.98 L459.0 182.59 L459.5 182.10 L460.0 182.05 L460.5 182.55 L461.0 181.94 L461.5 182.39 L462.0 182.14 L462.5 182.49 L463.0 182.27 L463.5 182.98 L464.0 182.83 L464.5 183.33 L465.0 183.51 L465.5 183.13 L466.0 183.58 L466.5 183.86 L467.0 183.46 L467.5 183.19 L468.0 183.57 L468.5 183.36 L469.0 183.29 L469.5 183.85 L470.0 183.04 L470.5 183.03 L471.0 183.02 L471.5 182.66 L472.0 182.34 L472.5 182.09 L473.0 181.88 L473.5 181.62 L474.0 181.43 L474.5 180.65 L475.0 180.18 L475.5 180.85 L476.0 180.84 L476.5 181.38 L477.0 181.62 L477.5 181.37 L478.0 182.22 L478.5 182.33 L479.0 182.81 L479.5 182.63 L480.0 182.80 L480.5 183.35 L481.0 183.46 L481.5 183.92 L482.0 183.47 L482.5 183.81 L483.0 183.84 L483.5 183.80 L484.0 183.98 L484.5 184.05 L485.0 183.95 L485.5 183.84 L486.0 183.67 L486.5 183.64 L487.0 184.06 L487.5 184.00 L488.0 183.97 L488.5 184.27 L489.0 183.94 L489.5 183.94 L490.0 184.06 L490.5 184.44 L491.0 184.04 L491.5 183.84 L492.0 184.27 L492.5 184.46 L493.0 184.31 L493.5 184.23 L494.0 184.41 L494.5 184.23 L495.0 184.37 L495.5 183.85 L496.0 184.26 L496.5 183.98 L497.0 184.08 L497.5 184.12 L498.0 184.20 L498.5 183.87 L499.0 184.09 L499.5 183.88 L500.0 184.29 L500.5 183.95 L501.0 183.90 L501.5 184.52 L502.0 184.17 L502.5 183.96 L503.0 184.09 L503.5 184.54 L504.0 184.43 L504.5 184.39 L505.0 183.94 L505.5 184.01 L506.0 183.97 L506.5 184.12 L507.0 184.24 L507.5 184.15 L508.0 184.32 L508.5 183.89 L509.0 183.86 L509.5 184.29 L510.0 184.07 L510.5 183.97 L511.0 183.66 L511.5 183.76 L512.0 183.61 L512.5 184.06 L513.0 183.48 L513.5 183.82 L514.0 183.79 L514.5 183.89 L515.0 183.47 L515.5 184.02 L516.0 184.26 L516.5 184.18 L517.0 183.67 L517.5 184.19 L518.0 183.96 L518.5 184.23 L519.0 184.15 L519.5 184.54 L520.0 183.94 L520.5 184.60 L521.0 184.27 L521.5 184.67 L522.0 184.45 L522.5 184.71 L523.0 184.05 L523.5 184.16 L524.0 184.15 L524.5 184.40 L525.0 184.52 L525.5 184.09 L526.0 184.52 L526.5 184.53 L527.0 184.61 L527.5 184.15 L528.0 184.24 L528.5 184.48 L529.0 184.11 L529.5 184.19 L530.0 184.16 L530.5 184.74 L531.0 184.83 L531.5 184.63 L532.0 184.74 L532.5 184.73 L533.0 184.34 L533.5 184.74 L534.0 184.51 L534.5 184.76 L535.0 184.61 L535.5 184.18 L536.0 184.73 L536.5 184.81 L537.0 184.84 L537.5 184.22 L538.0 184.70 L538.5 184.55 L539.0 184.23 L539.5 184.79 L540.0 184.69 L540.5 184.46 L541.0 184.66 L541.5 184.59 L542.0 184.28 L542.5 184.60 L543.0 184.85 L543.5 184.65 L544.0 184.60 L544.5 184.25 L545.0 184.42 L545.5 184.41 L546.0 184.65 L546.5 184.40 L547.0 184.70 L547.5 184.31 L548.0 184.53 L548.5 184.57 L549.0 184.46 L549.5 185.01 L550.0 184.88 L550.5 184.26 L551.0 184.27 L551.5 184.67 L552.0 184.77 L552.5 184.85 L553.0 184.61" stroke="#a468dc" stroke-width="1.51" fill="none" stroke-linejoin="round" stroke-linecap="round"/>
<path d="M54.5 214.06 L55.0 213.48 L55.5 214.05 L56.0 214.30 L56.5 213.67 L57.0 214.25 L57.5 213.85 L58.0 213.73 L58.5 214.01 L59.0 214.53 L59.5 213.93 L60.0 214.57 L60.5 214.30 L61.0 214.17 L61.5 214.53 L62.0 214.55 L62.5 214.71 L63.0 215.24 L63.5 215.35 L64.0 214.66 L64.5 215.56 L65.0 215.21 L65.5 215.66 L66.0 215.57 L66.5 215.32 L67.0 215.08 L67.5 215.89 L68.0 216.03 L68.5 215.69 L69.0 215.19 L69.5 216.03 L70.0 216.03 L70.5 216.22 L71.0 216.39 L71.5 216.45 L72.0 216.25 L72.5 215.93 L73.0 216.14 L73.5 216.17 L74.0 216.51 L74.5 216.42 L75.0 216.70 L75.5 216.42 L76.0 216.55 L76.5 217.02 L77.0 216.89 L77.5 217.10 L78.0 216.90 L78.5 216.32 L79.0 216.70 L79.5 216.61 L80.0 216.64 L80.5 216.54 L81.0 216.57 L81.5 217.03 L82.0 217.42 L82.5 217.56 L83.0 217.72 L83.5 217.35 L84.0 216.77 L84.5 217.02 L85.0 216.92 L85.5 217.86 L86.0 217.31 L86.5 217.80 L87.0 217.55 L87.5 217.74 L88.0 218.08 L88.5 217.91 L89.0 217.32 L89.5 217.98 L90.0 217.72 L90.5 218.45 L91.0 217.72 L91.5 217.74 L92.0 218.53 L92.5 218.02 L93.0 217.71 L93.5 218.54 L94.0 218.72 L94.5 218.30 L95.0 217.99 L95.5 218.80 L96.0 218.27 L96.5 218.21 L97.0 218.03 L97.5 218.99 L98.0 218.33 L98.5 218.24 L99.0 218.55 L99.5 218.97 L100.0 219.33 L100.5 218.51 L101.0 219.00 L101.5 218.66 L102.0 219.35 L102.5 218.98 L103.0 219.23 L103.5 219.44 L104.0 219.15 L104.5 219.11 L105.0 218.64 L105.5 218.85 L106.0 219.47 L106.5 219.58 L107.0 219.42 L107.5 218.87 L108.0 219.67 L108.5 219.82 L109.0 219.86 L109.5 219.78 L110.0 219.72 L110.5 219.41 L111.0 219.46 L111.5 219.30 L112.0 219.83 L112.5 219.53 L113.0 220.08 L113.5 219.47 L114.0 219.54 L114.5 219.38 L115.0 219.62 L115.5 220.20 L116.0 220.28 L116.5 220.41 L117.0 219.47 L117.5 220.21 L118.0 220.11 L118.5 219.90 L119.0 220.58 L119.5 220.32 L120.0 219.94 L120.5 220.54 L121.0 220.14 L121.5 220.19 L122.0 220.23 L122.5 220.25 L123.0 219.78 L123.5 220.68 L124.0 220.13 L124.5 220.32 L125.0 220.04 L125.5 220.49 L126.0 219.97 L126.5 219.95 L127.0 220.17 L127.5 220.93 L128.0 220.73 L128.5 220.80 L129.0 220.12 L129.5 220.54 L130.0 220.87 L130.5 220.90 L131.0 220.60 L131.5 220.21 L132.0 220.56 L132.5 221.20 L133.0 221.16 L133.5 220.87 L134.0 220.60 L134.5 220.89 L135.0 220.88 L135.5 220.77 L136.0 221.22 L136.5 220.92 L137.0 220.42 L137.5 221.13 L138.0 221.11 L138.5 220.47 L139.0 220.95 L139.5 221.46 L140.0 221.11 L140.5 221.15 L141.0 220.95 L141.5 220.90 L142.0 221.53 L142.5 220.77 L143.0 220.98 L143.5 220.59 L144.0 221.06 L144.5 221.24 L145.0 221.28 L145.5 221.60 L146.0 220.83 L146.5 220.77 L147.0 220.95 L147.5 220.93 L148.0 221.58 L148.5 220.81 L149.0 221.10 L149.5 221.69 L150.0 221.05 L150.5 221.11 L151.0 221.07 L151.5 220.97 L152.0 220.97 L152.5 221.55 L153.0 220.64 L153.5 220.70 L154.0 221.52 L154.5 221.43 L155.0 221.10 L155.5 221.17 L156.0 221.16 L156.5 220.92 L157.0 221.11 L157.5 221.02 L158.0 221.28 L158.5 221.00 L159.0 221.27 L159.5 220.66 L160.0 221.69 L160.5 220.61 L161.0 221.11 L161.5 220.99 L162.0 220.71 L162.5 221.62 L163.0 221.02 L163.5 220.72 L164.0 220.85 L164.5 220.67 L165.0 221.04 L165.5 221.50 L166.0 221.43 L166.5 220.58 L167.0 221.06 L167.5 220.85 L168.0 221.01 L168.5 220.27 L169.0 220.07 L169.5 220.07 L170.0 220.83 L170.5 219.79 L171.0 219.65 L171.5 219.96 L172.0 219.33 L172.5 219.22 L173.0 219.78 L173.5 218.54 L174.0 218.65 L174.5 218.01 L175.0 216.56 L175.5 215.15 L176.0 213.00 L176.5 210.65 L177.0 207.76 L177.5 204.08 L178.0 199.89 L178.5 195.57 L179.0 192.80 L179.5 190.74 L180.0 191.17 L180.5 193.37 L181.0 196.90 L181.5 200.22 L182.0 203.94 L182.5 207.33 L183.0 209.69 L183.5 212.50 L184.0 213.78 L184.5 215.76 L185.0 216.95 L185.5 217.81 L186.0 218.28 L186.5 219.53 L187.0 219.46 L187.5 219.86 L188.0 219.84 L188.5 220.90 L189.0 221.11 L189.5 220.53 L190.0 220.91 L190.5 220.94 L191.0 220.96 L191.5 221.77 L192.0 221.64 L192.5 222.06 L193.0 221.90 L193.5 221.59 L194.0 222.16 L194.5 221.48 L195.0 222.08 L195.5 222.06 L196.0 221.63 L196.5 221.92 L197.0 222.22 L197.5 221.83 L198.0 221.83 L198.5 222.47 L199.0 222.90 L199.5 222.52 L200.0 222.86 L200.5 222.49 L201.0 222.22 L201.5 222.30 L202.0 222.57 L202.5 222.94 L203.0 222.92 L203.5 223.08 L204.0 222.80 L204.5 222.96 L205.0 222.83 L205.5 222.55 L206.0 222.88 L206.5 222.69 L207.0 223.15 L207.5 223.18 L208.0 222.72 L208.5 222.68 L209.0 222.82 L209.5 222.63 L210.0 222.79 L210.5 223.42 L211.0 223.40 L211.5 223.02 L212.0 223.39 L212.5 222.85 L213.0 223.50 L213.5 223.17 L214.0 223.21 L214.5 222.94 L215.0 222.73 L215.5 223.16 L216.0 223.24 L216.5 223.30 L217.0 223.35 L217.5 223.47 L218.0 222.75 L218.5 223.26 L219.0 222.78 L219.5 223.38 L220.0 223.11 L220.5 222.67 L221.0 222.96 L221.5 223.29 L222.0 223.29 L222.5 223.27 L223.0 222.90 L223.5 222.98 L224.0 222.90 L224.5 222.66 L225.0 222.77 L225.5 222.16 L226.0 222.05 L226.5 222.15 L227.0 221.98 L227.5 221.79 L228.0 220.54 L228.5 220.53 L229.0 218.88 L229.5 217.39 L230.0 215.56 L230.5 213.06 L231.0 209.11 L231.5 205.56 L232.0 202.47 L232.5 200.10 L233.0 199.48 L233.5 200.84 L234.0 203.90 L234.5 206.55 L235.0 209.82 L235.5 212.36 L236.0 214.91 L236.5 217.03 L237.0 218.59 L237.5 219.94 L238.0 220.67 L238.5 221.00 L239.0 221.60 L239.5 221.84 L240.0 222.03 L240.5 222.27 L241.0 223.10 L241.5 223.12 L242.0 223.30 L242.5 223.31 L243.0 223.05 L243.5 223.52 L244.0 223.44 L244.5 223.71 L245.0 223.61 L245.5 223.72 L246.0 223.36 L246.5 224.00 L247.0 223.92 L247.5 223.85 L248.0 223.64 L248.5 224.00 L249.0 223.83 L249.5 223.70 L250.0 224.17 L250.5 224.12" stroke="#34a468" stroke-width="2.10" fill="none" stroke-linejoin="round" stroke-linecap="round"/><path d="M249.5 223.70 L250.0 224.17 L250.5 224.12 L251.0 224.22 L251.5 224.37 L252.0 223.90 L252.5 224.06 L253.0 223.65 L253.5 224.11 L254.0 224.24 L254.5 223.91 L255.0 223.57 L255.5 224.11 L256.0 223.83 L256.5 223.64 L257.0 224.05 L257.5 223.73 L258.0 223.74 L258.5 223.73 L259.0 223.51 L259.5 223.56 L260.0 223.08 L260.5 222.84 L261.0 222.80 L261.5 222.82 L262.0 222.16 L262.5 221.76 L263.0 221.55 L263.5 221.39 L264.0 221.08 L264.5 221.28 L265.0 221.37 L265.5 221.75 L266.0 221.09 L266.5 221.29 L267.0 221.26 L267.5 221.46 L268.0 221.88 L268.5 221.39 L269.0 221.79 L269.5 221.90 L270.0 222.45 L270.5 222.46 L271.0 223.06 L271.5 223.18 L272.0 223.44 L272.5 223.51 L273.0 223.13 L273.5 223.26 L274.0 224.06 L274.5 223.52 L275.0 223.50 L275.5 223.99 L276.0 224.02 L276.5 223.72 L277.0 223.96 L277.5 223.97 L278.0 224.03 L278.5 223.97 L279.0 223.81 L279.5 224.24 L280.0 223.99 L280.5 224.42 L281.0 224.53 L281.5 223.78 L282.0 224.38 L282.5 224.36 L283.0 224.01 L283.5 224.24 L284.0 224.02 L284.5 224.48 L285.0 224.06 L285.5 224.31 L286.0 224.00 L286.5 224.49 L287.0 223.97 L287.5 224.55 L288.0 223.93 L288.5 224.12 L289.0 224.34 L289.5 224.09 L290.0 224.39 L290.5 223.88 L291.0 224.49 L291.5 224.06 L292.0 224.28 L292.5 223.61 L293.0 223.67 L293.5 223.63 L294.0 223.89 L294.5 223.92 L295.0 223.50 L295.5 223.60 L296.0 223.67 L296.5 223.55 L297.0 223.69 L297.5 224.26 L298.0 223.78 L298.5 224.40 L299.0 224.10 L299.5 223.93 L300.0 224.04 L300.5 223.91 L301.0 224.32 L301.5 224.03 L302.0 224.31 L302.5 224.19 L303.0 224.33 L303.5 223.90 L304.0 224.42 L304.5 223.99 L305.0 224.18 L305.5 224.60 L306.0 224.63 L306.5 224.28 L307.0 224.21 L307.5 224.26 L308.0 224.36 L308.5 224.62 L309.0 224.07 L309.5 223.85 L310.0 224.29 L310.5 224.12 L311.0 224.24 L311.5 224.24 L312.0 223.94 L312.5 224.12 L313.0 224.55 L313.5 224.29 L314.0 224.40 L314.5 224.32 L315.0 224.07 L315.5 223.94 L316.0 224.29 L316.5 223.97 L317.0 224.30 L317.5 224.57 L318.0 223.87 L318.5 224.51 L319.0 224.31 L319.5 224.62 L320.0 224.13 L320.5 224.13 L321.0 223.99 L321.5 224.44 L322.0 223.89 L322.5 223.96 L323.0 224.05 L323.5 224.59 L324.0 224.57 L324.5 224.33 L325.0 224.33 L325.5 224.07 L326.0 224.36 L326.5 224.57 L327.0 224.10 L327.5 223.93 L328.0 223.98 L328.5 224.14 L329.0 224.08 L329.5 224.06 L330.0 224.24 L330.5 224.54 L331.0 224.31 L331.5 224.06 L332.0 224.18 L332.5 223.92 L333.0 224.50 L333.5 223.81 L334.0 224.23 L334.5 224.39 L335.0 224.31 L335.5 223.78 L336.0 224.38 L336.5 224.11 L337.0 224.39 L337.5 223.82 L338.0 224.14 L338.5 224.50 L339.0 223.84 L339.5 224.44 L340.0 224.14 L340.5 224.07 L341.0 223.85 L341.5 224.11 L342.0 223.79 L342.5 223.79 L343.0 223.74 L343.5 223.80 L344.0 224.16 L344.5 223.97 L345.0 224.36 L345.5 223.82 L346.0 223.86 L346.5 224.24 L347.0 224.07 L347.5 223.69 L348.0 224.05 L348.5 223.81 L349.0 224.34 L349.5 224.12 L350.0 224.10 L350.5 223.79 L351.0 224.20 L351.5 224.15 L352.0 224.03 L352.5 223.83 L353.0 224.10 L353.5 223.75 L354.0 223.53 L354.5 223.71 L355.0 223.65 L355.5 223.85 L356.0 223.43 L356.5 223.90 L357.0 223.36 L357.5 223.62 L358.0 223.42 L358.5 223.88 L359.0 223.47 L359.5 223.14 L360.0 223.06 L360.5 222.99 L361.0 223.12 L361.5 222.71 L362.0 223.03 L362.5 222.60 L363.0 221.77 L363.5 221.17 L364.0 220.58 L364.5 220.07 L365.0 218.87 L365.5 217.69 L366.0 216.14 L366.5 214.79 L367.0 212.34 L367.5 211.18 L368.0 209.67 L368.5 209.09 L369.0 208.92 L369.5 209.75 L370.0 211.07 L370.5 212.88 L371.0 214.18 L371.5 215.36 L372.0 216.88 L372.5 218.68 L373.0 218.92 L373.5 220.25 L374.0 221.12 L374.5 221.29 L375.0 221.78 L375.5 222.14 L376.0 222.05 L376.5 222.55 L377.0 223.08 L377.5 222.82 L378.0 222.77 L378.5 223.38 L379.0 223.41 L379.5 223.31 L380.0 223.40 L380.5 223.14 L381.0 223.44 L381.5 223.58 L382.0 223.09 L382.5 223.34 L383.0 223.29 L383.5 223.25 L384.0 223.54 L384.5 223.11 L385.0 223.15 L385.5 223.40 L386.0 223.27 L386.5 223.33 L387.0 222.95 L387.5 222.93 L388.0 223.18 L388.5 222.65 L389.0 222.14 L389.5 222.63 L390.0 222.22 L390.5 222.05" stroke="#34a468" stroke-width="1.78" fill="none" stroke-linejoin="round" stroke-linecap="round"/><path d="M389.5 222.63 L390.0 222.22 L390.5 222.05 L391.0 222.07 L391.5 222.13 L392.0 222.21 L392.5 221.93 L393.0 222.08 L393.5 222.29 L394.0 223.14 L394.5 222.67 L395.0 222.95 L395.5 223.58 L396.0 223.17 L396.5 223.56 L397.0 223.20 L397.5 223.19 L398.0 223.58 L398.5 223.77 L399.0 223.29 L399.5 223.90 L400.0 223.70 L400.5 223.68 L401.0 223.45 L401.5 223.23 L402.0 223.51 L402.5 223.68 L403.0 223.31 L403.5 223.22 L404.0 223.36 L404.5 222.88 L405.0 222.86 L405.5 223.19 L406.0 223.35 L406.5 223.36 L407.0 223.06 L407.5 223.43 L408.0 223.83 L408.5 223.26 L409.0 223.96 L409.5 223.71 L410.0 224.05 L410.5 223.44 L411.0 223.66 L411.5 223.53 L412.0 223.77 L412.5 224.02 L413.0 223.62 L413.5 223.85 L414.0 224.12 L414.5 223.90 L415.0 223.76 L415.5 223.55 L416.0 224.14 L416.5 224.17 L417.0 223.60 L417.5 223.63 L418.0 224.14 L418.5 223.68 L419.0 223.65 L419.5 223.88 L420.0 224.07 L420.5 223.48 L421.0 223.86 L421.5 223.48 L422.0 224.00 L422.5 223.52 L423.0 223.88 L423.5 223.72 L424.0 223.81 L424.5 224.08 L425.0 223.39 L425.5 224.04 L426.0 223.62 L426.5 223.90 L427.0 223.61 L427.5 223.61 L428.0 223.57 L428.5 223.80 L429.0 223.46 L429.5 223.95 L430.0 223.97 L430.5 223.97 L431.0 223.51 L431.5 223.93 L432.0 223.95 L432.5 223.99 L433.0 223.50 L433.5 223.82 L434.0 223.63 L434.5 224.11 L435.0 224.07 L435.5 223.53 L436.0 223.54 L436.5 223.56 L437.0 223.95 L437.5 223.82 L438.0 224.04 L438.5 223.36 L439.0 223.30 L439.5 223.29 L440.0 223.48 L440.5 223.38 L441.0 223.29 L441.5 223.45 L442.0 223.03 L442.5 222.71 L443.0 222.52 L443.5 222.30 L444.0 222.23 L444.5 222.00 L445.0 222.07 L445.5 222.27 L446.0 222.06 L446.5 222.41 L447.0 222.85 L447.5 222.83 L448.0 222.48 L448.5 222.69 L449.0 223.50 L449.5 222.92 L450.0 223.62 L450.5 223.30 L451.0 223.35 L451.5 223.10 L452.0 223.59 L452.5 223.38 L453.0 223.21 L453.5 223.24 L454.0 223.35 L454.5 223.37 L455.0 223.78 L455.5 223.77 L456.0 222.98 L456.5 223.21 L457.0 223.32 L457.5 222.56 L458.0 223.03 L458.5 222.91 L459.0 222.21 L459.5 222.19 L460.0 221.91 L460.5 222.11 L461.0 222.03 L461.5 222.53 L462.0 222.66 L462.5 222.78 L463.0 223.39 L463.5 223.18 L464.0 223.62 L464.5 223.67 L465.0 223.41 L465.5 223.35 L466.0 223.49 L466.5 223.32 L467.0 223.93 L467.5 223.98 L468.0 223.84 L468.5 223.65 L469.0 223.51 L469.5 223.44 L470.0 223.62 L470.5 223.32 L471.0 223.29 L471.5 222.86 L472.0 223.08 L472.5 222.38 L473.0 222.20 L473.5 221.98 L474.0 222.08 L474.5 221.87 L475.0 221.89 L475.5 221.63 L476.0 222.31 L476.5 222.08 L477.0 222.07 L477.5 222.75 L478.0 223.21 L478.5 222.89 L479.0 223.38 L479.5 223.31 L480.0 223.58 L480.5 223.77 L481.0 223.59 L481.5 223.58 L482.0 223.36 L482.5 223.44 L483.0 224.03 L483.5 224.08 L484.0 223.85 L484.5 223.85 L485.0 223.98 L485.5 223.66 L486.0 223.77 L486.5 223.70 L487.0 223.74 L487.5 224.24 L488.0 223.85 L488.5 224.23 L489.0 223.96 L489.5 223.95 L490.0 223.74 L490.5 224.26 L491.0 223.67 L491.5 224.31 L492.0 223.79 L492.5 224.28 L493.0 224.35 L493.5 223.78 L494.0 223.76 L494.5 223.75 L495.0 223.62 L495.5 224.31 L496.0 223.75 L496.5 223.62 L497.0 224.03 L497.5 224.28 L498.0 223.87 L498.5 223.72 L499.0 224.13 L499.5 224.21 L500.0 223.71 L500.5 224.12 L501.0 224.04 L501.5 224.16 L502.0 224.20 L502.5 223.88 L503.0 224.31 L503.5 224.21 L504.0 224.32 L504.5 224.20 L505.0 223.91 L505.5 224.42 L506.0 223.81 L506.5 224.24 L507.0 224.30 L507.5 224.14 L508.0 224.25 L508.5 223.83 L509.0 223.70 L509.5 224.07 L510.0 223.95 L510.5 223.91 L511.0 224.13 L511.5 224.25 L512.0 224.21 L512.5 224.25 L513.0 224.39 L513.5 224.30 L514.0 224.46 L514.5 223.82 L515.0 224.02 L515.5 223.73 L516.0 224.45 L516.5 224.35 L517.0 223.89 L517.5 224.04 L518.0 224.41 L518.5 224.36 L519.0 224.32 L519.5 224.06 L520.0 224.28 L520.5 223.86 L521.0 224.32 L521.5 223.84 L522.0 223.95 L522.5 224.23 L523.0 223.95 L523.5 224.46 L524.0 224.03 L524.5 223.85 L525.0 224.07 L525.5 224.29 L526.0 224.20 L526.5 224.20 L527.0 224.14 L527.5 224.52 L528.0 224.47 L528.5 223.90 L529.0 224.48 L529.5 223.76 L530.0 223.83 L530.5 223.80 L531.0 224.06 L531.5 224.05 L532.0 223.80 L532.5 224.32 L533.0 223.98 L533.5 224.18 L534.0 224.14 L534.5 224.48 L535.0 224.28 L535.5 224.56 L536.0 223.99 L536.5 223.87 L537.0 224.43 L537.5 224.36 L538.0 224.57 L538.5 223.89 L539.0 224.49 L539.5 224.08 L540.0 223.85 L540.5 224.25 L541.0 223.84 L541.5 224.37 L542.0 224.11 L542.5 224.10 L543.0 224.56 L543.5 224.38 L544.0 224.03 L544.5 224.28 L545.0 224.10 L545.5 224.20 L546.0 223.86 L546.5 224.10 L547.0 224.25 L547.5 224.15 L548.0 224.61 L548.5 223.91 L549.0 224.41 L549.5 224.32 L550.0 224.04 L550.5 224.06 L551.0 224.55 L551.5 224.51 L552.0 224.04 L552.5 224.27 L553.0 223.96" stroke="#34a468" stroke-width="1.51" fill="none" stroke-linejoin="round" stroke-linecap="round"/>
<path d="M54.5 246.92 L55.0 247.13 L55.5 246.24 L56.0 247.34 L56.5 247.28 L57.0 246.52 L57.5 247.43 L58.0 247.50 L58.5 246.90 L59.0 247.84 L59.5 247.25 L60.0 247.42 L60.5 247.72 L61.0 247.84 L61.5 247.97 L62.0 247.53 L62.5 247.83 L63.0 247.52 L63.5 247.75 L64.0 248.06 L64.5 247.67 L65.0 248.05 L65.5 248.63 L66.0 248.00 L66.5 248.35 L67.0 247.98 L67.5 248.82 L68.0 248.19 L68.5 248.35 L69.0 249.03 L69.5 248.77 L70.0 248.95 L70.5 249.08 L71.0 249.02 L71.5 249.01 L72.0 248.78 L72.5 248.83 L73.0 248.96 L73.5 249.07 L74.0 249.21 L74.5 249.90 L75.0 249.22 L75.5 249.19 L76.0 249.40 L76.5 249.31 L77.0 250.13 L77.5 250.33 L78.0 250.18 L78.5 250.45 L79.0 250.06 L79.5 250.01 L80.0 249.99 L80.5 250.34 L81.0 249.94 L81.5 250.31 L82.0 250.22 L82.5 250.58 L83.0 250.86 L83.5 250.67 L84.0 250.16 L84.5 250.71 L85.0 250.91 L85.5 250.75 L86.0 250.28 L86.5 250.36 L87.0 250.90 L87.5 251.15 L88.0 250.95 L88.5 251.26 L89.0 251.11 L89.5 251.46 L90.0 250.84 L90.5 251.57 L91.0 251.53 L91.5 250.88 L92.0 251.05 L92.5 251.18 L93.0 251.77 L93.5 251.66 L94.0 251.08 L94.5 251.86 L95.0 251.44 L95.5 252.10 L96.0 251.50 L96.5 251.35 L97.0 251.65 L97.5 251.84 L98.0 251.85 L98.5 252.01 L99.0 251.59 L99.5 251.81 L100.0 251.60 L100.5 252.68 L101.0 252.18 L101.5 252.00 L102.0 251.91 L102.5 252.43 L103.0 251.81 L103.5 252.02 L104.0 252.62 L104.5 252.51 L105.0 252.75 L105.5 252.94 L106.0 252.40 L106.5 252.92 L107.0 253.01 L107.5 253.07 L108.0 252.78 L108.5 253.07 L109.0 252.31 L109.5 252.51 L110.0 252.97 L110.5 252.99 L111.0 253.08 L111.5 252.90 L112.0 252.53 L112.5 252.86 L113.0 252.76 L113.5 253.31 L114.0 252.87 L114.5 253.48 L115.0 253.26 L115.5 253.13 L116.0 253.41 L116.5 253.74 L117.0 253.16 L117.5 252.89 L118.0 253.80 L118.5 253.20 L119.0 253.89 L119.5 253.46 L120.0 253.42 L120.5 253.92 L121.0 253.15 L121.5 254.00 L122.0 253.38 L122.5 253.95 L123.0 254.18 L123.5 254.07 L124.0 253.55 L124.5 254.27 L125.0 253.81 L125.5 253.58 L126.0 253.67 L126.5 253.39 L127.0 254.01 L127.5 253.83 L128.0 253.98 L128.5 254.36 L129.0 253.90 L129.5 253.46 L130.0 254.11 L130.5 253.56 L131.0 254.14 L131.5 254.10 L132.0 254.02 L132.5 254.27 L133.0 253.66 L133.5 253.97 L134.0 253.83 L134.5 253.85 L135.0 253.76 L135.5 253.89 L136.0 254.60 L136.5 254.76 L137.0 254.37 L137.5 254.56 L138.0 253.74 L138.5 254.11 L139.0 254.55 L139.5 254.76 L140.0 253.84 L140.5 254.88 L141.0 254.87 L141.5 253.91 L142.0 254.27 L142.5 254.84 L143.0 254.22 L143.5 254.03 L144.0 254.50 L144.5 254.55 L145.0 254.72 L145.5 254.12 L146.0 254.43 L146.5 254.09 L147.0 254.91 L147.5 254.87 L148.0 254.91 L148.5 254.00 L149.0 254.03 L149.5 254.70 L150.0 254.28 L150.5 254.66 L151.0 254.38 L151.5 253.65 L152.0 253.68 L152.5 254.29 L153.0 253.74 L153.5 253.85 L154.0 254.08 L154.5 253.47 L155.0 253.55 L155.5 254.02 L156.0 253.55 L156.5 253.97 L157.0 254.07 L157.5 253.80 L158.0 253.83 L158.5 254.62 L159.0 254.57 L159.5 254.38 L160.0 254.36 L160.5 254.89 L161.0 254.40 L161.5 254.09 L162.0 254.45 L162.5 254.43 L163.0 254.49 L163.5 254.26 L164.0 254.41 L164.5 253.89 L165.0 254.56 L165.5 254.77 L166.0 254.58 L166.5 254.66 L167.0 254.77 L167.5 254.19 L168.0 254.06 L168.5 254.36 L169.0 253.72 L169.5 253.73 L170.0 253.96 L170.5 253.25 L171.0 254.18 L171.5 253.99 L172.0 253.36 L172.5 253.28 L173.0 252.71 L173.5 252.50 L174.0 251.65 L174.5 251.33 L175.0 250.36 L175.5 249.52 L176.0 248.40 L176.5 246.84 L177.0 243.78 L177.5 241.23 L178.0 238.83 L178.5 236.10 L179.0 232.85 L179.5 230.73 L180.0 230.34 L180.5 230.20 L181.0 231.54 L181.5 234.35 L182.0 237.02 L182.5 239.13 L183.0 242.24 L183.5 244.39 L184.0 246.57 L184.5 247.66 L185.0 248.72 L185.5 249.98 L186.0 250.86 L186.5 251.65 L187.0 252.54 L187.5 252.55 L188.0 253.68 L188.5 253.05 L189.0 254.06 L189.5 253.56 L190.0 254.47 L190.5 253.84 L191.0 254.33 L191.5 254.10 L192.0 254.72 L192.5 254.69 L193.0 254.91 L193.5 254.62 L194.0 254.42 L194.5 254.66 L195.0 255.31 L195.5 254.97 L196.0 254.66 L196.5 254.60 L197.0 255.13 L197.5 255.52 L198.0 255.38 L198.5 255.54 L199.0 254.78 L199.5 255.23 L200.0 255.16 L200.5 255.14 L201.0 255.74 L201.5 255.69 L202.0 255.31 L202.5 255.85 L203.0 255.25 L203.5 255.77 L204.0 255.49 L204.5 255.49 L205.0 255.95 L205.5 255.81 L206.0 255.75 L206.5 255.74 L207.0 255.74 L207.5 255.90 L208.0 255.81 L208.5 255.55 L209.0 255.76 L209.5 255.62 L210.0 255.46 L210.5 255.36 L211.0 256.02 L211.5 255.62 L212.0 255.69 L212.5 255.39 L213.0 255.68 L213.5 255.93 L214.0 255.74 L214.5 255.65 L215.0 255.48 L215.5 254.87 L216.0 254.59 L216.5 254.23 L217.0 254.05 L217.5 253.64 L218.0 253.44 L218.5 253.45 L219.0 253.91 L219.5 253.97 L220.0 254.29 L220.5 255.14 L221.0 254.92 L221.5 255.33 L222.0 255.57 L222.5 254.92 L223.0 255.48 L223.5 255.08 L224.0 255.21 L224.5 255.03 L225.0 255.26 L225.5 255.05 L226.0 255.09 L226.5 254.76 L227.0 254.62 L227.5 254.32 L228.0 253.71 L228.5 253.21 L229.0 252.49 L229.5 251.14 L230.0 249.72 L230.5 248.14 L231.0 245.95 L231.5 242.92 L232.0 240.32 L232.5 236.82 L233.0 234.25 L233.5 233.05 L234.0 233.10 L234.5 234.14 L235.0 236.41 L235.5 238.73 L236.0 241.45 L236.5 244.40 L237.0 246.25 L237.5 248.65 L238.0 249.75 L238.5 251.06 L239.0 252.44 L239.5 252.69 L240.0 253.74 L240.5 253.58 L241.0 254.29 L241.5 254.52 L242.0 254.58 L242.5 254.82 L243.0 255.38 L243.5 255.01 L244.0 255.11 L244.5 255.39 L245.0 255.45 L245.5 255.55 L246.0 255.69 L246.5 255.80 L247.0 255.59 L247.5 255.85 L248.0 255.93 L248.5 256.18 L249.0 255.77 L249.5 255.70 L250.0 255.89 L250.5 256.29" stroke="#2466cc" stroke-width="2.10" fill="none" stroke-linejoin="round" stroke-linecap="round"/><path d="M249.5 255.70 L250.0 255.89 L250.5 256.29 L251.0 256.03 L251.5 255.97 L252.0 256.14 L252.5 255.78 L253.0 255.94 L253.5 256.48 L254.0 256.13 L254.5 256.27 L255.0 255.83 L255.5 255.80 L256.0 256.51 L256.5 255.77 L257.0 256.29 L257.5 255.76 L258.0 256.10 L258.5 255.95 L259.0 255.68 L259.5 255.77 L260.0 256.15 L260.5 255.73 L261.0 255.71 L261.5 255.02 L262.0 255.63 L262.5 255.14 L263.0 255.10 L263.5 254.87 L264.0 254.64 L264.5 254.65 L265.0 255.07 L265.5 255.29 L266.0 255.15 L266.5 255.41 L267.0 255.12 L267.5 254.94 L268.0 255.17 L268.5 254.79 L269.0 254.72 L269.5 254.69 L270.0 255.00 L270.5 255.22 L271.0 254.90 L271.5 254.92 L272.0 255.07 L272.5 254.78 L273.0 255.42 L273.5 255.72 L274.0 255.22 L274.5 256.07 L275.0 255.93 L275.5 255.98 L276.0 255.71 L276.5 256.24 L277.0 256.36 L277.5 256.56 L278.0 256.07 L278.5 256.15 L279.0 256.72 L279.5 256.78 L280.0 256.36 L280.5 256.55 L281.0 256.19 L281.5 256.67 L282.0 256.83 L282.5 256.22 L283.0 256.35 L283.5 256.83 L284.0 256.24 L284.5 256.72 L285.0 256.56 L285.5 256.72 L286.0 256.45 L286.5 256.87 L287.0 256.75 L287.5 256.61 L288.0 256.29 L288.5 256.82 L289.0 256.87 L289.5 256.48 L290.0 256.10 L290.5 256.31 L291.0 256.45 L291.5 256.58 L292.0 256.51 L292.5 256.00 L293.0 255.70 L293.5 255.61 L294.0 255.46 L294.5 255.07 L295.0 255.00 L295.5 254.90 L296.0 255.45 L296.5 255.31 L297.0 255.55 L297.5 255.64 L298.0 256.22 L298.5 255.87 L299.0 256.63 L299.5 256.27 L300.0 256.71 L300.5 256.54 L301.0 256.18 L301.5 256.88 L302.0 256.64 L302.5 256.66 L303.0 256.88 L303.5 256.93 L304.0 256.56 L304.5 256.61 L305.0 256.73 L305.5 256.35 L306.0 256.32 L306.5 256.51 L307.0 256.96 L307.5 256.97 L308.0 256.98 L308.5 257.03 L309.0 256.80 L309.5 256.38 L310.0 256.65 L310.5 256.77 L311.0 256.62 L311.5 256.66 L312.0 256.71 L312.5 256.78 L313.0 256.36 L313.5 256.59 L314.0 256.32 L314.5 256.92 L315.0 256.58 L315.5 256.91 L316.0 256.43 L316.5 256.61 L317.0 256.32 L317.5 256.92 L318.0 256.61 L318.5 256.49 L319.0 256.88 L319.5 256.80 L320.0 256.49 L320.5 256.54 L321.0 257.07 L321.5 256.44 L322.0 257.05 L322.5 256.80 L323.0 257.02 L323.5 256.99 L324.0 256.99 L324.5 256.57 L325.0 257.04 L325.5 256.46 L326.0 257.01 L326.5 257.01 L327.0 256.81 L327.5 256.57 L328.0 256.95 L328.5 256.60 L329.0 256.69 L329.5 256.91 L330.0 256.87 L330.5 256.72 L331.0 257.05 L331.5 256.43 L332.0 256.93 L332.5 256.81 L333.0 256.66 L333.5 256.39 L334.0 256.47 L334.5 256.55 L335.0 256.32 L335.5 257.04 L336.0 256.87 L336.5 256.80 L337.0 256.59 L337.5 256.65 L338.0 256.44 L338.5 256.82 L339.0 256.65 L339.5 256.78 L340.0 256.50 L340.5 256.42 L341.0 256.46 L341.5 256.78 L342.0 256.33 L342.5 256.38 L343.0 256.54 L343.5 256.67 L344.0 257.04 L344.5 256.78 L345.0 256.72 L345.5 256.77 L346.0 256.63 L346.5 256.37 L347.0 256.91 L347.5 256.90 L348.0 256.31 L348.5 256.42 L349.0 256.73 L349.5 256.56 L350.0 256.92 L350.5 256.56 L351.0 256.73 L351.5 256.22 L352.0 256.25 L352.5 256.17 L353.0 256.55 L353.5 256.17 L354.0 256.63 L354.5 256.47 L355.0 256.46 L355.5 256.38 L356.0 256.58 L356.5 255.97 L357.0 255.99 L357.5 256.14 L358.0 256.55 L358.5 256.25 L359.0 256.25 L359.5 255.69 L360.0 255.63 L360.5 255.86 L361.0 256.03 L361.5 255.71 L362.0 255.13 L362.5 255.45 L363.0 254.57 L363.5 254.36 L364.0 254.39 L364.5 253.42 L365.0 252.53 L365.5 251.34 L366.0 250.47 L366.5 248.54 L367.0 246.70 L367.5 244.72 L368.0 243.14 L368.5 242.48 L369.0 241.86 L369.5 242.38 L370.0 243.39 L370.5 245.18 L371.0 246.07 L371.5 248.23 L372.0 249.61 L372.5 250.71 L373.0 251.31 L373.5 252.52 L374.0 253.27 L374.5 253.79 L375.0 254.29 L375.5 254.62 L376.0 255.19 L376.5 255.31 L377.0 255.45 L377.5 255.39 L378.0 255.44 L378.5 255.74 L379.0 255.53 L379.5 255.82 L380.0 255.79 L380.5 255.77 L381.0 256.06 L381.5 255.95 L382.0 256.07 L382.5 255.99 L383.0 256.33 L383.5 256.40 L384.0 256.03 L384.5 256.25 L385.0 256.33 L385.5 256.45 L386.0 256.36 L386.5 255.71 L387.0 256.17 L387.5 255.56 L388.0 255.30 L388.5 255.56 L389.0 255.14 L389.5 254.82 L390.0 255.11 L390.5 255.22" stroke="#2466cc" stroke-width="1.78" fill="none" stroke-linejoin="round" stroke-linecap="round"/><path d="M389.5 254.82 L390.0 255.11 L390.5 255.22 L391.0 254.73 L391.5 255.10 L392.0 254.97 L392.5 255.06 L393.0 255.60 L393.5 255.82 L394.0 255.59 L394.5 255.54 L395.0 256.10 L395.5 256.34 L396.0 256.13 L396.5 256.53 L397.0 256.49 L397.5 256.06 L398.0 256.23 L398.5 256.52 L399.0 256.11 L399.5 256.35 L400.0 256.78 L400.5 256.17 L401.0 256.11 L401.5 256.83 L402.0 256.74 L402.5 256.32 L403.0 256.22 L403.5 256.33 L404.0 256.44 L404.5 256.55 L405.0 256.14 L405.5 256.36 L406.0 256.13 L406.5 256.56 L407.0 256.37 L407.5 256.54 L408.0 256.42 L408.5 256.34 L409.0 256.79 L409.5 256.49 L410.0 256.84 L410.5 256.90 L411.0 256.22 L411.5 256.65 L412.0 256.90 L412.5 256.74 L413.0 256.84 L413.5 256.40 L414.0 256.77 L414.5 256.30 L415.0 256.72 L415.5 256.41 L416.0 256.44 L416.5 256.32 L417.0 256.34 L417.5 256.31 L418.0 256.41 L418.5 256.89 L419.0 256.73 L419.5 256.13 L420.0 256.92 L420.5 256.37 L421.0 256.63 L421.5 256.77 L422.0 256.68 L422.5 256.55 L423.0 256.86 L423.5 256.42 L424.0 256.14 L424.5 256.61 L425.0 256.38 L425.5 256.29 L426.0 256.57 L426.5 256.38 L427.0 256.56 L427.5 256.57 L428.0 256.24 L428.5 256.58 L429.0 256.42 L429.5 256.67 L430.0 256.27 L430.5 256.74 L431.0 256.75 L431.5 256.11 L432.0 256.11 L432.5 256.56 L433.0 256.63 L433.5 255.99 L434.0 256.08 L434.5 255.95 L435.0 256.25 L435.5 256.05 L436.0 255.97 L436.5 255.67 L437.0 256.04 L437.5 256.32 L438.0 255.88 L438.5 256.24 L439.0 255.70 L439.5 256.45 L440.0 256.11 L440.5 256.07 L441.0 256.36 L441.5 256.06 L442.0 256.48 L442.5 256.49 L443.0 256.54 L443.5 256.39 L444.0 256.31 L444.5 256.69 L445.0 256.83 L445.5 256.22 L446.0 256.68 L446.5 256.61 L447.0 256.43 L447.5 256.42 L448.0 256.40 L448.5 256.82 L449.0 256.63 L449.5 256.65 L450.0 256.81 L450.5 256.77 L451.0 256.64 L451.5 256.28 L452.0 256.30 L452.5 256.42 L453.0 256.52 L453.5 256.34 L454.0 256.17 L454.5 256.24 L455.0 256.12 L455.5 256.74 L456.0 256.18 L456.5 256.35 L457.0 256.38 L457.5 256.01 L458.0 256.19 L458.5 255.88 L459.0 255.87 L459.5 256.16 L460.0 255.70 L460.5 255.84 L461.0 255.04 L461.5 254.98 L462.0 254.87 L462.5 254.90 L463.0 254.95 L463.5 254.81 L464.0 254.72 L464.5 255.26 L465.0 255.15 L465.5 255.96 L466.0 255.56 L466.5 255.68 L467.0 255.92 L467.5 256.22 L468.0 256.01 L468.5 256.18 L469.0 256.18 L469.5 255.77 L470.0 256.53 L470.5 256.27 L471.0 255.70 L471.5 255.99 L472.0 256.09 L472.5 255.40 L473.0 255.78 L473.5 255.10 L474.0 255.02 L474.5 254.81 L475.0 254.59 L475.5 254.09 L476.0 253.75 L476.5 253.49 L477.0 254.11 L477.5 253.85 L478.0 254.72 L478.5 254.37 L479.0 255.09 L479.5 255.59 L480.0 255.11 L480.5 255.95 L481.0 255.97 L481.5 255.88 L482.0 255.85 L482.5 256.49 L483.0 255.95 L483.5 255.91 L484.0 256.61 L484.5 256.12 L485.0 256.10 L485.5 256.25 L486.0 256.74 L486.5 256.78 L487.0 256.19 L487.5 256.51 L488.0 256.65 L488.5 256.40 L489.0 256.81 L489.5 256.17 L490.0 256.76 L490.5 256.37 L491.0 256.70 L491.5 256.64 L492.0 256.81 L492.5 256.21 L493.0 256.51 L493.5 256.58 L494.0 256.18 L494.5 256.49 L495.0 256.26 L495.5 256.24 L496.0 256.73 L496.5 256.48 L497.0 256.77 L497.5 256.69 L498.0 256.23 L498.5 256.58 L499.0 256.77 L499.5 256.53 L500.0 256.27 L500.5 256.65 L501.0 256.92 L501.5 256.71 L502.0 256.67 L502.5 256.81 L503.0 256.52 L503.5 256.70 L504.0 256.79 L504.5 256.74 L505.0 256.73 L505.5 256.89 L506.0 256.53 L506.5 256.18 L507.0 256.51 L507.5 256.64 L508.0 256.38 L508.5 256.41 L509.0 256.70 L509.5 256.16 L510.0 256.30 L510.5 256.45 L511.0 256.93 L511.5 256.79 L512.0 256.89 L512.5 256.91 L513.0 256.37 L513.5 256.39 L514.0 256.37 L514.5 256.87 L515.0 256.58 L515.5 256.38 L516.0 256.93 L516.5 256.55 L517.0 256.48 L517.5 256.25 L518.0 256.48 L518.5 256.67 L519.0 256.56 L519.5 256.40 L520.0 256.82 L520.5 256.32 L521.0 256.54 L521.5 256.92 L522.0 256.28 L522.5 256.20 L523.0 256.28 L523.5 256.17 L524.0 256.58 L524.5 256.89 L525.0 256.85 L525.5 256.89 L526.0 256.48 L526.5 256.15 L527.0 256.24 L527.5 256.86 L528.0 256.29 L528.5 256.90 L529.0 256.33 L529.5 256.51 L530.0 256.71 L530.5 256.75 L531.0 256.72 L531.5 256.94 L532.0 256.83 L532.5 256.79 L533.0 256.19 L533.5 256.25 L534.0 256.89 L534.5 256.68 L535.0 256.65 L535.5 256.74 L536.0 256.33 L536.5 256.97 L537.0 256.44 L537.5 256.42 L538.0 256.70 L538.5 256.36 L539.0 256.79 L539.5 256.61 L540.0 256.76 L540.5 256.47 L541.0 256.76 L541.5 256.31 L542.0 256.81 L542.5 256.91 L543.0 256.96 L543.5 256.63 L544.0 256.82 L544.5 256.45 L545.0 257.01 L545.5 256.27 L546.0 256.38 L546.5 256.93 L547.0 256.60 L547.5 256.87 L548.0 256.30 L548.5 256.59 L549.0 256.49 L549.5 256.46 L550.0 256.48 L550.5 256.42 L551.0 256.39 L551.5 257.10 L552.0 257.07 L552.5 256.60 L553.0 256.35" stroke="#2466cc" stroke-width="1.51" fill="none" stroke-linejoin="round" stroke-linecap="round"/>
<path d="M54.5 279.13 L55.0 279.50 L55.5 280.01 L56.0 279.76 L56.5 279.65 L57.0 279.55 L57.5 279.45 L58.0 280.48 L58.5 280.30 L59.0 279.83 L59.5 280.29 L60.0 280.50 L60.5 280.80 L61.0 280.19 L61.5 280.31 L62.0 280.25 L62.5 280.78 L63.0 281.22 L63.5 281.10 L64.0 280.52 L64.5 280.86 L65.0 280.61 L65.5 280.78 L66.0 281.22 L66.5 280.92 L67.0 281.13 L67.5 281.17 L68.0 281.44 L68.5 282.00 L69.0 281.39 L69.5 281.88 L70.0 281.71 L70.5 281.67 L71.0 281.75 L71.5 282.34 L72.0 282.49 L72.5 282.43 L73.0 282.68 L73.5 282.57 L74.0 282.16 L74.5 282.16 L75.0 282.59 L75.5 282.71 L76.0 282.97 L76.5 283.16 L77.0 283.11 L77.5 283.37 L78.0 283.10 L78.5 283.18 L79.0 283.37 L79.5 283.10 L80.0 283.49 L80.5 283.64 L81.0 283.30 L81.5 283.17 L82.0 283.27 L82.5 283.59 L83.0 283.60 L83.5 283.58 L84.0 283.52 L84.5 283.96 L85.0 283.96 L85.5 284.29 L86.0 284.37 L86.5 283.39 L87.0 283.87 L87.5 284.30 L88.0 284.12 L88.5 284.27 L89.0 283.92 L89.5 284.12 L90.0 284.69 L90.5 284.54 L91.0 284.82 L91.5 284.92 L92.0 284.98 L92.5 284.98 L93.0 285.09 L93.5 285.12 L94.0 285.21 L94.5 284.70 L95.0 284.74 L95.5 284.84 L96.0 285.24 L96.5 285.53 L97.0 285.24 L97.5 285.03 L98.0 284.69 L98.5 284.80 L99.0 284.78 L99.5 284.92 L100.0 284.80 L100.5 285.29 L101.0 285.23 L101.5 285.99 L102.0 285.16 L102.5 285.14 L103.0 286.07 L103.5 286.14 L104.0 285.74 L104.5 285.81 L105.0 285.63 L105.5 285.74 L106.0 285.66 L106.5 285.50 L107.0 286.51 L107.5 286.43 L108.0 286.46 L108.5 285.72 L109.0 286.30 L109.5 285.70 L110.0 286.46 L110.5 285.79 L111.0 286.42 L111.5 285.97 L112.0 286.91 L112.5 286.87 L113.0 286.37 L113.5 286.95 L114.0 286.84 L114.5 286.21 L115.0 287.00 L115.5 287.05 L116.0 286.40 L116.5 286.89 L117.0 286.52 L117.5 286.25 L118.0 286.76 L118.5 286.44 L119.0 287.22 L119.5 287.12 L120.0 286.65 L120.5 286.86 L121.0 286.52 L121.5 286.87 L122.0 287.17 L122.5 287.45 L123.0 287.63 L123.5 287.28 L124.0 287.11 L124.5 287.61 L125.0 287.32 L125.5 287.60 L126.0 287.12 L126.5 287.74 L127.0 287.00 L127.5 287.24 L128.0 287.09 L128.5 287.27 L129.0 287.56 L129.5 287.94 L130.0 286.98 L130.5 287.60 L131.0 287.22 L131.5 287.91 L132.0 287.84 L132.5 288.11 L133.0 288.13 L133.5 287.81 L134.0 287.40 L134.5 287.93 L135.0 287.66 L135.5 287.47 L136.0 287.31 L136.5 288.20 L137.0 287.71 L137.5 287.41 L138.0 287.51 L138.5 287.44 L139.0 287.37 L139.5 288.15 L140.0 287.86 L140.5 287.69 L141.0 287.74 L141.5 287.70 L142.0 287.97 L142.5 288.05 L143.0 287.52 L143.5 287.91 L144.0 288.44 L144.5 288.27 L145.0 288.06 L145.5 287.95 L146.0 287.88 L146.5 287.70 L147.0 287.89 L147.5 287.70 L148.0 287.62 L148.5 287.72 L149.0 288.69 L149.5 288.67 L150.0 287.67 L150.5 288.02 L151.0 287.77 L151.5 288.04 L152.0 288.33 L152.5 287.94 L153.0 288.17 L153.5 287.88 L154.0 288.26 L154.5 287.87 L155.0 288.07 L155.5 288.18 L156.0 288.03 L156.5 288.27 L157.0 288.60 L157.5 288.22 L158.0 288.68 L158.5 287.94 L159.0 288.54 L159.5 288.67 L160.0 288.81 L160.5 288.52 L161.0 288.11 L161.5 288.52 L162.0 288.45 L162.5 288.20 L163.0 288.41 L163.5 287.80 L164.0 287.75 L164.5 287.93 L165.0 288.73 L165.5 287.73 L166.0 287.97 L166.5 288.51 L167.0 288.62 L167.5 288.08 L168.0 288.14 L168.5 288.54 L169.0 287.80 L169.5 287.54 L170.0 287.64 L170.5 288.04 L171.0 287.48 L171.5 287.60 L172.0 286.83 L172.5 287.35 L173.0 287.05 L173.5 286.24 L174.0 284.11 L174.5 282.69 L175.0 278.80 L175.5 272.58 L176.0 266.51 L176.5 262.28 L177.0 263.84 L177.5 268.95 L178.0 273.58 L178.5 278.76 L179.0 282.23 L179.5 283.63 L180.0 285.13 L180.5 286.67 L181.0 287.26 L181.5 287.06 L182.0 288.00 L182.5 287.95 L183.0 287.43 L183.5 288.37 L184.0 287.88 L184.5 288.15 L185.0 288.77 L185.5 287.96 L186.0 288.92 L186.5 288.46 L187.0 288.79 L187.5 288.49 L188.0 288.84 L188.5 288.50 L189.0 288.93 L189.5 288.81 L190.0 289.03 L190.5 288.39 L191.0 289.22 L191.5 288.69 L192.0 289.37 L192.5 289.02 L193.0 289.25 L193.5 289.02 L194.0 288.70 L194.5 289.66 L195.0 289.40 L195.5 289.70 L196.0 289.38 L196.5 289.12 L197.0 289.12 L197.5 289.57 L198.0 289.64 L198.5 289.60 L199.0 288.99 L199.5 289.06 L200.0 289.25 L200.5 288.99 L201.0 289.13 L201.5 289.29 L202.0 289.13 L202.5 289.21 L203.0 289.49 L203.5 289.61 L204.0 289.34 L204.5 289.77 L205.0 289.12 L205.5 289.16 L206.0 289.29 L206.5 289.78 L207.0 289.35 L207.5 289.78 L208.0 289.44 L208.5 289.85 L209.0 289.62 L209.5 289.40 L210.0 289.99 L210.5 290.07 L211.0 290.01 L211.5 289.64 L212.0 289.76 L212.5 289.52 L213.0 289.98 L213.5 289.63 L214.0 289.78 L214.5 289.81 L215.0 290.09 L215.5 289.71 L216.0 289.69 L216.5 290.11 L217.0 289.48 L217.5 289.43 L218.0 289.64 L218.5 289.43 L219.0 290.14 L219.5 289.80 L220.0 290.08 L220.5 289.46 L221.0 289.79 L221.5 290.07 L222.0 289.43 L222.5 290.04 L223.0 290.19 L223.5 290.10 L224.0 289.54 L224.5 289.81 L225.0 289.82 L225.5 289.79 L226.0 290.07 L226.5 289.63 L227.0 289.52 L227.5 290.09 L228.0 289.76 L228.5 289.80 L229.0 289.65 L229.5 289.63 L230.0 289.14 L230.5 289.00 L231.0 288.84 L231.5 288.84 L232.0 288.22 L232.5 288.50 L233.0 287.53 L233.5 287.70 L234.0 287.26 L234.5 286.59 L235.0 286.31 L235.5 285.91 L236.0 284.87 L236.5 282.01 L237.0 278.27 L237.5 273.64 L238.0 270.22 L238.5 269.24 L239.0 271.95 L239.5 276.52 L240.0 280.48 L240.5 283.11 L241.0 285.54 L241.5 286.56 L242.0 287.79 L242.5 288.07 L243.0 288.90 L243.5 289.04 L244.0 289.35 L244.5 289.81 L245.0 289.55 L245.5 289.51 L246.0 289.47 L246.5 289.93 L247.0 290.06 L247.5 290.25 L248.0 290.02 L248.5 290.04 L249.0 290.22 L249.5 290.39 L250.0 290.08 L250.5 290.09" stroke="#dc4646" stroke-width="1.70" fill="none" stroke-linejoin="round" stroke-linecap="round"/><path d="M249.5 290.39 L250.0 290.08 L250.5 290.09 L251.0 290.57 L251.5 290.04 L252.0 290.07 L252.5 290.30 L253.0 290.38 L253.5 290.20 L254.0 290.63 L254.5 290.12 L255.0 290.40 L255.5 290.80 L256.0 290.18 L256.5 290.06 L257.0 290.67 L257.5 290.64 L258.0 290.15 L258.5 290.13 L259.0 290.13 L259.5 290.47 L260.0 290.17 L260.5 290.70 L261.0 290.27 L261.5 290.56 L262.0 290.67 L262.5 290.25 L263.0 290.06 L263.5 290.11 L264.0 290.31 L264.5 290.65 L265.0 290.33 L265.5 290.13 L266.0 290.18 L266.5 290.20 L267.0 289.77 L267.5 290.17 L268.0 290.15 L268.5 289.91 L269.0 289.63 L269.5 290.17 L270.0 289.73 L270.5 290.04 L271.0 290.12 L271.5 289.71 L272.0 289.43 L272.5 289.40 L273.0 288.65 L273.5 288.39 L274.0 286.84 L274.5 284.70 L275.0 282.57 L275.5 282.05 L276.0 283.44 L276.5 285.12 L277.0 286.82 L277.5 287.54 L278.0 288.63 L278.5 289.52 L279.0 289.97 L279.5 289.70 L280.0 290.25 L280.5 290.55 L281.0 290.31 L281.5 290.69 L282.0 290.09 L282.5 290.61 L283.0 290.83 L283.5 290.72 L284.0 290.92 L284.5 290.65 L285.0 290.57 L285.5 290.78 L286.0 290.55 L286.5 290.29 L287.0 290.59 L287.5 290.51 L288.0 290.69 L288.5 290.89 L289.0 290.79 L289.5 290.69 L290.0 290.38 L290.5 290.79 L291.0 290.03 L291.5 290.02 L292.0 289.57 L292.5 289.40 L293.0 288.95 L293.5 288.77 L294.0 288.10 L294.5 287.68 L295.0 288.04 L295.5 288.59 L296.0 289.49 L296.5 289.58 L297.0 289.76 L297.5 290.12 L298.0 290.50 L298.5 290.85 L299.0 290.45 L299.5 290.92 L300.0 290.50 L300.5 290.89 L301.0 290.64 L301.5 290.83 L302.0 291.03 L302.5 290.45 L303.0 290.45 L303.5 290.56 L304.0 290.95 L304.5 290.99 L305.0 291.19 L305.5 290.90 L306.0 291.06 L306.5 291.22 L307.0 290.54 L307.5 290.88 L308.0 290.93 L308.5 291.09 L309.0 290.80 L309.5 291.21 L310.0 290.85 L310.5 290.60 L311.0 290.58 L311.5 290.87 L312.0 290.62 L312.5 291.14 L313.0 291.27 L313.5 290.57 L314.0 291.07 L314.5 291.36 L315.0 290.87 L315.5 290.77 L316.0 290.94 L316.5 291.37 L317.0 290.61 L317.5 290.61 L318.0 290.87 L318.5 290.71 L319.0 290.92 L319.5 291.17 L320.0 291.42 L320.5 291.25 L321.0 291.00 L321.5 291.35 L322.0 290.70 L322.5 291.23 L323.0 291.01 L323.5 290.72 L324.0 291.19 L324.5 291.22 L325.0 291.00 L325.5 291.46 L326.0 291.09 L326.5 290.95 L327.0 290.71 L327.5 290.83 L328.0 291.11 L328.5 291.06 L329.0 290.94 L329.5 291.09 L330.0 291.19 L330.5 290.99 L331.0 291.20 L331.5 291.11 L332.0 291.30 L332.5 291.33 L333.0 290.90 L333.5 290.92 L334.0 291.05 L334.5 291.43 L335.0 291.49 L335.5 291.07 L336.0 290.96 L336.5 290.99 L337.0 290.98 L337.5 291.32 L338.0 291.28 L338.5 291.24 L339.0 291.06 L339.5 291.54 L340.0 291.55 L340.5 291.36 L341.0 291.27 L341.5 291.04 L342.0 291.20 L342.5 291.20 L343.0 291.31 L343.5 291.56 L344.0 291.29 L344.5 291.30 L345.0 291.43 L345.5 291.40 L346.0 291.51 L346.5 290.99 L347.0 290.87 L347.5 291.44 L348.0 291.12 L348.5 291.54 L349.0 291.14 L349.5 291.28 L350.0 290.91 L350.5 291.27 L351.0 291.34 L351.5 291.55 L352.0 290.80 L352.5 290.95 L353.0 291.50 L353.5 291.14 L354.0 290.86 L354.5 291.36 L355.0 290.81 L355.5 290.95 L356.0 291.47 L356.5 291.48 L357.0 290.96 L357.5 291.41 L358.0 291.36 L358.5 291.07 L359.0 290.88 L359.5 291.27 L360.0 291.15 L360.5 290.79 L361.0 290.60 L361.5 290.99 L362.0 290.67 L362.5 290.89 L363.0 290.50 L363.5 290.65 L364.0 290.66 L364.5 289.70 L365.0 289.33 L365.5 288.80 L366.0 288.21 L366.5 287.02 L367.0 284.19 L367.5 281.37 L368.0 278.43 L368.5 275.84 L369.0 276.13 L369.5 277.19 L370.0 280.07 L370.5 282.25 L371.0 285.16 L371.5 286.58 L372.0 288.04 L372.5 289.10 L373.0 289.52 L373.5 289.53 L374.0 290.32 L374.5 290.32 L375.0 290.36 L375.5 290.83 L376.0 290.78 L376.5 290.70 L377.0 291.08 L377.5 291.16 L378.0 290.90 L378.5 290.59 L379.0 291.20 L379.5 291.00 L380.0 290.96 L380.5 291.32 L381.0 290.57 L381.5 291.03 L382.0 290.95 L382.5 290.45 L383.0 290.31 L383.5 290.05 L384.0 289.71 L384.5 289.42 L385.0 290.09 L385.5 290.31 L386.0 290.55 L386.5 290.87 L387.0 290.74 L387.5 291.45 L388.0 291.33 L388.5 291.20 L389.0 291.26 L389.5 291.58 L390.0 291.15 L390.5 290.97" stroke="#dc4646" stroke-width="1.44" fill="none" stroke-linejoin="round" stroke-linecap="round"/><path d="M389.5 291.58 L390.0 291.15 L390.5 290.97 L391.0 291.32 L391.5 291.32 L392.0 291.50 L392.5 291.23 L393.0 291.13 L393.5 291.24 L394.0 291.56 L394.5 291.04 L395.0 291.69 L395.5 291.47 L396.0 291.20 L396.5 291.39 L397.0 291.62 L397.5 291.41 L398.0 291.59 L398.5 291.12 L399.0 291.67 L399.5 291.84 L400.0 291.44 L400.5 291.73 L401.0 291.63 L401.5 291.56 L402.0 291.73 L402.5 291.35 L403.0 291.57 L403.5 291.51 L404.0 291.70 L404.5 291.90 L405.0 291.79 L405.5 291.18 L406.0 291.37 L406.5 291.73 L407.0 291.38 L407.5 291.89 L408.0 291.24 L408.5 291.76 L409.0 291.84 L409.5 291.78 L410.0 291.34 L410.5 291.39 L411.0 291.90 L411.5 291.47 L412.0 291.73 L412.5 291.93 L413.0 291.53 L413.5 291.68 L414.0 291.56 L414.5 291.89 L415.0 291.35 L415.5 291.72 L416.0 291.95 L416.5 291.21 L417.0 291.93 L417.5 291.25 L418.0 291.53 L418.5 291.49 L419.0 291.84 L419.5 291.91 L420.0 291.34 L420.5 291.48 L421.0 291.77 L421.5 291.62 L422.0 291.79 L422.5 291.49 L423.0 291.58 L423.5 291.75 L424.0 291.70 L424.5 291.42 L425.0 291.45 L425.5 291.35 L426.0 291.03 L426.5 291.06 L427.0 290.72 L427.5 290.24 L428.0 290.00 L428.5 289.25 L429.0 289.39 L429.5 289.07 L430.0 289.47 L430.5 290.52 L431.0 290.52 L431.5 290.90 L432.0 290.91 L432.5 291.55 L433.0 291.12 L433.5 291.33 L434.0 291.34 L434.5 291.01 L435.0 291.03 L435.5 291.63 L436.0 291.03 L436.5 291.07 L437.0 291.26 L437.5 290.61 L438.0 291.04 L438.5 290.74 L439.0 291.05 L439.5 291.51 L440.0 291.38 L440.5 291.33 L441.0 291.84 L441.5 291.30 L442.0 291.79 L442.5 291.39 L443.0 291.41 L443.5 291.29 L444.0 291.47 L444.5 291.81 L445.0 291.27 L445.5 291.62 L446.0 291.21 L446.5 291.46 L447.0 291.80 L447.5 291.39 L448.0 291.89 L448.5 291.53 L449.0 291.12 L449.5 291.17 L450.0 291.76 L450.5 291.63 L451.0 291.63 L451.5 291.61 L452.0 291.13 L452.5 291.42 L453.0 291.54 L453.5 291.41 L454.0 291.81 L454.5 291.80 L455.0 291.20 L455.5 291.34 L456.0 291.35 L456.5 291.10 L457.0 291.34 L457.5 291.66 L458.0 291.04 L458.5 291.57 L459.0 291.19 L459.5 291.15 L460.0 291.13 L460.5 291.18 L461.0 291.22 L461.5 291.67 L462.0 291.15 L462.5 291.29 L463.0 291.11 L463.5 291.35 L464.0 291.35 L464.5 291.35 L465.0 291.62 L465.5 291.24 L466.0 291.42 L466.5 291.57 L467.0 290.89 L467.5 290.82 L468.0 291.45 L468.5 290.63 L469.0 290.93 L469.5 290.99 L470.0 290.59 L470.5 289.73 L471.0 289.04 L471.5 288.01 L472.0 288.29 L472.5 287.85 L473.0 288.10 L473.5 289.20 L474.0 289.20 L474.5 289.66 L475.0 290.15 L475.5 290.59 L476.0 290.58 L476.5 289.95 L477.0 289.58 L477.5 289.21 L478.0 289.85 L478.5 290.14 L479.0 290.42 L479.5 290.65 L480.0 290.75 L480.5 290.93 L481.0 291.20 L481.5 290.96 L482.0 291.18 L482.5 291.23 L483.0 291.53 L483.5 290.87 L484.0 291.48 L484.5 291.02 L485.0 291.58 L485.5 291.01 L486.0 290.95 L486.5 291.02 L487.0 291.59 L487.5 291.59 L488.0 291.06 L488.5 291.22 L489.0 291.59 L489.5 290.98 L490.0 291.35 L490.5 291.00 L491.0 291.23 L491.5 291.63 L492.0 291.46 L492.5 291.50 L493.0 291.23 L493.5 291.07 L494.0 291.44 L494.5 291.58 L495.0 291.49 L495.5 291.18 L496.0 291.34 L496.5 290.90 L497.0 290.89 L497.5 290.86 L498.0 290.81 L498.5 291.60 L499.0 290.87 L499.5 290.87 L500.0 291.13 L500.5 291.21 L501.0 291.44 L501.5 291.05 L502.0 291.35 L502.5 291.34 L503.0 291.09 L503.5 290.99 L504.0 291.53 L504.5 291.53 L505.0 291.18 L505.5 291.11 L506.0 291.52 L506.5 291.11 L507.0 291.32 L507.5 290.85 L508.0 291.31 L508.5 291.54 L509.0 291.00 L509.5 291.11 L510.0 290.77 L510.5 291.30 L511.0 290.93 L511.5 291.33 L512.0 291.20 L512.5 291.02 L513.0 291.26 L513.5 291.06 L514.0 291.23 L514.5 291.13 L515.0 290.94 L515.5 291.31 L516.0 291.22 L516.5 291.30 L517.0 291.43 L517.5 291.23 L518.0 291.23 L518.5 291.30 L519.0 291.38 L519.5 291.45 L520.0 290.80 L520.5 291.39 L521.0 291.29 L521.5 291.37 L522.0 290.89 L522.5 291.21 L523.0 291.41 L523.5 291.37 L524.0 291.35 L524.5 290.99 L525.0 290.68 L525.5 291.38 L526.0 290.76 L526.5 291.21 L527.0 290.65 L527.5 290.69 L528.0 291.38 L528.5 290.96 L529.0 291.27 L529.5 291.08 L530.0 291.35 L530.5 290.69 L531.0 290.82 L531.5 291.31 L532.0 291.32 L532.5 290.75 L533.0 291.33 L533.5 291.08 L534.0 291.34 L534.5 291.28 L535.0 291.18 L535.5 291.40 L536.0 291.04 L536.5 291.24 L537.0 290.88 L537.5 290.97 L538.0 290.83 L538.5 291.14 L539.0 291.11 L539.5 291.22 L540.0 290.77 L540.5 290.76 L541.0 290.77 L541.5 291.33 L542.0 291.46 L542.5 290.94 L543.0 290.98 L543.5 291.39 L544.0 290.70 L544.5 290.90 L545.0 291.16 L545.5 291.11 L546.0 291.49 L546.5 290.76 L547.0 290.74 L547.5 291.08 L548.0 291.20 L548.5 291.02 L549.0 291.32 L549.5 290.88 L550.0 290.80 L550.5 290.96 L551.0 291.19 L551.5 291.36 L552.0 290.74 L552.5 290.88 L553.0 290.86" stroke="#dc4646" stroke-width="1.22" fill="none" stroke-linejoin="round" stroke-linecap="round"/>
<path d="M54.5 325.85 L55.0 326.60 L55.5 326.77 L56.0 326.32 L56.5 326.30 L57.0 326.30 L57.5 326.27 L58.0 326.51 L58.5 326.59 L59.0 327.40 L59.5 326.76 L60.0 326.85 L60.5 327.75 L61.0 327.83 L61.5 327.02 L62.0 327.35 L62.5 328.17 L63.0 327.60 L63.5 327.95 L64.0 328.10 L64.5 328.14 L65.0 327.57 L65.5 328.39 L66.0 328.58 L66.5 328.26 L67.0 328.23 L67.5 328.72 L68.0 329.10 L68.5 329.13 L69.0 328.39 L69.5 329.08 L70.0 328.87 L70.5 329.49 L71.0 329.55 L71.5 329.09 L72.0 329.63 L72.5 329.69 L73.0 328.91 L73.5 329.31 L74.0 329.98 L74.5 329.27 L75.0 329.57 L75.5 329.85 L76.0 329.61 L76.5 330.16 L77.0 329.57 L77.5 330.10 L78.0 330.11 L78.5 329.61 L79.0 330.52 L79.5 330.58 L80.0 330.72 L80.5 330.06 L81.0 330.50 L81.5 330.14 L82.0 330.85 L82.5 330.78 L83.0 331.15 L83.5 330.38 L84.0 330.58 L84.5 330.44 L85.0 331.44 L85.5 331.19 L86.0 330.70 L86.5 331.42 L87.0 331.15 L87.5 331.16 L88.0 331.64 L88.5 331.64 L89.0 331.43 L89.5 331.27 L90.0 331.43 L90.5 331.50 L91.0 331.33 L91.5 331.38 L92.0 331.86 L92.5 332.37 L93.0 332.00 L93.5 331.86 L94.0 331.51 L94.5 332.54 L95.0 331.94 L95.5 331.97 L96.0 332.49 L96.5 332.72 L97.0 331.92 L97.5 331.93 L98.0 332.15 L98.5 333.05 L99.0 332.58 L99.5 332.18 L100.0 332.83 L100.5 332.71 L101.0 332.33 L101.5 332.33 L102.0 332.72 L102.5 333.42 L103.0 332.88 L103.5 333.54 L104.0 332.91 L104.5 332.90 L105.0 332.70 L105.5 333.30 L106.0 332.86 L106.5 333.77 L107.0 333.45 L107.5 332.83 L108.0 333.54 L108.5 333.42 L109.0 333.66 L109.5 333.64 L110.0 333.14 L110.5 333.59 L111.0 333.80 L111.5 333.23 L112.0 334.14 L112.5 334.00 L113.0 333.47 L113.5 333.38 L114.0 333.77 L114.5 334.06 L115.0 334.10 L115.5 333.57 L116.0 334.13 L116.5 334.12 L117.0 333.73 L117.5 334.13 L118.0 334.31 L118.5 334.45 L119.0 333.80 L119.5 333.79 L120.0 334.52 L120.5 334.86 L121.0 334.42 L121.5 334.82 L122.0 334.29 L122.5 334.07 L123.0 334.66 L123.5 334.26 L124.0 334.93 L124.5 334.83 L125.0 334.10 L125.5 334.41 L126.0 334.97 L126.5 334.18 L127.0 334.39 L127.5 334.21 L128.0 334.96 L128.5 335.29 L129.0 335.03 L129.5 335.25 L130.0 334.51 L130.5 335.21 L131.0 335.44 L131.5 335.27 L132.0 334.63 L132.5 334.74 L133.0 335.47 L133.5 335.22 L134.0 334.93 L134.5 334.78 L135.0 334.56 L135.5 335.39 L136.0 335.21 L136.5 334.73 L137.0 334.73 L137.5 335.70 L138.0 335.64 L138.5 334.65 L139.0 334.85 L139.5 335.65 L140.0 335.19 L140.5 335.66 L141.0 335.26 L141.5 335.16 L142.0 335.81 L142.5 335.12 L143.0 335.82 L143.5 335.65 L144.0 334.96 L144.5 335.85 L145.0 335.89 L145.5 334.99 L146.0 335.46 L146.5 335.42 L147.0 335.17 L147.5 335.71 L148.0 335.93 L148.5 335.89 L149.0 335.82 L149.5 335.39 L150.0 335.66 L150.5 335.90 L151.0 335.32 L151.5 335.80 L152.0 335.46 L152.5 335.98 L153.0 335.38 L153.5 335.60 L154.0 335.50 L154.5 335.17 L155.0 335.55 L155.5 335.83 L156.0 335.71 L156.5 336.06 L157.0 335.90 L157.5 335.16 L158.0 335.58 L158.5 335.52 L159.0 335.05 L159.5 336.07 L160.0 335.73 L160.5 335.37 L161.0 335.70 L161.5 335.74 L162.0 335.85 L162.5 335.97 L163.0 335.61 L163.5 335.54 L164.0 335.58 L164.5 335.19 L165.0 334.95 L165.5 335.70 L166.0 335.66 L166.5 334.92 L167.0 335.17 L167.5 334.99 L168.0 334.80 L168.5 335.38 L169.0 334.97 L169.5 334.77 L170.0 335.11 L170.5 335.03 L171.0 334.26 L171.5 334.32 L172.0 333.66 L172.5 333.20 L173.0 332.55 L173.5 331.54 L174.0 329.60 L174.5 326.22 L175.0 321.81 L175.5 313.37 L176.0 303.42 L176.5 296.30 L177.0 297.26 L177.5 302.83 L178.0 311.98 L178.5 318.72 L179.0 323.90 L179.5 328.66 L180.0 330.22 L180.5 332.38 L181.0 332.36 L181.5 333.02 L182.0 334.07 L182.5 333.83 L183.0 334.78 L183.5 334.60 L184.0 335.36 L184.5 334.91 L185.0 335.29 L185.5 335.02 L186.0 335.14 L186.5 335.43 L187.0 335.22 L187.5 335.60 L188.0 335.37 L188.5 335.65 L189.0 335.27 L189.5 335.48 L190.0 335.54 L190.5 335.73 L191.0 336.32 L191.5 336.33 L192.0 335.79 L192.5 336.04 L193.0 336.21 L193.5 336.29 L194.0 336.04 L194.5 335.57 L195.0 336.11 L195.5 335.84 L196.0 335.58 L196.5 335.61 L197.0 336.25 L197.5 335.74 L198.0 335.79 L198.5 335.93 L199.0 335.84 L199.5 336.09 L200.0 335.85 L200.5 335.82 L201.0 336.23 L201.5 335.76 L202.0 336.40 L202.5 336.48 L203.0 335.82 L203.5 336.22 L204.0 336.42 L204.5 335.91 L205.0 336.52 L205.5 336.05 L206.0 335.81 L206.5 335.81 L207.0 336.02 L207.5 336.02 L208.0 336.32 L208.5 336.25 L209.0 336.45 L209.5 336.29 L210.0 336.08 L210.5 335.87 L211.0 336.50 L211.5 336.07 L212.0 336.54 L212.5 335.88 L213.0 336.02 L213.5 336.55 L214.0 336.45 L214.5 335.91 L215.0 336.40 L215.5 336.49 L216.0 336.40 L216.5 336.41 L217.0 336.02 L217.5 336.18 L218.0 336.46 L218.5 336.33 L219.0 335.82 L219.5 335.94 L220.0 336.02 L220.5 335.88 L221.0 336.00 L221.5 335.84 L222.0 336.42 L222.5 335.89 L223.0 336.42 L223.5 336.25 L224.0 335.78 L224.5 335.63 L225.0 336.09 L225.5 335.55 L226.0 335.66 L226.5 335.48 L227.0 335.03 L227.5 334.81 L228.0 334.30 L228.5 333.67 L229.0 332.67 L229.5 332.43 L230.0 331.55 L230.5 330.29 L231.0 330.01 L231.5 329.61 L232.0 329.94 L232.5 330.14 L233.0 330.59 L233.5 331.08 L234.0 332.09 L234.5 332.27 L235.0 332.29 L235.5 332.80 L236.0 332.86 L236.5 331.62 L237.0 330.59 L237.5 328.25 L238.0 325.91 L238.5 323.82 L239.0 323.94 L239.5 326.10 L240.0 328.01 L240.5 330.46 L241.0 331.71 L241.5 333.72 L242.0 334.20 L242.5 335.21 L243.0 335.50 L243.5 335.80 L244.0 336.05 L244.5 335.49 L245.0 336.14 L245.5 335.82 L246.0 336.50 L246.5 336.51 L247.0 336.21 L247.5 336.39 L248.0 336.14 L248.5 336.21 L249.0 336.29 L249.5 336.29 L250.0 336.62 L250.5 336.84" stroke="#4a4a4a" stroke-width="1.70" fill="none" stroke-linejoin="round" stroke-linecap="round"/><path d="M249.5 336.29 L250.0 336.62 L250.5 336.84 L251.0 336.66 L251.5 336.12 L252.0 336.73 L252.5 336.45 L253.0 336.40 L253.5 336.32 L254.0 336.30 L254.5 336.91 L255.0 336.52 L255.5 336.76 L256.0 336.12 L256.5 336.71 L257.0 336.53 L257.5 336.62 L258.0 336.29 L258.5 336.27 L259.0 335.64 L259.5 335.80 L260.0 335.71 L260.5 335.01 L261.0 335.08 L261.5 335.36 L262.0 335.61 L262.5 335.59 L263.0 335.15 L263.5 335.07 L264.0 335.33 L264.5 335.16 L265.0 335.18 L265.5 334.76 L266.0 334.61 L266.5 334.38 L267.0 334.31 L267.5 334.76 L268.0 335.14 L268.5 335.46 L269.0 335.88 L269.5 335.94 L270.0 336.21 L270.5 336.02 L271.0 336.20 L271.5 335.93 L272.0 336.06 L272.5 335.86 L273.0 334.91 L273.5 334.42 L274.0 333.30 L274.5 332.37 L275.0 331.11 L275.5 331.33 L276.0 331.59 L276.5 333.11 L277.0 333.51 L277.5 334.55 L278.0 335.38 L278.5 335.99 L279.0 336.46 L279.5 336.03 L280.0 336.23 L280.5 336.65 L281.0 336.97 L281.5 337.16 L282.0 337.16 L282.5 336.89 L283.0 337.25 L283.5 337.10 L284.0 337.24 L284.5 337.18 L285.0 337.26 L285.5 337.00 L286.0 337.05 L286.5 336.81 L287.0 337.43 L287.5 337.43 L288.0 336.64 L288.5 337.27 L289.0 337.39 L289.5 337.22 L290.0 337.34 L290.5 337.28 L291.0 337.03 L291.5 336.41 L292.0 336.93 L292.5 336.10 L293.0 336.23 L293.5 335.44 L294.0 335.81 L294.5 335.09 L295.0 335.37 L295.5 335.49 L296.0 335.27 L296.5 336.03 L297.0 336.51 L297.5 336.61 L298.0 336.68 L298.5 336.44 L299.0 336.75 L299.5 337.31 L300.0 337.27 L300.5 337.05 L301.0 336.85 L301.5 337.26 L302.0 337.14 L302.5 337.13 L303.0 337.02 L303.5 337.63 L304.0 337.06 L304.5 337.18 L305.0 337.60 L305.5 337.59 L306.0 337.47 L306.5 337.39 L307.0 337.55 L307.5 337.65 L308.0 337.02 L308.5 337.66 L309.0 337.75 L309.5 337.33 L310.0 337.68 L310.5 337.56 L311.0 337.84 L311.5 337.82 L312.0 337.72 L312.5 337.56 L313.0 337.48 L313.5 337.75 L314.0 337.62 L314.5 337.79 L315.0 337.34 L315.5 337.85 L316.0 337.18 L316.5 337.72 L317.0 337.29 L317.5 337.60 L318.0 337.75 L318.5 337.37 L319.0 337.20 L319.5 337.75 L320.0 337.37 L320.5 337.24 L321.0 337.23 L321.5 337.67 L322.0 337.69 L322.5 338.00 L323.0 337.52 L323.5 337.91 L324.0 337.59 L324.5 337.36 L325.0 337.66 L325.5 337.54 L326.0 337.32 L326.5 338.01 L327.0 337.55 L327.5 337.47 L328.0 338.06 L328.5 337.90 L329.0 337.99 L329.5 337.43 L330.0 337.79 L330.5 337.68 L331.0 337.82 L331.5 337.90 L332.0 337.57 L332.5 338.07 L333.0 337.34 L333.5 337.61 L334.0 338.04 L334.5 337.77 L335.0 337.69 L335.5 337.69 L336.0 337.79 L336.5 337.32 L337.0 337.89 L337.5 337.63 L338.0 337.53 L338.5 337.65 L339.0 337.42 L339.5 338.06 L340.0 337.86 L340.5 337.52 L341.0 337.34 L341.5 337.82 L342.0 337.98 L342.5 337.42 L343.0 337.79 L343.5 338.01 L344.0 337.48 L344.5 337.78 L345.0 337.73 L345.5 337.40 L346.0 337.87 L346.5 337.49 L347.0 338.00 L347.5 337.54 L348.0 337.52 L348.5 337.80 L349.0 337.74 L349.5 337.98 L350.0 337.54 L350.5 337.63 L351.0 337.35 L351.5 337.72 L352.0 337.94 L352.5 337.69 L353.0 337.75 L353.5 338.02 L354.0 337.62 L354.5 337.42 L355.0 337.63 L355.5 337.55 L356.0 337.27 L356.5 337.84 L357.0 337.23 L357.5 337.42 L358.0 337.86 L358.5 337.87 L359.0 337.25 L359.5 337.51 L360.0 337.24 L360.5 337.73 L361.0 337.76 L361.5 337.34 L362.0 337.09 L362.5 337.14 L363.0 337.18 L363.5 337.41 L364.0 336.50 L364.5 336.99 L365.0 336.68 L365.5 335.88 L366.0 334.60 L366.5 333.52 L367.0 331.82 L367.5 328.64 L368.0 325.94 L368.5 323.25 L369.0 322.02 L369.5 323.76 L370.0 326.23 L370.5 328.46 L371.0 330.81 L371.5 332.77 L372.0 333.92 L372.5 335.13 L373.0 335.78 L373.5 336.03 L374.0 336.72 L374.5 337.03 L375.0 336.81 L375.5 337.26 L376.0 336.92 L376.5 337.63 L377.0 337.61 L377.5 336.99 L378.0 337.31 L378.5 337.55 L379.0 337.65 L379.5 337.67 L380.0 337.27 L380.5 337.80 L381.0 337.58 L381.5 337.56 L382.0 337.55 L382.5 337.55 L383.0 337.23 L383.5 336.80 L384.0 336.24 L384.5 335.37 L385.0 334.94 L385.5 335.37 L386.0 335.54 L386.5 335.45 L387.0 336.18 L387.5 336.99 L388.0 337.29 L388.5 337.05 L389.0 337.79 L389.5 337.44 L390.0 337.49 L390.5 337.63" stroke="#4a4a4a" stroke-width="1.44" fill="none" stroke-linejoin="round" stroke-linecap="round"/><path d="M389.5 337.44 L390.0 337.49 L390.5 337.63 L391.0 337.66 L391.5 337.60 L392.0 337.72 L392.5 337.91 L393.0 337.60 L393.5 337.86 L394.0 338.18 L394.5 337.98 L395.0 338.15 L395.5 337.49 L396.0 337.69 L396.5 337.80 L397.0 337.81 L397.5 337.59 L398.0 337.55 L398.5 337.64 L399.0 338.07 L399.5 338.13 L400.0 337.92 L400.5 337.80 L401.0 337.91 L401.5 337.89 L402.0 338.19 L402.5 337.82 L403.0 337.90 L403.5 337.59 L404.0 337.52 L404.5 337.93 L405.0 338.10 L405.5 337.73 L406.0 338.01 L406.5 338.22 L407.0 337.92 L407.5 337.67 L408.0 338.16 L408.5 337.63 L409.0 338.32 L409.5 338.30 L410.0 338.03 L410.5 337.96 L411.0 338.01 L411.5 337.87 L412.0 337.83 L412.5 337.92 L413.0 338.21 L413.5 338.09 L414.0 338.12 L414.5 338.10 L415.0 338.32 L415.5 337.63 L416.0 337.97 L416.5 337.83 L417.0 337.61 L417.5 338.05 L418.0 337.71 L418.5 338.16 L419.0 338.13 L419.5 337.85 L420.0 338.27 L420.5 338.08 L421.0 337.90 L421.5 337.96 L422.0 337.85 L422.5 337.94 L423.0 338.06 L423.5 337.84 L424.0 337.81 L424.5 337.76 L425.0 337.57 L425.5 337.94 L426.0 337.69 L426.5 337.82 L427.0 337.35 L427.5 337.27 L428.0 336.72 L428.5 336.30 L429.0 336.61 L429.5 337.06 L430.0 337.11 L430.5 337.13 L431.0 337.77 L431.5 337.66 L432.0 337.62 L432.5 338.03 L433.0 337.56 L433.5 337.89 L434.0 337.68 L434.5 337.74 L435.0 337.85 L435.5 337.74 L436.0 337.56 L436.5 337.16 L437.0 336.79 L437.5 337.15 L438.0 336.72 L438.5 336.96 L439.0 337.49 L439.5 338.00 L440.0 338.00 L440.5 337.88 L441.0 337.48 L441.5 337.87 L442.0 337.62 L442.5 338.20 L443.0 337.97 L443.5 337.93 L444.0 338.01 L444.5 338.09 L445.0 338.14 L445.5 337.64 L446.0 337.86 L446.5 337.56 L447.0 337.88 L447.5 338.10 L448.0 337.81 L448.5 337.89 L449.0 338.29 L449.5 338.03 L450.0 338.07 L450.5 337.91 L451.0 338.16 L451.5 337.65 L452.0 337.80 L452.5 338.32 L453.0 337.71 L453.5 337.79 L454.0 337.83 L454.5 337.97 L455.0 338.04 L455.5 338.26 L456.0 338.12 L456.5 337.63 L457.0 337.81 L457.5 338.18 L458.0 338.03 L458.5 338.00 L459.0 337.54 L459.5 337.62 L460.0 337.62 L460.5 338.06 L461.0 337.85 L461.5 337.75 L462.0 338.19 L462.5 338.19 L463.0 338.10 L463.5 337.65 L464.0 337.90 L464.5 338.21 L465.0 337.75 L465.5 337.50 L466.0 337.53 L466.5 338.11 L467.0 338.05 L467.5 338.14 L468.0 337.46 L468.5 337.83 L469.0 337.50 L469.5 337.56 L470.0 337.19 L470.5 337.34 L471.0 336.80 L471.5 336.61 L472.0 335.95 L472.5 335.33 L473.0 334.89 L473.5 334.83 L474.0 335.53 L474.5 336.25 L475.0 336.01 L475.5 336.80 L476.0 336.90 L476.5 337.13 L477.0 336.71 L477.5 336.97 L478.0 336.39 L478.5 336.28 L479.0 336.38 L479.5 336.80 L480.0 337.25 L480.5 337.13 L481.0 337.73 L481.5 337.51 L482.0 337.63 L482.5 337.76 L483.0 337.62 L483.5 337.40 L484.0 337.47 L484.5 337.56 L485.0 337.47 L485.5 338.05 L486.0 337.81 L486.5 337.66 L487.0 338.17 L487.5 337.98 L488.0 337.59 L488.5 337.96 L489.0 338.20 L489.5 338.15 L490.0 337.78 L490.5 337.80 L491.0 337.89 L491.5 337.80 L492.0 337.46 L492.5 337.71 L493.0 338.09 L493.5 337.79 L494.0 337.55 L494.5 337.43 L495.0 337.96 L495.5 338.06 L496.0 337.54 L496.5 337.96 L497.0 337.65 L497.5 337.50 L498.0 337.58 L498.5 337.49 L499.0 337.73 L499.5 337.43 L500.0 338.09 L500.5 337.57 L501.0 338.02 L501.5 337.41 L502.0 337.52 L502.5 337.60 L503.0 337.76 L503.5 338.06 L504.0 337.56 L504.5 337.70 L505.0 338.03 L505.5 337.51 L506.0 337.52 L506.5 337.48 L507.0 337.81 L507.5 337.64 L508.0 337.90 L508.5 337.88 L509.0 337.93 L509.5 337.78 L510.0 338.07 L510.5 337.98 L511.0 338.12 L511.5 338.01 L512.0 337.84 L512.5 338.13 L513.0 338.11 L513.5 338.09 L514.0 337.85 L514.5 337.80 L515.0 337.42 L515.5 337.54 L516.0 337.43 L516.5 337.91 L517.0 338.09 L517.5 337.38 L518.0 338.00 L518.5 337.69 L519.0 338.11 L519.5 337.75 L520.0 337.52 L520.5 337.51 L521.0 338.11 L521.5 337.90 L522.0 337.38 L522.5 338.08 L523.0 337.49 L523.5 337.42 L524.0 337.63 L524.5 338.01 L525.0 337.51 L525.5 337.83 L526.0 337.48 L526.5 337.63 L527.0 337.64 L527.5 338.03 L528.0 337.86 L528.5 337.68 L529.0 338.05 L529.5 337.95 L530.0 337.87 L530.5 337.35 L531.0 337.56 L531.5 337.87 L532.0 338.13 L532.5 337.54 L533.0 337.96 L533.5 338.08 L534.0 337.45 L534.5 338.00 L535.0 338.05 L535.5 337.76 L536.0 337.94 L536.5 337.83 L537.0 338.03 L537.5 337.81 L538.0 337.47 L538.5 337.57 L539.0 337.67 L539.5 337.85 L540.0 337.83 L540.5 337.56 L541.0 337.69 L541.5 337.98 L542.0 337.76 L542.5 338.06 L543.0 337.97 L543.5 337.41 L544.0 337.83 L544.5 337.40 L545.0 338.06 L545.5 337.40 L546.0 337.90 L546.5 337.73 L547.0 337.44 L547.5 337.53 L548.0 338.02 L548.5 337.39 L549.0 337.58 L549.5 337.44 L550.0 337.45 L550.5 337.60 L551.0 337.66 L551.5 338.08 L552.0 337.87 L552.5 338.03 L553.0 338.06" stroke="#4a4a4a" stroke-width="1.22" fill="none" stroke-linejoin="round" stroke-linecap="round"/>
<polygon points="176.00,14.10 176.73,15.49 178.28,15.76 177.19,16.89 177.41,18.44 176.00,17.75 174.59,18.44 174.81,16.89 173.72,15.76 175.27,15.49" fill="#dc6470"/>
<path d="M180.8 15.4h5.4M183.5 13.0v4.8" stroke="#5656b6" stroke-width="1.0" fill="none"/>
<path d="M184.7 30.5L188.3 34.1M184.7 34.1L188.3 30.5" stroke="#5ee05e" stroke-width="1.2" fill="none"/>
<rect x="195.7" y="36.2" width="4.6" height="2" fill="#111"/>
<path d="M205.2 32.5L208.8 36.1M205.2 36.1L208.8 32.5" stroke="#5ee05e" stroke-width="1.2" fill="none"/>
<path d="M228.0 13.4h5.4M230.7 11.0v4.8" stroke="#5656b6" stroke-width="1.0" fill="none"/>
<rect x="257.7" y="35.1" width="4.6" height="2" fill="#111"/>
<path d="M264.3 34.3h5.4M267.0 31.9v4.8" stroke="#5656b6" stroke-width="1.0" fill="none"/>
<polygon points="292.00,34.40 292.73,35.79 294.28,36.06 293.19,37.19 293.41,38.74 292.00,38.05 290.59,38.74 290.81,37.19 289.72,36.06 291.27,35.79" fill="#dc6470"/>
<path d="M356.2 35.3L359.8 38.9M356.2 38.9L359.8 35.3" stroke="#5ee05e" stroke-width="1.2" fill="none"/>
<polygon points="366.90,28.00 367.63,29.39 369.18,29.66 368.09,30.79 368.31,32.34 366.90,31.65 365.49,32.34 365.71,30.79 364.62,29.66 366.17,29.39" fill="#dc6470"/>
<path d="M386.0 38.1h5.4M388.7 35.7v4.8" stroke="#5656b6" stroke-width="1.0" fill="none"/>
<path d="M401.7 38.9h5.4M404.4 36.5v4.8" stroke="#5656b6" stroke-width="1.0" fill="none"/>
<path d="M435.6 38.4h5.4M438.3 36.0v4.8" stroke="#5656b6" stroke-width="1.0" fill="none"/>
<rect x="444.2" y="36.1" width="4.6" height="2" fill="#111"/>
<path d="M453.3 38.4h5.4M456.0 36.0v4.8" stroke="#5656b6" stroke-width="1.0" fill="none"/>
<path d="M469.1 36.6L472.7 40.2M469.1 40.2L472.7 36.6" stroke="#5ee05e" stroke-width="1.2" fill="none"/>
<polygon points="477.70,36.00 478.43,37.39 479.98,37.66 478.89,38.79 479.11,40.34 477.70,39.65 476.29,40.34 476.51,38.79 475.42,37.66 476.97,37.39" fill="#dc6470"/>
<polygon points="174.80,44.90 175.53,46.29 177.08,46.56 175.99,47.69 176.21,49.24 174.80,48.55 173.39,49.24 173.61,47.69 172.52,46.56 174.07,46.29" fill="#dc6470"/>
<path d="M180.1 46.7h5.4M182.8 44.3v4.8" stroke="#5656b6" stroke-width="1.0" fill="none"/>
<path d="M190.2 67.2L193.8 70.8M190.2 70.8L193.8 67.2" stroke="#5ee05e" stroke-width="1.2" fill="none"/>
<path d="M227.4 47.8h5.4M230.1 45.4v4.8" stroke="#5656b6" stroke-width="1.0" fill="none"/>
<path d="M214.4 66.1L218.0 69.7M214.4 69.7L218.0 66.1" stroke="#5ee05e" stroke-width="1.2" fill="none"/>
<path d="M264.3 67.1h5.4M267.0 64.7v4.8" stroke="#5656b6" stroke-width="1.0" fill="none"/>
<polygon points="293.20,63.60 293.93,64.99 295.48,65.26 294.39,66.39 294.61,67.94 293.20,67.25 291.79,67.94 292.01,66.39 290.92,65.26 292.47,64.99" fill="#dc6470"/>
<path d="M356.7 66.9L360.3 70.5M356.7 70.5L360.3 66.9" stroke="#5ee05e" stroke-width="1.2" fill="none"/>
<polygon points="366.90,59.70 367.63,61.09 369.18,61.36 368.09,62.49 368.31,64.04 366.90,63.35 365.49,64.04 365.71,62.49 364.62,61.36 366.17,61.09" fill="#dc6470"/>
<path d="M386.0 68.0h5.4M388.7 65.6v4.8" stroke="#5656b6" stroke-width="1.0" fill="none"/>
<path d="M400.3 70.4h5.4M403.0 68.0v4.8" stroke="#5656b6" stroke-width="1.0" fill="none"/>
<polygon points="437.50,67.20 438.23,68.59 439.78,68.86 438.69,69.99 438.91,71.54 437.50,70.85 436.09,71.54 436.31,69.99 435.22,68.86 436.77,68.59" fill="#dc6470"/>
<path d="M443.8 68.0h5.4M446.5 65.6v4.8" stroke="#5656b6" stroke-width="1.0" fill="none"/>
<path d="M456.0 68.5h5.4M458.7 66.1v4.8" stroke="#5656b6" stroke-width="1.0" fill="none"/>
<path d="M469.1 65.9L472.7 69.5M469.1 69.5L472.7 65.9" stroke="#5ee05e" stroke-width="1.2" fill="none"/>
<polygon points="479.00,65.30 479.73,66.69 481.28,66.96 480.19,68.09 480.41,69.64 479.00,68.95 477.59,69.64 477.81,68.09 476.72,66.96 478.27,66.69" fill="#dc6470"/>
<polygon points="176.00,76.10 176.73,77.49 178.28,77.76 177.19,78.89 177.41,80.44 176.00,79.75 174.59,80.44 174.81,78.89 173.72,77.76 175.27,77.49" fill="#dc6470"/>
<path d="M180.8 77.5h5.4M183.5 75.1v4.8" stroke="#5656b6" stroke-width="1.0" fill="none"/>
<path d="M230.2 85.1h5.4M232.9 82.7v4.8" stroke="#5656b6" stroke-width="1.0" fill="none"/>
<path d="M263.1 100.5h5.4M265.8 98.1v4.8" stroke="#5656b6" stroke-width="1.0" fill="none"/>
<polygon points="291.00,101.40 291.73,102.79 293.28,103.06 292.19,104.19 292.41,105.74 291.00,105.05 289.59,105.74 289.81,104.19 288.72,103.06 290.27,102.79" fill="#dc6470"/>
<polygon points="367.70,90.80 368.43,92.19 369.98,92.46 368.89,93.59 369.11,95.14 367.70,94.45 366.29,95.14 366.51,93.59 365.42,92.46 366.97,92.19" fill="#dc6470"/>
<path d="M386.0 102.4h5.4M388.7 100.0v4.8" stroke="#5656b6" stroke-width="1.0" fill="none"/>
<path d="M400.3 103.2h5.4M403.0 100.8v4.8" stroke="#5656b6" stroke-width="1.0" fill="none"/>
<path d="M441.1 102.7h5.4M443.8 100.3v4.8" stroke="#5656b6" stroke-width="1.0" fill="none"/>
<polygon points="475.00,98.40 475.73,99.79 477.28,100.06 476.19,101.19 476.41,102.74 475.00,102.05 473.59,102.74 473.81,101.19 472.72,100.06 474.27,99.79" fill="#dc6470"/>
<polygon points="177.00,109.10 177.73,110.49 179.28,110.76 178.19,111.89 178.41,113.44 177.00,112.75 175.59,113.44 175.81,111.89 174.72,110.76 176.27,110.49" fill="#dc6470"/>
<path d="M181.3 110.7h5.4M184.0 108.3v4.8" stroke="#5656b6" stroke-width="1.0" fill="none"/>
<path d="M229.3 115.4h5.4M232.0 113.0v4.8" stroke="#5656b6" stroke-width="1.0" fill="none"/>
<path d="M261.7 128.5h5.4M264.4 126.1v4.8" stroke="#5656b6" stroke-width="1.0" fill="none"/>
<polygon points="293.80,125.80 294.53,127.19 296.08,127.46 294.99,128.59 295.21,130.14 293.80,129.45 292.39,130.14 292.61,128.59 291.52,127.46 293.07,127.19" fill="#dc6470"/>
<polygon points="368.30,120.80 369.03,122.19 370.58,122.46 369.49,123.59 369.71,125.14 368.30,124.45 366.89,125.14 367.11,123.59 366.02,122.46 367.57,122.19" fill="#dc6470"/>
<path d="M386.8 129.3h5.4M389.5 126.9v4.8" stroke="#5656b6" stroke-width="1.0" fill="none"/>
<path d="M401.7 129.8h5.4M404.4 127.4v4.8" stroke="#5656b6" stroke-width="1.0" fill="none"/>
<polygon points="437.50,126.90 438.23,128.29 439.78,128.56 438.69,129.69 438.91,131.24 437.50,130.55 436.09,131.24 436.31,129.69 435.22,128.56 436.77,128.29" fill="#dc6470"/>
<path d="M442.4 128.8h5.4M445.1 126.4v4.8" stroke="#5656b6" stroke-width="1.0" fill="none"/>
<polygon points="475.00,126.90 475.73,128.29 477.28,128.56 476.19,129.69 476.41,131.24 475.00,130.55 473.59,131.24 473.81,129.69 472.72,128.56 474.27,128.29" fill="#dc6470"/>
<polygon points="176.00,136.60 176.73,137.99 178.28,138.26 177.19,139.39 177.41,140.94 176.00,140.25 174.59,140.94 174.81,139.39 173.72,138.26 175.27,137.99" fill="#dc6470"/>
<path d="M181.3 137.9h5.4M184.0 135.5v4.8" stroke="#5656b6" stroke-width="1.0" fill="none"/>
<path d="M229.3 149.5h5.4M232.0 147.1v4.8" stroke="#5656b6" stroke-width="1.0" fill="none"/>
<polygon points="261.40,172.00 262.13,173.39 263.68,173.66 262.59,174.79 262.81,176.34 261.40,175.65 259.99,176.34 260.21,174.79 259.12,173.66 260.67,173.39" fill="#dc6470"/>
<path d="M265.9 173.8h5.4M268.6 171.4v4.8" stroke="#5656b6" stroke-width="1.0" fill="none"/>
<polygon points="293.80,172.00 294.53,173.39 296.08,173.66 294.99,174.79 295.21,176.34 293.80,175.65 292.39,176.34 292.61,174.79 291.52,173.66 293.07,173.39" fill="#dc6470"/>
<polygon points="366.90,158.00 367.63,159.39 369.18,159.66 368.09,160.79 368.31,162.34 366.90,161.65 365.49,162.34 365.71,160.79 364.62,159.66 366.17,159.39" fill="#dc6470"/>
<path d="M388.2 176.7h5.4M390.9 174.3v4.8" stroke="#5656b6" stroke-width="1.0" fill="none"/>
<path d="M402.3 178.8h5.4M405.0 176.4v4.8" stroke="#5656b6" stroke-width="1.0" fill="none"/>
<polygon points="437.50,176.70 438.23,178.09 439.78,178.36 438.69,179.49 438.91,181.04 437.50,180.35 436.09,181.04 436.31,179.49 435.22,178.36 436.77,178.09" fill="#dc6470"/>
<path d="M442.4 176.7h5.4M445.1 174.3v4.8" stroke="#5656b6" stroke-width="1.0" fill="none"/>
<path d="M457.9 176.7h5.4M460.6 174.3v4.8" stroke="#5656b6" stroke-width="1.0" fill="none"/>
<polygon points="474.40,174.60 475.13,175.99 476.68,176.26 475.59,177.39 475.81,178.94 474.40,178.25 472.99,178.94 473.21,177.39 472.12,176.26 473.67,175.99" fill="#dc6470"/>
<polygon points="177.00,186.10 177.73,187.49 179.28,187.76 178.19,188.89 178.41,190.44 177.00,189.75 175.59,190.44 175.81,188.89 174.72,187.76 176.27,187.49" fill="#dc6470"/>
<path d="M181.3 187.4h5.4M184.0 185.0v4.8" stroke="#5656b6" stroke-width="1.0" fill="none"/>
<path d="M229.3 196.2h5.4M232.0 193.8v4.8" stroke="#5656b6" stroke-width="1.0" fill="none"/>
<polygon points="261.70,214.20 262.43,215.59 263.98,215.86 262.89,216.99 263.11,218.54 261.70,217.85 260.29,218.54 260.51,216.99 259.42,215.86 260.97,215.59" fill="#dc6470"/>
<path d="M265.1 216.3h5.4M267.8 213.9v4.8" stroke="#5656b6" stroke-width="1.0" fill="none"/>
<polygon points="293.80,215.60 294.53,216.99 296.08,217.26 294.99,218.39 295.21,219.94 293.80,219.25 292.39,219.94 292.61,218.39 291.52,217.26 293.07,216.99" fill="#dc6470"/>
<polygon points="368.30,203.00 369.03,204.39 370.58,204.66 369.49,205.79 369.71,207.34 368.30,206.65 366.89,207.34 367.11,205.79 366.02,204.66 367.57,204.39" fill="#dc6470"/>
<path d="M387.6 217.2h5.4M390.3 214.8v4.8" stroke="#5656b6" stroke-width="1.0" fill="none"/>
<path d="M402.3 219.3h5.4M405.0 216.9v4.8" stroke="#5656b6" stroke-width="1.0" fill="none"/>
<polygon points="437.50,216.40 438.23,217.79 439.78,218.06 438.69,219.19 438.91,220.74 437.50,220.05 436.09,220.74 436.31,219.19 435.22,218.06 436.77,217.79" fill="#dc6470"/>
<path d="M443.0 218.0h5.4M445.7 215.6v4.8" stroke="#5656b6" stroke-width="1.0" fill="none"/>
<path d="M457.9 218.5h5.4M460.6 216.1v4.8" stroke="#5656b6" stroke-width="1.0" fill="none"/>
<polygon points="475.00,216.40 475.73,217.79 477.28,218.06 476.19,219.19 476.41,220.74 475.00,220.05 473.59,220.74 473.81,219.19 472.72,218.06 474.27,217.79" fill="#dc6470"/>
<polygon points="177.00,224.10 177.73,225.49 179.28,225.76 178.19,226.89 178.41,228.44 177.00,227.75 175.59,228.44 175.81,226.89 174.72,225.76 176.27,225.49" fill="#dc6470"/>
<path d="M181.3 225.7h5.4M184.0 223.3v4.8" stroke="#5656b6" stroke-width="1.0" fill="none"/>
<rect x="159.5" y="243.3" width="4.4" height="4" fill="none" stroke="#d24cb8" stroke-width="1"/>
<rect x="215.4" y="244.5" width="4.4" height="4" fill="none" stroke="#d24cb8" stroke-width="1"/>
<path d="M230.2 228.4h5.4M232.9 226.0v4.8" stroke="#5656b6" stroke-width="1.0" fill="none"/>
<polygon points="265.00,246.40 265.73,247.79 267.28,248.06 266.19,249.19 266.41,250.74 265.00,250.05 263.59,250.74 263.81,249.19 262.72,248.06 264.27,247.79" fill="#dc6470"/>
<path d="M268.7 247.9h5.4M271.4 245.5v4.8" stroke="#5656b6" stroke-width="1.0" fill="none"/>
<polygon points="294.30,246.60 295.03,247.99 296.58,248.26 295.49,249.39 295.71,250.94 294.30,250.25 292.89,250.94 293.11,249.39 292.02,248.26 293.57,247.99" fill="#dc6470"/>
<polygon points="368.30,235.20 369.03,236.59 370.58,236.86 369.49,237.99 369.71,239.54 368.30,238.85 366.89,239.54 367.11,237.99 366.02,236.86 367.57,236.59" fill="#dc6470"/>
<path d="M388.2 249.8h5.4M390.9 247.4v4.8" stroke="#5656b6" stroke-width="1.0" fill="none"/>
<polygon points="437.50,247.20 438.23,248.59 439.78,248.86 438.69,249.99 438.91,251.54 437.50,250.85 436.09,251.54 436.31,249.99 435.22,248.86 436.77,248.59" fill="#dc6470"/>
<path d="M447.3 250.7h5.4M450.0 248.3v4.8" stroke="#5656b6" stroke-width="1.0" fill="none"/>
<path d="M459.5 248.8h5.4M462.2 246.4v4.8" stroke="#5656b6" stroke-width="1.0" fill="none"/>
<polygon points="476.30,248.30 477.03,249.69 478.58,249.96 477.49,251.09 477.71,252.64 476.30,251.95 474.89,252.64 475.11,251.09 474.02,249.96 475.57,249.69" fill="#dc6470"/>
<polygon points="175.30,256.60 176.03,257.99 177.58,258.26 176.49,259.39 176.71,260.94 175.30,260.25 173.89,260.94 174.11,259.39 173.02,258.26 174.57,257.99" fill="#dc6470"/>
<path d="M178.3 259.2h5.4M181.0 256.8v4.8" stroke="#5656b6" stroke-width="1.0" fill="none"/>
<path d="M235.8 266.2h5.4M238.5 263.8v4.8" stroke="#5656b6" stroke-width="1.0" fill="none"/>
<path d="M265.9 284.0h5.4M268.6 281.6v4.8" stroke="#5656b6" stroke-width="1.0" fill="none"/>
<polygon points="275.60,276.40 276.33,277.79 277.88,278.06 276.79,279.19 277.01,280.74 275.60,280.05 274.19,280.74 274.41,279.19 273.32,278.06 274.87,277.79" fill="#dc6470"/>
<polygon points="293.80,281.90 294.53,283.29 296.08,283.56 294.99,284.69 295.21,286.24 293.80,285.55 292.39,286.24 292.61,284.69 291.52,283.56 293.07,283.29" fill="#dc6470"/>
<polygon points="369.10,268.80 369.83,270.19 371.38,270.46 370.29,271.59 370.51,273.14 369.10,272.45 367.69,273.14 367.91,271.59 366.82,270.46 368.37,270.19" fill="#dc6470"/>
<path d="M383.3 282.6h5.4M386.0 280.2v4.8" stroke="#5656b6" stroke-width="1.0" fill="none"/>
<polygon points="437.50,281.80 438.23,283.19 439.78,283.46 438.69,284.59 438.91,286.14 437.50,285.45 436.09,286.14 436.31,284.59 435.22,283.46 436.77,283.19" fill="#dc6470"/>
<path d="M445.7 286.1h5.4M448.4 283.7v4.8" stroke="#5656b6" stroke-width="1.0" fill="none"/>
<path d="M457.9 285.8h5.4M460.6 283.4v4.8" stroke="#5656b6" stroke-width="1.0" fill="none"/>
<polygon points="473.60,282.40 474.33,283.79 475.88,284.06 474.79,285.19 475.01,286.74 473.60,286.05 472.19,286.74 472.41,285.19 471.32,284.06 472.87,283.79" fill="#dc6470"/>
<polygon points="174.80,292.30 175.53,293.69 177.08,293.96 175.99,295.09 176.21,296.64 174.80,295.95 173.39,296.64 173.61,295.09 172.52,293.96 174.07,293.69" fill="#dc6470"/>
<path d="M177.6 293.7h5.4M180.3 291.3v4.8" stroke="#5656b6" stroke-width="1.0" fill="none"/>
<path d="M235.8 317.9h5.4M238.5 315.5v4.8" stroke="#5656b6" stroke-width="1.0" fill="none"/>
<polygon points="260.30,327.80 261.03,329.19 262.58,329.46 261.49,330.59 261.71,332.14 260.30,331.45 258.89,332.14 259.11,330.59 258.02,329.46 259.57,329.19" fill="#dc6470"/>
<path d="M263.7 328.5h5.4M266.4 326.1v4.8" stroke="#5656b6" stroke-width="1.0" fill="none"/>
<polygon points="275.30,324.40 276.03,325.79 277.58,326.06 276.49,327.19 276.71,328.74 275.30,328.05 273.89,328.74 274.11,327.19 273.02,326.06 274.57,325.79" fill="#dc6470"/>
<polygon points="294.90,328.60 295.63,329.99 297.18,330.26 296.09,331.39 296.31,332.94 294.90,332.25 293.49,332.94 293.71,331.39 292.62,330.26 294.17,329.99" fill="#dc6470"/>
<polygon points="368.30,316.60 369.03,317.99 370.58,318.26 369.49,319.39 369.71,320.94 368.30,320.25 366.89,320.94 367.11,319.39 366.02,318.26 367.57,317.99" fill="#dc6470"/>
<path d="M383.3 328.9h5.4M386.0 326.5v4.8" stroke="#5656b6" stroke-width="1.0" fill="none"/>
<polygon points="437.50,327.60 438.23,328.99 439.78,329.26 438.69,330.39 438.91,331.94 437.50,331.25 436.09,331.94 436.31,330.39 435.22,329.26 436.77,328.99" fill="#dc6470"/>
<path d="M445.1 333.5h5.4M447.8 331.1v4.8" stroke="#5656b6" stroke-width="1.0" fill="none"/>
<path d="M457.3 331.9h5.4M460.0 329.5v4.8" stroke="#5656b6" stroke-width="1.0" fill="none"/>
<polygon points="473.10,328.40 473.83,329.79 475.38,330.06 474.29,331.19 474.51,332.74 473.10,332.05 471.69,332.74 471.91,331.19 470.82,330.06 472.37,329.79" fill="#dc6470"/>
<polygon points="516.20,330.90 516.93,332.29 518.48,332.56 517.39,333.69 517.61,335.24 516.20,334.55 514.79,335.24 515.01,333.69 513.92,332.56 515.47,332.29" fill="#dc6470"/>
<!-- frame -->
<rect x="53.2" y="3.2" width="498.8" height="352.2" fill="none" stroke="#000" stroke-width="2.6"/>
<rect x="45.5" y="337" width="7" height="2.4" fill="#000"/>
<rect x="51.70" y="354" width="2.6" height="7.5" fill="#000"/>
<rect x="122.90" y="354" width="2.6" height="7.5" fill="#000"/>
<rect x="194.10" y="354" width="2.6" height="7.5" fill="#000"/>
<rect x="265.30" y="354" width="2.6" height="7.5" fill="#000"/>
<rect x="336.50" y="354" width="2.6" height="7.5" fill="#000"/>
<rect x="407.70" y="354" width="2.6" height="7.5" fill="#000"/>
<rect x="478.90" y="354" width="2.6" height="7.5" fill="#000"/>
<rect x="550.10" y="354" width="2.6" height="7.5" fill="#000"/>
<rect x="87.40" y="354" width="2.4" height="4.5" fill="#000"/>
<rect x="158.60" y="354" width="2.4" height="4.5" fill="#000"/>
<rect x="229.80" y="354" width="2.4" height="4.5" fill="#000"/>
<rect x="301.00" y="354" width="2.4" height="4.5" fill="#000"/>
<rect x="372.20" y="354" width="2.4" height="4.5" fill="#000"/>
<rect x="443.40" y="354" width="2.4" height="4.5" fill="#000"/>
<rect x="514.60" y="354" width="2.4" height="4.5" fill="#000"/>
<g class="t" font-size="19.8" fill="#000" color="#000"><text x="53.60" y="381" text-anchor="middle">10</text>
<text x="124.80" y="381" text-anchor="middle">20</text>
<text x="196.00" y="381" text-anchor="middle">30</text>
<text x="267.20" y="381" text-anchor="middle">40</text>
<text x="338.40" y="381" text-anchor="middle">50</text>
<text x="409.60" y="381" text-anchor="middle">60</text>
<text x="480.80" y="381" text-anchor="middle">70</text>
<text x="552.00" y="381" text-anchor="middle">80</text></g>
<g class="t" font-size="18" fill="#000" color="#000"><text x="521.3" y="33.0">B9</text>
<text x="521.3" y="67.2">B8</text>
<text x="521.3" y="100.6">B7</text>
<text x="521.3" y="132.7">B6</text>
<text x="521.3" y="170.6">B5</text>
<text x="521.3" y="210.0">B4</text>
<text x="521.3" y="242.5">B3</text>
<text x="521.3" y="283.1">B2</text>
<text x="521.3" y="318.9">B1</text></g>
<text class="t" x="277" y="415.4" font-size="22" color="#000"><tspan>2</tspan><tspan font-weight="normal" style="stroke-width:0.2px">&#952;</tspan><tspan dx="1.6">(</tspan><tspan dx="0.9" font-size="24.5">&#176;</tspan><tspan dx="3.2">)</tspan></text>
<text class="t" font-size="26" color="#000" transform="translate(21.5,250.1) rotate(-90) scale(0.874,1)">Intensity (a.u.)</text>
<!-- legend -->
<rect x="561.2" y="4.5" width="80" height="137.7" fill="#fff" stroke="#000" stroke-width="2.5"/>
<g class="t" font-size="18.7">
<text transform="translate(570,23.9) scale(1.2,1)" fill="#d42020" color="#d42020">*TiO<tspan dy="2.7" font-size="18.2">2</tspan></text>
<text transform="translate(569.5,52.0) scale(1.2,1)" fill="#1818c0" color="#1818c0">+RuO<tspan dy="2.0" font-size="18">2</tspan></text>
<text transform="translate(569.5,79.3) scale(1.2,1)" fill="#e020d8" color="#e020d8">&#164;Ti<tspan dy="2.4" font-size="17.5">2</tspan><tspan dy="-2.4">O</tspan><tspan dy="2.2">3</tspan></text>
<text transform="translate(569.5,107.6) scale(1.2,1)" fill="#34e034" color="#34e034"><tspan font-size="11" dy="-8">&#215;</tspan><tspan dy="8" dx="0.8">IrO<tspan dy="0.6">2</tspan></tspan></text>
<text transform="translate(569.5,135.2) scale(1.2,1)" fill="#111" color="#111">-TaO<tspan dy="1">2</tspan></text>
</g>
</svg>
</body></html>
